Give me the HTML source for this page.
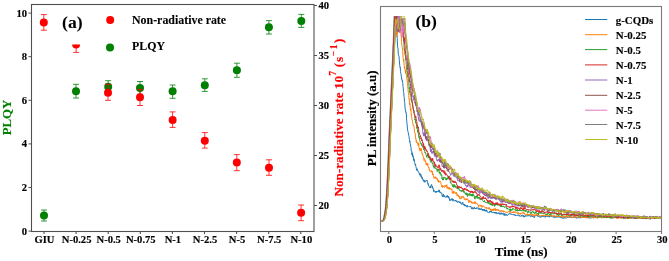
<!DOCTYPE html><html><head><meta charset="utf-8"><style>html,body{margin:0;padding:0;background:#fff;width:669px;height:261px;overflow:hidden}svg{display:block;will-change:transform;filter:blur(0.3px)}text{font-family:'Liberation Serif',serif;font-weight:bold;stroke:#000;stroke-width:0.15px}</style></head><body>
<svg width="669" height="261" viewBox="0 0 669 261">
<line x1="28.5" y1="231.1" x2="31.5" y2="231.1" stroke="#505050" stroke-width="1"/>
<text x="27" y="234.5" font-size="10.6" text-anchor="end">0</text>
<line x1="28.5" y1="187.5" x2="31.5" y2="187.5" stroke="#505050" stroke-width="1"/>
<text x="27" y="190.9" font-size="10.6" text-anchor="end">2</text>
<line x1="28.5" y1="143.89999999999998" x2="31.5" y2="143.89999999999998" stroke="#505050" stroke-width="1"/>
<text x="27" y="147.29999999999998" font-size="10.6" text-anchor="end">4</text>
<line x1="28.5" y1="100.29999999999998" x2="31.5" y2="100.29999999999998" stroke="#505050" stroke-width="1"/>
<text x="27" y="103.69999999999999" font-size="10.6" text-anchor="end">6</text>
<line x1="28.5" y1="56.69999999999999" x2="31.5" y2="56.69999999999999" stroke="#505050" stroke-width="1"/>
<text x="27" y="60.09999999999999" font-size="10.6" text-anchor="end">8</text>
<line x1="28.5" y1="13.099999999999994" x2="31.5" y2="13.099999999999994" stroke="#505050" stroke-width="1"/>
<text x="27" y="16.499999999999993" font-size="10.6" text-anchor="end">10</text>
<line x1="314" y1="205.5" x2="317" y2="205.5" stroke="#505050" stroke-width="1"/>
<text x="318.4" y="209.4" font-size="10.6">20</text>
<line x1="314" y1="155.5" x2="317" y2="155.5" stroke="#505050" stroke-width="1"/>
<text x="318.4" y="159.4" font-size="10.6">25</text>
<line x1="314" y1="105.5" x2="317" y2="105.5" stroke="#505050" stroke-width="1"/>
<text x="318.4" y="109.4" font-size="10.6">30</text>
<line x1="314" y1="55.5" x2="317" y2="55.5" stroke="#505050" stroke-width="1"/>
<text x="318.4" y="59.4" font-size="10.6">35</text>
<line x1="314" y1="5.5" x2="317" y2="5.5" stroke="#505050" stroke-width="1"/>
<text x="318.4" y="9.4" font-size="10.6">40</text>
<line x1="44.0" y1="231.5" x2="44.0" y2="234.1" stroke="#505050" stroke-width="1.1"/>
<text x="44.5" y="242.55" font-size="10.6" text-anchor="middle">GIU</text>
<line x1="76.1" y1="231.5" x2="76.1" y2="234.1" stroke="#505050" stroke-width="1.1"/>
<text x="76.6" y="242.55" font-size="10.6" text-anchor="middle">N-0.25</text>
<line x1="108.2" y1="231.5" x2="108.2" y2="234.1" stroke="#505050" stroke-width="1.1"/>
<text x="108.7" y="242.55" font-size="10.6" text-anchor="middle">N-0.5</text>
<line x1="140.3" y1="231.5" x2="140.3" y2="234.1" stroke="#505050" stroke-width="1.1"/>
<text x="140.8" y="242.55" font-size="10.6" text-anchor="middle">N-0.75</text>
<line x1="172.4" y1="231.5" x2="172.4" y2="234.1" stroke="#505050" stroke-width="1.1"/>
<text x="172.9" y="242.55" font-size="10.6" text-anchor="middle">N-1</text>
<line x1="204.5" y1="231.5" x2="204.5" y2="234.1" stroke="#505050" stroke-width="1.1"/>
<text x="205.0" y="242.55" font-size="10.6" text-anchor="middle">N-2.5</text>
<line x1="236.60000000000002" y1="231.5" x2="236.60000000000002" y2="234.1" stroke="#505050" stroke-width="1.1"/>
<text x="237.10000000000002" y="242.55" font-size="10.6" text-anchor="middle">N-5</text>
<line x1="268.70000000000005" y1="231.5" x2="268.70000000000005" y2="234.1" stroke="#505050" stroke-width="1.1"/>
<text x="269.20000000000005" y="242.55" font-size="10.6" text-anchor="middle">N-7.5</text>
<line x1="300.8" y1="231.5" x2="300.8" y2="234.1" stroke="#505050" stroke-width="1.1"/>
<text x="301.3" y="242.55" font-size="10.6" text-anchor="middle">N-10</text>
<line x1="44" y1="210" x2="44" y2="221" stroke="#008000" stroke-width="0.8"/>
<line x1="41" y1="210" x2="47" y2="210" stroke="#008000" stroke-width="0.8"/>
<line x1="41" y1="221" x2="47" y2="221" stroke="#008000" stroke-width="0.8"/>
<circle cx="44" cy="215.5" r="4" fill="#008000"/>
<line x1="76" y1="84.3" x2="76" y2="98" stroke="#008000" stroke-width="0.8"/>
<line x1="73" y1="84.3" x2="79" y2="84.3" stroke="#008000" stroke-width="0.8"/>
<line x1="73" y1="98" x2="79" y2="98" stroke="#008000" stroke-width="0.8"/>
<circle cx="76" cy="91.2" r="4" fill="#008000"/>
<line x1="108.2" y1="80.7" x2="108.2" y2="93" stroke="#008000" stroke-width="0.8"/>
<line x1="105.2" y1="80.7" x2="111.2" y2="80.7" stroke="#008000" stroke-width="0.8"/>
<line x1="105.2" y1="93" x2="111.2" y2="93" stroke="#008000" stroke-width="0.8"/>
<circle cx="108.2" cy="86.8" r="4" fill="#008000"/>
<line x1="140" y1="81.5" x2="140" y2="94.3" stroke="#008000" stroke-width="0.8"/>
<line x1="137" y1="81.5" x2="143" y2="81.5" stroke="#008000" stroke-width="0.8"/>
<line x1="137" y1="94.3" x2="143" y2="94.3" stroke="#008000" stroke-width="0.8"/>
<circle cx="140" cy="87.9" r="4" fill="#008000"/>
<line x1="172.6" y1="85" x2="172.6" y2="98.3" stroke="#008000" stroke-width="0.8"/>
<line x1="169.6" y1="85" x2="175.6" y2="85" stroke="#008000" stroke-width="0.8"/>
<line x1="169.6" y1="98.3" x2="175.6" y2="98.3" stroke="#008000" stroke-width="0.8"/>
<circle cx="172.6" cy="91.3" r="4" fill="#008000"/>
<line x1="204.8" y1="78.8" x2="204.8" y2="91.4" stroke="#008000" stroke-width="0.8"/>
<line x1="201.8" y1="78.8" x2="207.8" y2="78.8" stroke="#008000" stroke-width="0.8"/>
<line x1="201.8" y1="91.4" x2="207.8" y2="91.4" stroke="#008000" stroke-width="0.8"/>
<circle cx="204.8" cy="85.3" r="4" fill="#008000"/>
<line x1="236.9" y1="63.2" x2="236.9" y2="77.3" stroke="#008000" stroke-width="0.8"/>
<line x1="233.9" y1="63.2" x2="239.9" y2="63.2" stroke="#008000" stroke-width="0.8"/>
<line x1="233.9" y1="77.3" x2="239.9" y2="77.3" stroke="#008000" stroke-width="0.8"/>
<circle cx="236.9" cy="70.3" r="4" fill="#008000"/>
<line x1="268.9" y1="20.6" x2="268.9" y2="34" stroke="#008000" stroke-width="0.8"/>
<line x1="265.9" y1="20.6" x2="271.9" y2="20.6" stroke="#008000" stroke-width="0.8"/>
<line x1="265.9" y1="34" x2="271.9" y2="34" stroke="#008000" stroke-width="0.8"/>
<circle cx="268.9" cy="27.3" r="4" fill="#008000"/>
<line x1="301.3" y1="14.4" x2="301.3" y2="27.4" stroke="#008000" stroke-width="0.8"/>
<line x1="298.3" y1="14.4" x2="304.3" y2="14.4" stroke="#008000" stroke-width="0.8"/>
<line x1="298.3" y1="27.4" x2="304.3" y2="27.4" stroke="#008000" stroke-width="0.8"/>
<circle cx="301.3" cy="21.1" r="4" fill="#008000"/>
<line x1="43.8" y1="14.6" x2="43.8" y2="30.2" stroke="#ff0000" stroke-width="0.8"/>
<line x1="40.8" y1="14.6" x2="46.8" y2="14.6" stroke="#ff0000" stroke-width="0.8"/>
<line x1="40.8" y1="30.2" x2="46.8" y2="30.2" stroke="#ff0000" stroke-width="0.8"/>
<circle cx="43.8" cy="22.4" r="4" fill="#ff0000"/>
<line x1="76.1" y1="44.4" x2="76.1" y2="52.4" stroke="#ff0000" stroke-width="0.8"/>
<line x1="73.1" y1="52.4" x2="79.1" y2="52.4" stroke="#ff0000" stroke-width="0.8"/>
<path d="M72.1,44.4 A4,4 0 0 0 80.1,44.4 Z" fill="#ff0000"/>
<line x1="108" y1="84.2" x2="108" y2="100.3" stroke="#ff0000" stroke-width="0.8"/>
<line x1="105" y1="84.2" x2="111" y2="84.2" stroke="#ff0000" stroke-width="0.8"/>
<line x1="105" y1="100.3" x2="111" y2="100.3" stroke="#ff0000" stroke-width="0.8"/>
<circle cx="108" cy="92.7" r="4" fill="#ff0000"/>
<line x1="140" y1="89.4" x2="140" y2="105.5" stroke="#ff0000" stroke-width="0.8"/>
<line x1="137" y1="89.4" x2="143" y2="89.4" stroke="#ff0000" stroke-width="0.8"/>
<line x1="137" y1="105.5" x2="143" y2="105.5" stroke="#ff0000" stroke-width="0.8"/>
<circle cx="140" cy="97.3" r="4" fill="#ff0000"/>
<line x1="172.6" y1="111.9" x2="172.6" y2="127.4" stroke="#ff0000" stroke-width="0.8"/>
<line x1="169.6" y1="111.9" x2="175.6" y2="111.9" stroke="#ff0000" stroke-width="0.8"/>
<line x1="169.6" y1="127.4" x2="175.6" y2="127.4" stroke="#ff0000" stroke-width="0.8"/>
<circle cx="172.6" cy="120" r="4" fill="#ff0000"/>
<line x1="204.8" y1="132.6" x2="204.8" y2="148.1" stroke="#ff0000" stroke-width="0.8"/>
<line x1="201.8" y1="132.6" x2="207.8" y2="132.6" stroke="#ff0000" stroke-width="0.8"/>
<line x1="201.8" y1="148.1" x2="207.8" y2="148.1" stroke="#ff0000" stroke-width="0.8"/>
<circle cx="204.8" cy="140.7" r="4" fill="#ff0000"/>
<line x1="236.8" y1="154.6" x2="236.8" y2="170.7" stroke="#ff0000" stroke-width="0.8"/>
<line x1="233.8" y1="154.6" x2="239.8" y2="154.6" stroke="#ff0000" stroke-width="0.8"/>
<line x1="233.8" y1="170.7" x2="239.8" y2="170.7" stroke="#ff0000" stroke-width="0.8"/>
<circle cx="236.8" cy="162.6" r="4" fill="#ff0000"/>
<line x1="269" y1="159.8" x2="269" y2="175.3" stroke="#ff0000" stroke-width="0.8"/>
<line x1="266" y1="159.8" x2="272" y2="159.8" stroke="#ff0000" stroke-width="0.8"/>
<line x1="266" y1="175.3" x2="272" y2="175.3" stroke="#ff0000" stroke-width="0.8"/>
<circle cx="269" cy="167.8" r="4" fill="#ff0000"/>
<line x1="301.1" y1="205" x2="301.1" y2="220.7" stroke="#ff0000" stroke-width="0.8"/>
<line x1="298.1" y1="205" x2="304.1" y2="205" stroke="#ff0000" stroke-width="0.8"/>
<line x1="298.1" y1="220.7" x2="304.1" y2="220.7" stroke="#ff0000" stroke-width="0.8"/>
<circle cx="301.1" cy="212.8" r="4" fill="#ff0000"/>
<rect x="31.5" y="4.5" width="282.5" height="227.0" fill="none" stroke="#505050" stroke-width="1.1"/>
<circle cx="110.2" cy="20.1" r="4" fill="#ff0000"/>
<text x="132" y="23.7" font-size="11.9" style="stroke-width:0.1px">Non-radiative rate</text>
<circle cx="110" cy="47.5" r="4" fill="#008000"/>
<text x="132" y="49.8" font-size="11.9" style="stroke-width:0.1px">PLQY</text>
<text x="62.1" y="27.8" font-size="17.6" style="stroke-width:0.05px">(a)</text>
<text transform="translate(10.7,117.5) rotate(-90)" font-size="12.8" fill="#008000" style="stroke:#008000" text-anchor="middle">PLQY</text>
<text transform="rotate(-90)" x="-196.5" y="343.4" font-size="13.15" fill="#ff0000" style="stroke:#ff0000" text-anchor="start">Non-radiative rate</text>
<text transform="rotate(-90)" x="-82.55" y="343.4" font-size="13.2" fill="#ff0000" style="stroke:#ff0000" text-anchor="middle">10</text>
<text transform="rotate(-90)" x="-73.25" y="335.7" font-size="9.6" fill="#ff0000" style="stroke:#ff0000" text-anchor="middle">7</text>
<text transform="rotate(-90)" x="-64.95" y="343.4" font-size="13.2" fill="#ff0000" style="stroke:#ff0000" text-anchor="middle">(</text>
<text transform="rotate(-90)" x="-59.45" y="343.4" font-size="13.2" fill="#ff0000" style="stroke:#ff0000" text-anchor="middle">s</text>
<text transform="rotate(-90)" x="-53.5" y="337.3" font-size="9.6" fill="#ff0000" style="stroke:#ff0000" text-anchor="middle">−</text>
<text transform="rotate(-90)" x="-46.9" y="337.3" font-size="9.6" fill="#ff0000" style="stroke:#ff0000" text-anchor="middle">1</text>
<text transform="rotate(-90)" x="-40.9" y="343.4" font-size="13.2" fill="#ff0000" style="stroke:#ff0000" text-anchor="middle">)</text>
<line x1="388.8" y1="231.5" x2="388.8" y2="234.1" stroke="#7a7a7a" stroke-width="1.1"/>
<text x="389.40000000000003" y="242.55" font-size="10.6" text-anchor="middle">0</text>
<line x1="434.265" y1="231.5" x2="434.265" y2="234.1" stroke="#7a7a7a" stroke-width="1.1"/>
<text x="434.865" y="242.55" font-size="10.6" text-anchor="middle">5</text>
<line x1="479.73" y1="231.5" x2="479.73" y2="234.1" stroke="#7a7a7a" stroke-width="1.1"/>
<text x="480.33000000000004" y="242.55" font-size="10.6" text-anchor="middle">10</text>
<line x1="525.195" y1="231.5" x2="525.195" y2="234.1" stroke="#7a7a7a" stroke-width="1.1"/>
<text x="525.7950000000001" y="242.55" font-size="10.6" text-anchor="middle">15</text>
<line x1="570.6600000000001" y1="231.5" x2="570.6600000000001" y2="234.1" stroke="#7a7a7a" stroke-width="1.1"/>
<text x="571.2600000000001" y="242.55" font-size="10.6" text-anchor="middle">20</text>
<line x1="616.125" y1="231.5" x2="616.125" y2="234.1" stroke="#7a7a7a" stroke-width="1.1"/>
<text x="616.725" y="242.55" font-size="10.6" text-anchor="middle">25</text>
<line x1="661.59" y1="231.5" x2="661.59" y2="234.1" stroke="#7a7a7a" stroke-width="1.1"/>
<text x="662.19" y="242.55" font-size="10.6" text-anchor="middle">30</text>
<text x="521.3" y="255.7" font-size="13" text-anchor="middle">Time (ns)</text>
<text transform="translate(376.4,118.3) rotate(-90)" font-size="13" text-anchor="middle">PL intensity (a.u)</text>
<text x="415.4" y="27.4" font-size="17.6" style="stroke-width:0.05px">(b)</text>
<defs><clipPath id="cb"><rect x="381" y="16" width="280.5" height="215"/></clipPath></defs>
<g clip-path="url(#cb)">
<polyline points="380.50,221.2 380.75,221.1 381.00,221.1 381.25,221.1 381.50,221.0 381.75,221.0 382.00,220.9 382.25,220.6 382.50,220.4 382.75,220.1 383.00,219.5 383.25,219.0 383.50,218.4 383.75,217.5 384.00,216.3 384.25,214.9 384.50,213.7 384.75,212.2 385.00,210.6 385.25,208.7 385.50,206.5 385.75,203.5 386.00,200.3 386.25,196.5 386.50,192.6 386.75,188.3 387.00,183.8 387.25,178.4 387.50,173.1 387.75,167.3 388.00,161.4 388.25,154.9 388.50,148.6 388.75,142.3 389.00,136.0 389.25,130.6 389.50,125.0 389.75,119.4 390.00,114.2 390.25,108.6 390.50,103.1 390.75,97.6 391.00,92.4 391.25,86.7 391.50,81.0 391.75,76.1 392.00,70.0 392.25,64.5 392.50,58.8 392.75,52.3 393.00,45.5 393.25,43.1 393.50,35.0 393.75,27.7 394.00,23.5 394.25,16.0 394.50,16.0 394.75,16.0 395.00,19.7 395.25,19.5 395.50,20.6 395.75,20.8 396.00,21.9 396.25,29.1 396.50,30.7 396.75,33.5 397.00,35.1 397.25,38.4 397.50,45.9 397.75,47.8 398.00,48.0 398.25,54.2 398.50,54.2 398.75,55.9 399.00,56.2 399.25,59.3 399.50,63.0 399.75,65.3 400.00,67.3 400.25,67.0 400.50,71.6 400.75,73.2 401.00,73.8 401.25,75.8 401.50,77.1 401.75,79.5 402.00,79.3 402.25,81.2 402.50,80.8 402.75,83.3 403.00,86.4 403.25,88.0 403.50,91.9 403.75,92.6 404.00,96.3 404.25,97.7 404.50,102.2 404.75,102.4 405.00,107.2 405.25,109.9 405.50,109.8 405.75,112.4 406.00,113.0 406.25,112.7 406.50,118.8 406.75,121.4 407.00,123.5 407.25,126.1 407.50,129.3 407.75,131.1 408.00,131.3 408.25,132.4 408.50,135.0 408.75,135.1 409.00,136.3 409.25,139.1 409.50,139.3 409.75,142.1 410.00,141.6 410.25,143.7 410.50,145.0 410.75,146.9 411.00,147.7 411.25,151.0 411.50,151.4 411.75,151.2 412.00,154.8 412.25,152.8 412.50,156.3 412.75,154.7 413.00,157.2 413.25,156.6 413.50,158.1 413.75,160.6 414.00,158.8 414.25,159.5 414.50,161.8 414.75,162.9 415.00,163.6 415.25,165.2 415.50,164.0 415.75,166.3 416.00,166.7 416.25,168.3 416.50,168.9 416.75,170.3 417.00,168.6 417.25,170.3 417.50,169.6 417.75,170.6 418.00,171.5 418.25,171.5 418.50,172.1 418.75,172.1 419.00,172.9 419.25,173.4 419.50,174.9 419.75,174.9 420.00,173.3 420.25,175.7 420.50,176.3 420.75,175.4 421.00,174.6 421.25,177.1 421.50,176.3 421.75,177.0 422.00,178.6 422.25,177.2 422.50,178.5 422.75,179.1 423.00,180.3 423.25,179.6 423.50,180.7 423.75,180.6 424.00,181.8 424.25,182.2 424.50,180.4 424.75,182.1 425.00,181.5 425.25,181.7 425.50,181.7 425.75,181.5 426.00,180.3 426.25,180.8 426.50,180.7 426.75,180.7 427.00,180.0 427.25,180.9 427.50,181.7 427.75,183.1 428.00,184.6 428.25,183.6 428.50,184.4 428.75,186.1 429.00,186.4 429.25,186.8 429.50,187.1 429.75,187.2 430.00,188.1 430.25,186.3 430.50,188.0 430.75,185.9 431.00,185.8 431.25,185.2 431.50,184.4 431.75,184.8 432.00,187.1 432.25,187.9 432.50,186.5 432.75,188.4 433.00,188.3 433.25,188.3 433.50,190.8 433.75,191.7 434.00,190.3 434.25,190.7 434.50,191.1 434.75,190.9 435.00,191.7 435.25,192.3 435.50,191.4 435.75,192.2 436.00,192.8 436.25,191.2 436.50,191.5 436.75,191.0 437.00,191.9 437.25,191.6 437.50,191.8 437.75,191.7 438.00,190.9 438.25,191.7 438.50,190.9 438.75,191.0 439.00,189.8 439.25,192.3 439.50,190.7 439.75,191.5 440.00,191.6 440.25,192.9 440.50,192.5 440.75,192.0 441.00,193.1 441.25,193.4 441.50,194.1 441.75,193.4 442.00,194.5 442.25,196.2 442.50,195.2 442.75,196.1 443.00,197.1 443.25,195.2 443.50,194.1 443.75,195.3 444.00,196.5 444.25,196.7 444.50,195.7 444.75,196.7 445.00,197.1 445.25,197.3 445.50,197.2 445.75,196.6 446.00,196.6 446.25,196.6 446.50,197.2 446.75,196.0 447.00,196.6 447.25,195.4 447.50,197.1 447.75,196.5 448.00,196.7 448.25,197.9 448.50,196.2 448.75,196.8 449.00,198.4 449.25,197.8 449.50,198.4 449.75,200.7 450.00,199.1 450.25,199.6 450.50,199.7 450.75,200.6 451.00,200.1 451.25,199.9 451.50,198.8 451.75,199.3 452.00,199.5 452.25,198.5 452.50,200.0 452.75,200.1 453.00,201.2 453.25,199.1 453.50,199.7 453.75,199.9 454.00,200.2 454.25,200.8 454.50,200.8 454.75,201.2 455.00,201.2 455.25,201.0 455.50,200.0 455.75,200.7 456.00,201.1 456.25,201.6 456.50,201.8 456.75,200.6 457.00,201.5 457.25,201.9 457.50,202.2 457.75,202.6 458.00,201.8 458.25,201.0 458.50,201.7 458.75,201.6 459.00,201.6 459.25,201.5 459.50,202.7 459.75,202.0 460.00,202.6 460.25,201.8 460.50,203.2 460.75,202.8 461.00,202.6 461.25,204.1 461.50,204.4 461.75,203.9 462.00,203.9 462.25,204.3 462.50,203.2 462.75,202.1 463.00,203.6 463.25,203.8 463.50,204.6 463.75,204.1 464.00,205.4 464.25,205.6 464.50,204.4 464.75,205.9 465.00,205.0 465.25,204.9 465.50,205.9 465.75,205.9 466.00,205.2 466.25,206.5 466.50,206.8 466.75,207.2 467.00,206.3 467.25,205.4 467.50,205.8 467.75,207.0 468.00,207.0 468.25,206.9 468.50,206.5 468.75,206.8 469.00,206.5 469.25,206.5 469.50,206.8 469.75,206.6 470.00,206.6 470.25,206.8 470.50,206.7 470.75,206.0 471.00,207.0 471.25,207.5 471.50,208.7 471.75,207.7 472.00,209.1 472.25,208.9 472.50,207.6 472.75,207.7 473.00,208.3 473.25,209.2 473.50,208.4 473.75,208.6 474.00,207.9 474.25,207.0 474.50,208.2 474.75,208.7 475.00,208.9 475.25,208.2 475.50,208.2 475.75,208.8 476.00,208.2 476.25,209.0 476.50,207.8 476.75,207.7 477.00,207.6 477.25,208.4 477.50,207.8 477.75,208.1 478.00,208.4 478.25,208.6 478.50,209.3 478.75,209.5 479.00,208.4 479.25,209.0 479.50,208.8 479.75,208.4 480.00,209.9 480.25,209.4 480.50,208.9 480.75,208.8 481.00,209.3 481.25,208.5 481.50,209.0 481.75,209.9 482.00,209.9 482.25,209.0 482.50,209.3 482.75,210.7 483.00,209.0 483.25,209.5 483.50,209.2 483.75,210.3 484.00,210.4 484.25,211.1 484.50,209.3 484.75,211.0 485.00,210.0 485.25,211.1 485.50,210.5 485.75,211.3 486.00,210.4 486.25,209.7 486.50,211.1 486.75,210.2 487.00,211.0 487.25,212.1 487.50,212.2 487.75,212.4 488.00,212.4 488.25,212.7 488.50,212.9 488.75,212.6 489.00,212.9 489.25,212.8 489.50,211.9 489.75,211.2 490.00,212.3 490.25,211.4 490.50,211.7 490.75,211.9 491.00,211.0 491.25,211.8 491.50,210.9 491.75,212.4 492.00,212.0 492.25,212.5 492.50,212.9 492.75,212.2 493.00,212.6 493.25,212.2 493.50,212.5 493.75,213.1 494.00,212.6 494.25,212.6 494.50,212.1 494.75,213.1 495.00,212.5 495.25,213.3 495.50,212.1 495.75,213.0 496.00,213.4 496.25,212.7 496.50,212.3 496.75,213.8 497.00,213.7 497.25,213.5 497.50,213.7 497.75,212.9 498.00,213.4 498.25,213.4 498.50,212.7 498.75,213.4 499.00,212.8 499.25,213.6 499.50,213.9 499.75,214.4 500.00,212.7 500.25,214.0 500.50,213.9 500.75,214.1 501.00,213.9 501.25,213.9 501.50,212.8 501.75,214.2 502.00,214.3 502.25,214.0 502.50,214.1 502.75,213.2 503.00,213.3 503.25,214.4 503.50,214.8 503.75,214.4 504.00,213.6 504.25,215.6 504.50,213.9 504.75,214.6 505.00,213.6 505.25,214.8 505.50,214.6 505.75,215.4 506.00,215.3 506.25,214.3 506.50,214.6 506.75,215.2 507.00,215.4 507.25,215.8 507.50,215.0 507.75,214.8 508.00,214.7 508.25,214.6 508.50,215.0 508.75,214.4 509.00,214.2 509.25,213.4 509.50,213.0 509.75,213.8 510.00,214.0 510.25,213.7 510.50,213.9 510.75,214.1 511.00,213.9 511.25,214.5 511.50,213.9 511.75,214.3 512.00,214.3 512.25,214.5 512.50,214.9 512.75,215.0 513.00,214.7 513.25,214.8 513.50,214.4 513.75,214.5 514.00,215.1 514.25,214.4 514.50,215.1 514.75,214.8 515.00,214.8 515.25,215.9 515.50,215.0 515.75,215.1 516.00,215.3 516.25,215.5 516.50,215.4 516.75,215.5 517.00,215.1 517.25,215.2 517.50,214.8 517.75,215.4 518.00,214.8 518.25,214.9 518.50,215.2 518.75,215.4 519.00,215.1 519.25,216.3 519.50,215.5 519.75,215.8 520.00,215.9 520.25,215.9 520.50,216.4 520.75,216.1 521.00,215.6 521.25,215.6 521.50,215.6 521.75,216.3 522.00,215.3 522.25,214.9 522.50,214.9 522.75,215.3 523.00,216.3 523.25,215.3 523.50,216.0 523.75,217.2 524.00,216.0 524.25,216.9 524.50,216.8 524.75,216.5 525.00,215.6 525.25,216.4 525.50,216.1 525.75,215.3 526.00,215.3 526.25,215.9 526.50,215.9 526.75,216.3 527.00,216.1 527.25,215.6 527.50,215.7 527.75,215.9 528.00,215.4 528.25,216.2 528.50,215.8 528.75,215.4 529.00,215.4 529.25,215.2 529.50,215.6 529.75,215.9 530.00,215.7 530.25,216.3 530.50,216.6 530.75,215.5 531.00,215.8 531.25,215.5 531.50,216.4 531.75,215.7 532.00,215.8 532.25,215.9 532.50,216.6 532.75,215.9 533.00,215.5 533.25,215.9 533.50,216.6 533.75,216.5 534.00,216.3 534.25,217.9 534.50,216.7 534.75,216.3 535.00,216.2 535.25,215.6 535.50,215.7 535.75,215.9 536.00,215.7 536.25,215.4 536.50,216.0 536.75,215.8 537.00,215.5 537.25,215.1 537.50,216.2 537.75,216.2 538.00,216.2 538.25,215.7 538.50,216.4 538.75,215.8 539.00,216.9 539.25,216.7 539.50,216.8 539.75,216.4 540.00,216.3 540.25,217.5 540.50,217.2 540.75,216.6 541.00,216.9 541.25,217.2 541.50,215.9 541.75,216.0 542.00,215.9 542.25,216.3 542.50,215.6 542.75,216.3 543.00,215.8 543.25,216.8 543.50,216.9 543.75,216.5 544.00,217.0 544.25,216.4 544.50,216.6 544.75,217.2 545.00,216.7 545.25,216.9 545.50,216.4 545.75,217.1 546.00,217.1 546.25,216.4 546.50,215.9 546.75,216.0 547.00,216.8 547.25,216.6 547.50,216.0 547.75,216.7 548.00,217.0 548.25,216.5 548.50,216.4 548.75,217.0 549.00,217.3 549.25,217.1 549.50,216.0 549.75,216.5 550.00,216.2 550.25,216.0 550.50,215.9 550.75,216.3 551.00,216.0 551.25,216.7 551.50,216.6 551.75,216.9 552.00,216.0 552.25,216.5 552.50,216.9 552.75,216.8 553.00,216.8 553.25,216.5 553.50,217.6 553.75,217.5 554.00,217.4 554.25,216.2 554.50,216.9 554.75,217.4 555.00,217.0 555.25,216.4 555.50,217.4 555.75,217.4 556.00,216.7 556.25,217.1 556.50,216.9 556.75,217.4 557.00,216.1 557.25,216.1 557.50,216.4 557.75,216.3 558.00,217.4 558.25,216.2 558.50,216.6 558.75,216.4 559.00,216.3 559.25,216.8 559.50,217.4 559.75,216.6 560.00,217.1 560.25,217.0 560.50,217.2 560.75,217.2 561.00,218.1 561.25,216.7 561.50,217.2 561.75,217.0 562.00,216.8 562.25,217.8 562.50,218.6 562.75,218.3 563.00,218.4 563.25,218.0 563.50,217.6 563.75,218.4 564.00,217.4 564.25,218.2 564.50,217.5 564.75,217.7 565.00,217.9 565.25,217.8 565.50,218.0 565.75,217.9 566.00,218.3 566.25,217.6 566.50,216.7 566.75,216.6 567.00,216.8 567.25,217.1 567.50,217.6 567.75,216.7 568.00,217.4 568.25,217.4 568.50,217.5 568.75,217.4 569.00,217.6 569.25,217.4 569.50,217.7 569.75,217.3 570.00,216.1 570.25,217.1 570.50,217.2 570.75,217.0 571.00,217.0 571.25,217.9 571.50,217.7 571.75,217.2 572.00,217.5 572.25,217.6 572.50,216.9 572.75,217.8 573.00,217.4 573.25,217.5 573.50,216.5 573.75,217.9 574.00,217.2 574.25,217.1 574.50,216.6 574.75,216.7 575.00,216.4 575.25,217.7 575.50,216.8 575.75,217.3 576.00,217.5 576.25,217.0 576.50,217.7 576.75,218.3 577.00,217.6 577.25,218.2 577.50,217.8 577.75,217.4 578.00,217.4 578.25,216.8 578.50,217.5 578.75,218.1 579.00,217.7 579.25,217.8 579.50,217.9 579.75,217.1 580.00,217.6 580.25,218.2 580.50,217.0 580.75,217.4 581.00,217.2 581.25,217.4 581.50,217.2 581.75,217.5 582.00,216.9 582.25,217.2 582.50,217.1 582.75,217.0 583.00,217.6 583.25,217.0 583.50,217.0 583.75,216.8 584.00,217.4 584.25,216.2 584.50,216.9 584.75,217.4 585.00,217.7 585.25,217.2 585.50,217.2 585.75,217.6 586.00,217.4 586.25,217.8 586.50,217.4 586.75,217.9 587.00,217.6 587.25,217.1 587.50,216.3 587.75,217.6 588.00,217.2 588.25,217.2 588.50,216.4 588.75,217.2 589.00,217.0 589.25,217.0 589.50,217.6 589.75,217.8 590.00,217.7 590.25,218.4 590.50,218.1 590.75,217.6 591.00,217.3 591.25,217.5 591.50,218.2 591.75,217.7 592.00,217.3 592.25,217.4 592.50,217.6 592.75,217.9 593.00,217.2 593.25,217.6 593.50,217.8 593.75,217.5 594.00,216.6 594.25,217.1 594.50,216.8 594.75,217.6 595.00,217.1 595.25,217.7 595.50,217.6 595.75,216.4 596.00,217.2 596.25,217.7 596.50,217.5 596.75,217.4 597.00,217.0 597.25,217.7 597.50,218.2 597.75,217.7 598.00,217.6 598.25,217.6 598.50,217.1 598.75,217.5 599.00,217.2 599.25,218.0 599.50,217.1 599.75,216.6 600.00,217.0 600.25,217.2 600.50,217.2 600.75,216.5 601.00,217.7 601.25,217.5 601.50,217.4 601.75,217.3 602.00,217.9 602.25,217.6 602.50,217.8 602.75,217.5 603.00,217.5 603.25,217.8 603.50,217.3 603.75,216.9 604.00,217.7 604.25,217.4 604.50,217.1 604.75,217.9 605.00,217.4 605.25,218.0 605.50,217.2 605.75,216.7 606.00,216.7 606.25,217.6 606.50,217.0 606.75,217.2 607.00,217.1 607.25,216.5 607.50,217.7 607.75,216.8 608.00,217.4 608.25,216.9 608.50,217.4 608.75,217.8 609.00,217.4 609.25,217.1 609.50,217.4 609.75,217.2 610.00,217.7 610.25,218.4 610.50,217.1 610.75,217.2 611.00,217.4 611.25,217.4 611.50,217.0 611.75,217.6 612.00,217.8 612.25,217.7 612.50,217.2 612.75,218.2 613.00,217.1 613.25,217.7 613.50,217.8 613.75,216.7 614.00,217.2 614.25,217.7 614.50,217.3 614.75,216.8 615.00,216.7 615.25,217.4 615.50,217.1 615.75,217.0 616.00,217.6 616.25,217.3 616.50,217.5 616.75,217.8 617.00,217.7 617.25,217.4 617.50,217.3 617.75,217.4 618.00,217.3 618.25,216.6 618.50,216.9 618.75,216.7 619.00,216.6 619.25,216.9 619.50,216.2 619.75,217.5 620.00,216.8 620.25,217.2 620.50,216.3 620.75,216.3 621.00,217.9 621.25,217.5 621.50,216.9 621.75,217.0 622.00,217.2 622.25,217.7 622.50,217.6 622.75,217.6 623.00,218.0 623.25,217.6 623.50,219.0 623.75,217.7 624.00,218.4 624.25,217.5 624.50,218.0 624.75,218.3 625.00,217.8 625.25,218.3 625.50,218.3 625.75,218.5 626.00,217.8 626.25,217.6 626.50,217.4 626.75,217.9 627.00,217.5 627.25,218.1 627.50,218.2 627.75,217.9 628.00,217.7 628.25,218.2 628.50,218.1 628.75,218.0 629.00,217.9 629.25,218.3 629.50,217.5 629.75,218.0 630.00,217.5 630.25,217.9 630.50,217.3 630.75,217.3 631.00,217.6 631.25,216.6 631.50,217.4 631.75,217.0 632.00,217.4 632.25,218.2 632.50,218.2 632.75,217.9 633.00,218.0 633.25,217.9 633.50,218.0 633.75,218.5 634.00,217.8 634.25,218.6 634.50,217.4 634.75,217.9 635.00,217.9 635.25,217.8 635.50,217.6 635.75,218.4 636.00,218.5 636.25,218.2 636.50,218.6 636.75,218.1 637.00,217.0 637.25,218.1 637.50,217.5 637.75,218.4 638.00,217.8 638.25,218.1 638.50,218.1 638.75,217.9 639.00,217.3 639.25,217.9 639.50,217.8 639.75,218.2 640.00,217.5 640.25,217.9 640.50,217.4 640.75,217.8 641.00,217.1 641.25,218.7 641.50,218.1 641.75,217.7 642.00,218.3 642.25,218.6 642.50,218.3 642.75,218.8 643.00,218.1 643.25,217.1 643.50,217.6 643.75,218.5 644.00,218.4 644.25,218.2 644.50,217.6 644.75,218.4 645.00,218.3 645.25,217.6 645.50,217.5 645.75,218.1 646.00,218.4 646.25,218.6 646.50,218.2 646.75,218.8 647.00,217.6 647.25,218.1 647.50,217.6 647.75,217.0 648.00,217.3 648.25,218.3 648.50,217.4 648.75,217.3 649.00,218.2 649.25,218.4 649.50,218.1 649.75,218.8 650.00,217.6 650.25,219.3 650.50,218.7 650.75,218.3 651.00,218.3 651.25,218.0 651.50,217.9 651.75,218.0 652.00,217.3 652.25,218.6 652.50,217.7 652.75,217.9 653.00,217.6 653.25,217.6 653.50,218.1 653.75,218.0 654.00,217.4 654.25,217.6 654.50,218.0 654.75,216.9 655.00,216.7 655.25,218.3 655.50,217.6 655.75,216.7 656.00,217.4 656.25,217.7 656.50,217.9 656.75,218.0 657.00,217.8 657.25,217.8 657.50,217.3 657.75,217.8 658.00,217.8 658.25,218.2 658.50,217.8 658.75,218.2 659.00,218.0 659.25,217.4 659.50,217.6 659.75,217.4 660.00,217.4 660.25,217.5 660.50,217.5 660.75,217.6 661.00,217.2 661.25,218.0 661.50,217.1 661.75,217.7" fill="none" stroke="#1f77b4" stroke-width="1.0" stroke-linejoin="round"/>
<polyline points="380.50,221.2 380.75,221.2 381.00,221.2 381.25,221.1 381.50,221.2 381.75,221.1 382.00,220.9 382.25,220.8 382.50,220.8 382.75,220.5 383.00,220.3 383.25,219.9 383.50,219.5 383.75,218.8 384.00,218.1 384.25,216.9 384.50,215.8 384.75,214.4 385.00,213.2 385.25,211.4 385.50,209.7 385.75,207.7 386.00,205.4 386.25,202.1 386.50,198.6 386.75,195.1 387.00,191.0 387.25,186.4 387.50,181.5 387.75,176.4 388.00,170.8 388.25,165.2 388.50,159.1 388.75,152.7 389.00,146.6 389.25,140.1 389.50,133.8 389.75,128.2 390.00,122.7 390.25,116.9 390.50,111.9 390.75,106.1 391.00,100.5 391.25,95.1 391.50,90.0 391.75,84.3 392.00,78.7 392.25,73.7 392.50,67.9 392.75,62.6 393.00,58.9 393.25,49.2 393.50,43.9 393.75,37.5 394.00,33.0 394.25,26.4 394.50,16.6 394.75,16.0 395.00,16.0 395.25,19.6 395.50,16.0 395.75,16.0 396.00,16.0 396.25,36.8 396.50,36.4 396.75,35.8 397.00,35.2 397.25,20.0 397.50,33.6 397.75,32.6 398.00,31.5 398.25,30.3 398.50,29.3 398.75,28.3 399.00,27.5 399.25,27.0 399.50,26.8 399.75,23.9 400.00,21.9 400.25,25.4 400.50,31.0 400.75,29.0 401.00,35.5 401.25,37.4 401.50,41.7 401.75,45.0 402.00,45.5 402.25,47.4 402.50,50.0 402.75,50.6 403.00,57.5 403.25,58.0 403.50,61.3 403.75,59.2 404.00,64.0 404.25,65.9 404.50,68.3 404.75,67.0 405.00,69.9 405.25,69.9 405.50,73.8 405.75,70.3 406.00,72.4 406.25,73.4 406.50,74.1 406.75,77.9 407.00,80.0 407.25,81.0 407.50,83.7 407.75,86.8 408.00,88.8 408.25,92.1 408.50,93.2 408.75,95.6 409.00,99.1 409.25,98.8 409.50,104.7 409.75,104.5 410.00,103.5 410.25,107.4 410.50,110.3 410.75,108.3 411.00,111.0 411.25,114.8 411.50,114.2 411.75,117.9 412.00,119.8 412.25,119.9 412.50,121.6 412.75,123.6 413.00,123.9 413.25,125.6 413.50,125.2 413.75,126.2 414.00,126.3 414.25,128.9 414.50,131.3 414.75,133.0 415.00,133.6 415.25,133.5 415.50,136.0 415.75,139.1 416.00,138.8 416.25,142.1 416.50,140.6 416.75,142.7 417.00,141.9 417.25,142.5 417.50,143.9 417.75,143.8 418.00,145.8 418.25,145.4 418.50,145.0 418.75,142.8 419.00,147.1 419.25,148.4 419.50,150.0 419.75,148.2 420.00,151.2 420.25,150.4 420.50,149.3 420.75,150.9 421.00,148.2 421.25,148.9 421.50,150.9 421.75,151.5 422.00,153.1 422.25,154.3 422.50,153.6 422.75,154.6 423.00,155.9 423.25,156.9 423.50,158.4 423.75,158.2 424.00,160.5 424.25,159.6 424.50,158.6 424.75,159.2 425.00,161.3 425.25,161.7 425.50,160.7 425.75,160.9 426.00,164.6 426.25,164.0 426.50,163.7 426.75,163.0 427.00,165.2 427.25,164.1 427.50,165.4 427.75,163.4 428.00,165.8 428.25,166.9 428.50,167.7 428.75,167.0 429.00,167.8 429.25,169.8 429.50,169.0 429.75,170.9 430.00,170.7 430.25,171.6 430.50,171.9 430.75,171.6 431.00,172.0 431.25,170.7 431.50,170.5 431.75,171.4 432.00,172.3 432.25,171.0 432.50,174.2 432.75,175.1 433.00,173.8 433.25,174.9 433.50,175.4 433.75,177.0 434.00,178.3 434.25,177.8 434.50,176.9 434.75,178.0 435.00,177.8 435.25,178.4 435.50,178.2 435.75,176.7 436.00,177.3 436.25,178.9 436.50,179.1 436.75,179.0 437.00,178.2 437.25,179.8 437.50,179.3 437.75,181.3 438.00,181.0 438.25,180.2 438.50,180.3 438.75,182.3 439.00,182.2 439.25,181.0 439.50,182.0 439.75,182.1 440.00,181.4 440.25,182.0 440.50,181.6 440.75,182.5 441.00,184.2 441.25,184.6 441.50,185.2 441.75,186.8 442.00,186.8 442.25,185.4 442.50,187.5 442.75,185.5 443.00,186.1 443.25,186.7 443.50,186.4 443.75,186.6 444.00,186.2 444.25,187.5 444.50,187.2 444.75,187.0 445.00,185.0 445.25,185.4 445.50,186.6 445.75,186.0 446.00,186.2 446.25,185.7 446.50,185.8 446.75,184.6 447.00,188.3 447.25,186.5 447.50,187.3 447.75,188.4 448.00,188.0 448.25,188.2 448.50,187.7 448.75,187.1 449.00,189.3 449.25,187.5 449.50,189.2 449.75,188.1 450.00,189.1 450.25,188.5 450.50,189.0 450.75,188.4 451.00,189.1 451.25,189.8 451.50,188.9 451.75,189.4 452.00,189.1 452.25,192.9 452.50,192.2 452.75,191.8 453.00,193.7 453.25,193.1 453.50,191.3 453.75,191.7 454.00,193.3 454.25,191.4 454.50,191.5 454.75,191.8 455.00,192.1 455.25,192.4 455.50,193.5 455.75,193.4 456.00,192.8 456.25,193.4 456.50,192.3 456.75,194.0 457.00,195.7 457.25,194.5 457.50,194.4 457.75,194.6 458.00,195.3 458.25,196.3 458.50,194.9 458.75,196.7 459.00,196.0 459.25,196.9 459.50,197.8 459.75,196.2 460.00,199.2 460.25,198.4 460.50,197.9 460.75,198.7 461.00,198.0 461.25,198.5 461.50,198.5 461.75,196.3 462.00,197.5 462.25,197.0 462.50,197.3 462.75,196.9 463.00,196.0 463.25,196.3 463.50,197.0 463.75,197.9 464.00,197.4 464.25,199.4 464.50,198.9 464.75,199.2 465.00,199.9 465.25,199.4 465.50,200.1 465.75,200.2 466.00,198.5 466.25,199.2 466.50,198.9 466.75,199.8 467.00,199.3 467.25,199.6 467.50,199.4 467.75,198.7 468.00,200.5 468.25,200.2 468.50,200.5 468.75,202.8 469.00,201.5 469.25,200.7 469.50,200.5 469.75,201.6 470.00,200.7 470.25,200.9 470.50,202.1 470.75,201.0 471.00,201.0 471.25,202.0 471.50,203.1 471.75,201.8 472.00,203.1 472.25,203.3 472.50,203.0 472.75,203.4 473.00,202.3 473.25,202.4 473.50,202.1 473.75,202.6 474.00,203.5 474.25,203.2 474.50,202.6 474.75,203.5 475.00,201.5 475.25,203.5 475.50,203.7 475.75,202.6 476.00,202.9 476.25,203.3 476.50,203.5 476.75,203.2 477.00,203.2 477.25,203.6 477.50,204.6 477.75,204.5 478.00,204.6 478.25,204.9 478.50,207.5 478.75,206.2 479.00,206.1 479.25,205.7 479.50,205.3 479.75,204.8 480.00,205.0 480.25,205.6 480.50,205.7 480.75,204.9 481.00,206.6 481.25,206.2 481.50,205.5 481.75,206.1 482.00,207.4 482.25,205.9 482.50,206.2 482.75,206.1 483.00,205.6 483.25,206.2 483.50,206.9 483.75,206.5 484.00,206.9 484.25,207.3 484.50,207.2 484.75,207.3 485.00,207.7 485.25,207.8 485.50,207.6 485.75,208.2 486.00,208.5 486.25,207.1 486.50,208.2 486.75,208.1 487.00,208.2 487.25,208.1 487.50,208.1 487.75,208.2 488.00,208.7 488.25,207.8 488.50,208.7 488.75,207.7 489.00,209.3 489.25,208.8 489.50,207.7 489.75,208.6 490.00,209.1 490.25,208.8 490.50,209.9 490.75,209.5 491.00,210.9 491.25,210.1 491.50,210.3 491.75,209.6 492.00,209.5 492.25,210.4 492.50,209.0 492.75,210.1 493.00,210.9 493.25,211.0 493.50,208.8 493.75,209.7 494.00,210.0 494.25,210.0 494.50,210.2 494.75,208.7 495.00,209.5 495.25,208.4 495.50,209.6 495.75,210.9 496.00,209.2 496.25,210.0 496.50,210.1 496.75,209.2 497.00,210.2 497.25,209.4 497.50,210.0 497.75,210.4 498.00,209.7 498.25,210.5 498.50,209.7 498.75,210.0 499.00,210.8 499.25,210.6 499.50,210.8 499.75,211.3 500.00,210.6 500.25,211.2 500.50,210.7 500.75,211.5 501.00,210.8 501.25,210.6 501.50,211.3 501.75,211.1 502.00,211.2 502.25,210.6 502.50,211.4 502.75,210.9 503.00,210.5 503.25,211.2 503.50,212.4 503.75,211.6 504.00,211.2 504.25,211.9 504.50,211.2 504.75,211.5 505.00,211.7 505.25,212.1 505.50,212.2 505.75,212.2 506.00,212.1 506.25,212.0 506.50,212.1 506.75,212.5 507.00,212.2 507.25,211.9 507.50,212.8 507.75,212.2 508.00,212.0 508.25,211.6 508.50,211.5 508.75,211.5 509.00,211.8 509.25,211.1 509.50,211.3 509.75,212.4 510.00,211.6 510.25,212.3 510.50,210.9 510.75,212.3 511.00,212.5 511.25,212.6 511.50,212.9 511.75,213.0 512.00,212.2 512.25,212.9 512.50,212.4 512.75,212.1 513.00,213.1 513.25,211.5 513.50,212.0 513.75,211.8 514.00,212.7 514.25,211.9 514.50,212.2 514.75,212.7 515.00,211.4 515.25,212.3 515.50,212.8 515.75,212.6 516.00,212.3 516.25,212.3 516.50,212.7 516.75,212.5 517.00,212.4 517.25,213.8 517.50,213.3 517.75,213.5 518.00,212.9 518.25,212.3 518.50,212.8 518.75,213.8 519.00,213.7 519.25,213.2 519.50,214.1 519.75,213.9 520.00,213.6 520.25,214.5 520.50,213.0 520.75,213.1 521.00,212.9 521.25,213.7 521.50,213.6 521.75,213.5 522.00,213.1 522.25,213.2 522.50,213.1 522.75,212.2 523.00,212.4 523.25,213.4 523.50,213.4 523.75,212.4 524.00,213.6 524.25,213.0 524.50,213.1 524.75,214.4 525.00,214.5 525.25,214.4 525.50,215.0 525.75,215.1 526.00,214.8 526.25,214.2 526.50,214.8 526.75,214.6 527.00,214.7 527.25,215.0 527.50,213.6 527.75,215.4 528.00,214.6 528.25,214.1 528.50,215.1 528.75,214.2 529.00,214.0 529.25,215.0 529.50,214.5 529.75,215.1 530.00,214.3 530.25,214.5 530.50,214.5 530.75,213.9 531.00,214.4 531.25,214.0 531.50,214.4 531.75,215.4 532.00,214.8 532.25,214.7 532.50,215.7 532.75,214.4 533.00,215.0 533.25,214.9 533.50,215.5 533.75,215.1 534.00,215.0 534.25,215.3 534.50,215.2 534.75,216.2 535.00,214.5 535.25,215.6 535.50,216.0 535.75,215.3 536.00,215.2 536.25,214.5 536.50,215.2 536.75,214.6 537.00,215.2 537.25,213.6 537.50,214.4 537.75,213.7 538.00,215.2 538.25,214.4 538.50,215.3 538.75,214.7 539.00,214.8 539.25,216.0 539.50,215.9 539.75,216.1 540.00,216.4 540.25,216.1 540.50,216.2 540.75,216.4 541.00,215.5 541.25,215.2 541.50,216.0 541.75,215.7 542.00,215.5 542.25,215.6 542.50,215.9 542.75,215.2 543.00,215.2 543.25,215.3 543.50,215.8 543.75,214.8 544.00,215.0 544.25,215.9 544.50,215.7 544.75,214.9 545.00,215.6 545.25,214.8 545.50,214.8 545.75,215.1 546.00,214.9 546.25,215.6 546.50,215.3 546.75,216.2 547.00,214.4 547.25,214.9 547.50,215.2 547.75,215.7 548.00,215.3 548.25,215.2 548.50,215.2 548.75,215.2 549.00,215.9 549.25,215.3 549.50,215.7 549.75,216.0 550.00,216.0 550.25,215.4 550.50,215.1 550.75,216.3 551.00,214.9 551.25,215.1 551.50,216.1 551.75,216.2 552.00,216.1 552.25,215.6 552.50,216.3 552.75,216.6 553.00,215.9 553.25,216.9 553.50,215.8 553.75,215.3 554.00,215.6 554.25,215.4 554.50,215.6 554.75,215.5 555.00,215.9 555.25,216.4 555.50,216.2 555.75,216.2 556.00,215.7 556.25,215.6 556.50,216.2 556.75,216.8 557.00,216.9 557.25,216.7 557.50,216.1 557.75,216.6 558.00,216.8 558.25,217.2 558.50,216.4 558.75,216.6 559.00,216.7 559.25,216.6 559.50,215.9 559.75,216.6 560.00,215.8 560.25,215.9 560.50,216.5 560.75,216.2 561.00,216.7 561.25,217.0 561.50,216.8 561.75,217.0 562.00,216.3 562.25,216.5 562.50,216.2 562.75,216.1 563.00,217.9 563.25,216.4 563.50,217.4 563.75,216.5 564.00,216.9 564.25,216.4 564.50,215.8 564.75,217.0 565.00,216.1 565.25,216.3 565.50,217.2 565.75,216.1 566.00,216.5 566.25,216.8 566.50,216.9 566.75,215.2 567.00,216.7 567.25,217.3 567.50,216.9 567.75,216.6 568.00,216.7 568.25,216.6 568.50,217.1 568.75,216.5 569.00,217.0 569.25,217.4 569.50,217.3 569.75,217.2 570.00,216.7 570.25,217.0 570.50,217.4 570.75,217.2 571.00,217.1 571.25,216.3 571.50,217.4 571.75,216.9 572.00,216.7 572.25,217.5 572.50,217.0 572.75,217.1 573.00,217.4 573.25,217.0 573.50,216.8 573.75,216.7 574.00,217.2 574.25,216.9 574.50,215.9 574.75,217.4 575.00,216.8 575.25,216.5 575.50,216.8 575.75,216.6 576.00,216.9 576.25,216.7 576.50,216.5 576.75,217.3 577.00,217.1 577.25,217.2 577.50,217.4 577.75,217.2 578.00,217.6 578.25,216.7 578.50,216.3 578.75,216.2 579.00,216.3 579.25,217.3 579.50,216.2 579.75,217.2 580.00,217.0 580.25,216.2 580.50,217.5 580.75,216.7 581.00,216.9 581.25,217.1 581.50,217.4 581.75,216.9 582.00,217.2 582.25,216.6 582.50,216.5 582.75,217.6 583.00,217.3 583.25,217.2 583.50,217.6 583.75,217.6 584.00,217.1 584.25,217.3 584.50,218.0 584.75,217.5 585.00,217.1 585.25,217.9 585.50,217.8 585.75,216.8 586.00,216.9 586.25,218.2 586.50,218.0 586.75,217.3 587.00,217.9 587.25,217.5 587.50,217.6 587.75,217.2 588.00,218.5 588.25,218.3 588.50,217.7 588.75,216.7 589.00,217.1 589.25,217.6 589.50,216.7 589.75,216.6 590.00,217.0 590.25,217.1 590.50,216.8 590.75,216.5 591.00,217.0 591.25,216.9 591.50,217.3 591.75,217.6 592.00,217.9 592.25,217.5 592.50,217.8 592.75,217.8 593.00,217.3 593.25,217.5 593.50,217.3 593.75,218.3 594.00,217.3 594.25,217.7 594.50,217.8 594.75,217.8 595.00,216.9 595.25,217.1 595.50,217.7 595.75,217.9 596.00,217.5 596.25,217.7 596.50,216.8 596.75,218.1 597.00,218.2 597.25,217.5 597.50,217.3 597.75,217.2 598.00,216.9 598.25,216.3 598.50,217.3 598.75,217.4 599.00,217.9 599.25,217.1 599.50,216.9 599.75,217.3 600.00,216.7 600.25,217.3 600.50,216.7 600.75,217.2 601.00,217.9 601.25,217.8 601.50,218.2 601.75,218.3 602.00,217.4 602.25,217.1 602.50,216.6 602.75,217.4 603.00,217.4 603.25,217.7 603.50,216.8 603.75,217.0 604.00,217.5 604.25,217.0 604.50,217.1 604.75,218.1 605.00,217.1 605.25,217.3 605.50,217.5 605.75,217.5 606.00,216.5 606.25,216.5 606.50,216.2 606.75,217.4 607.00,217.1 607.25,216.4 607.50,217.3 607.75,217.2 608.00,217.7 608.25,216.3 608.50,216.8 608.75,217.2 609.00,217.4 609.25,217.8 609.50,217.7 609.75,217.3 610.00,217.8 610.25,216.9 610.50,217.6 610.75,217.8 611.00,216.9 611.25,217.5 611.50,217.2 611.75,217.6 612.00,218.4 612.25,217.2 612.50,218.0 612.75,217.1 613.00,218.2 613.25,218.3 613.50,217.4 613.75,217.2 614.00,217.2 614.25,217.6 614.50,216.7 614.75,217.7 615.00,217.3 615.25,217.6 615.50,217.6 615.75,217.3 616.00,218.1 616.25,217.6 616.50,217.6 616.75,218.6 617.00,218.4 617.25,218.0 617.50,218.1 617.75,217.7 618.00,218.6 618.25,217.4 618.50,217.4 618.75,217.8 619.00,218.4 619.25,217.8 619.50,218.1 619.75,217.6 620.00,217.9 620.25,217.5 620.50,217.9 620.75,217.1 621.00,218.7 621.25,218.2 621.50,217.6 621.75,218.4 622.00,217.4 622.25,218.1 622.50,217.5 622.75,217.9 623.00,217.7 623.25,217.5 623.50,217.7 623.75,217.8 624.00,216.8 624.25,217.7 624.50,218.0 624.75,217.2 625.00,217.1 625.25,216.9 625.50,216.6 625.75,217.7 626.00,216.9 626.25,217.0 626.50,217.6 626.75,217.7 627.00,219.1 627.25,218.2 627.50,217.4 627.75,218.9 628.00,218.5 628.25,218.1 628.50,218.0 628.75,217.5 629.00,218.8 629.25,218.0 629.50,217.5 629.75,218.4 630.00,217.8 630.25,217.0 630.50,217.2 630.75,217.5 631.00,218.8 631.25,217.7 631.50,217.5 631.75,217.7 632.00,217.6 632.25,216.3 632.50,217.6 632.75,218.0 633.00,217.5 633.25,217.7 633.50,217.7 633.75,217.7 634.00,217.4 634.25,217.6 634.50,218.2 634.75,217.7 635.00,217.3 635.25,217.6 635.50,216.8 635.75,216.9 636.00,217.6 636.25,217.1 636.50,216.6 636.75,217.0 637.00,217.8 637.25,217.6 637.50,218.4 637.75,218.8 638.00,218.0 638.25,218.2 638.50,218.1 638.75,218.3 639.00,218.1 639.25,218.4 639.50,217.9 639.75,217.6 640.00,217.9 640.25,217.5 640.50,218.5 640.75,218.0 641.00,217.0 641.25,216.8 641.50,217.5 641.75,217.7 642.00,218.3 642.25,217.7 642.50,217.7 642.75,218.7 643.00,218.0 643.25,218.0 643.50,218.0 643.75,218.5 644.00,217.7 644.25,218.4 644.50,217.1 644.75,217.6 645.00,218.2 645.25,217.2 645.50,217.4 645.75,218.1 646.00,216.9 646.25,218.1 646.50,217.5 646.75,217.0 647.00,218.5 647.25,217.2 647.50,217.7 647.75,217.8 648.00,218.2 648.25,217.6 648.50,218.1 648.75,217.9 649.00,217.6 649.25,217.9 649.50,216.7 649.75,217.9 650.00,217.7 650.25,217.5 650.50,217.5 650.75,217.3 651.00,217.3 651.25,217.8 651.50,217.9 651.75,217.7 652.00,217.4 652.25,217.4 652.50,218.0 652.75,218.7 653.00,217.0 653.25,217.5 653.50,217.9 653.75,217.9 654.00,218.2 654.25,218.4 654.50,218.1 654.75,218.0 655.00,218.2 655.25,218.5 655.50,218.0 655.75,217.6 656.00,218.1 656.25,217.9 656.50,218.8 656.75,218.0 657.00,217.9 657.25,218.3 657.50,218.5 657.75,217.5 658.00,218.0 658.25,217.4 658.50,217.8 658.75,217.4 659.00,217.8 659.25,218.3 659.50,217.7 659.75,217.9 660.00,217.5 660.25,218.1 660.50,218.1 660.75,217.6 661.00,217.5 661.25,217.7 661.50,217.5 661.75,217.7" fill="none" stroke="#ff7f0e" stroke-width="1.0" stroke-linejoin="round"/>
<polyline points="380.50,221.2 380.75,221.3 381.00,221.2 381.25,221.1 381.50,221.1 381.75,221.1 382.00,221.0 382.25,221.0 382.50,220.9 382.75,220.8 383.00,220.6 383.25,220.2 383.50,219.7 383.75,219.2 384.00,218.7 384.25,217.9 384.50,216.8 384.75,215.6 385.00,214.3 385.25,212.8 385.50,211.3 385.75,209.3 386.00,207.2 386.25,204.6 386.50,201.5 386.75,197.9 387.00,194.3 387.25,189.9 387.50,185.6 387.75,180.4 388.00,175.1 388.25,169.6 388.50,163.7 388.75,157.1 389.00,150.9 389.25,144.3 389.50,138.2 389.75,132.6 390.00,127.1 390.25,121.5 390.50,116.3 390.75,111.1 391.00,105.5 391.25,99.9 391.50,94.5 391.75,89.1 392.00,83.7 392.25,78.2 392.50,72.9 392.75,67.3 393.00,60.2 393.25,56.9 393.50,50.0 393.75,47.3 394.00,38.9 394.25,35.4 394.50,19.0 394.75,24.1 395.00,18.6 395.25,22.0 395.50,21.5 395.75,20.8 396.00,20.0 396.25,19.2 396.50,18.4 396.75,18.3 397.00,18.8 397.25,19.3 397.50,19.4 397.75,19.1 398.00,18.5 398.25,18.4 398.50,19.5 398.75,20.9 399.00,22.3 399.25,23.7 399.50,16.0 399.75,16.0 400.00,16.0 400.25,16.0 400.50,16.0 400.75,16.0 401.00,16.0 401.25,23.1 401.50,21.6 401.75,19.9 402.00,20.5 402.25,21.8 402.50,26.2 402.75,28.6 403.00,36.9 403.25,36.2 403.50,39.7 403.75,42.4 404.00,44.2 404.25,50.0 404.50,48.8 404.75,51.2 405.00,55.5 405.25,55.6 405.50,55.3 405.75,60.1 406.00,60.9 406.25,64.4 406.50,67.6 406.75,70.2 407.00,71.7 407.25,71.4 407.50,73.7 407.75,77.1 408.00,76.2 408.25,79.1 408.50,81.6 408.75,82.2 409.00,86.1 409.25,89.1 409.50,87.3 409.75,92.9 410.00,91.2 410.25,95.0 410.50,94.4 410.75,95.8 411.00,97.3 411.25,100.6 411.50,99.3 411.75,100.4 412.00,102.6 412.25,102.9 412.50,102.8 412.75,106.2 413.00,106.4 413.25,109.6 413.50,109.4 413.75,110.8 414.00,110.3 414.25,113.7 414.50,115.8 414.75,116.1 415.00,120.1 415.25,119.0 415.50,122.0 415.75,123.1 416.00,122.3 416.25,124.3 416.50,124.2 416.75,128.3 417.00,127.4 417.25,129.1 417.50,129.7 417.75,132.4 418.00,130.4 418.25,132.5 418.50,135.1 418.75,136.8 419.00,137.6 419.25,136.4 419.50,139.2 419.75,140.6 420.00,140.8 420.25,142.4 420.50,143.0 420.75,143.0 421.00,143.8 421.25,143.3 421.50,145.6 421.75,144.5 422.00,145.3 422.25,145.3 422.50,146.0 422.75,147.1 423.00,147.4 423.25,146.5 423.50,148.5 423.75,149.8 424.00,148.6 424.25,149.0 424.50,151.0 424.75,151.4 425.00,153.0 425.25,153.0 425.50,152.4 425.75,153.2 426.00,154.5 426.25,155.4 426.50,157.2 426.75,155.6 427.00,155.6 427.25,155.1 427.50,154.3 427.75,156.1 428.00,155.8 428.25,158.2 428.50,156.4 428.75,157.0 429.00,156.8 429.25,157.6 429.50,158.1 429.75,157.6 430.00,160.2 430.25,159.6 430.50,159.7 430.75,161.8 431.00,162.4 431.25,161.0 431.50,161.5 431.75,161.3 432.00,161.7 432.25,163.6 432.50,163.2 432.75,163.2 433.00,165.2 433.25,165.8 433.50,167.1 433.75,165.8 434.00,165.1 434.25,168.3 434.50,166.5 434.75,166.5 435.00,167.9 435.25,167.8 435.50,168.7 435.75,168.8 436.00,168.4 436.25,168.5 436.50,169.4 436.75,169.2 437.00,170.1 437.25,171.5 437.50,169.3 437.75,169.5 438.00,171.1 438.25,168.9 438.50,170.0 438.75,170.4 439.00,169.1 439.25,173.4 439.50,173.2 439.75,171.9 440.00,173.3 440.25,174.3 440.50,172.6 440.75,173.8 441.00,175.6 441.25,175.5 441.50,174.8 441.75,174.7 442.00,178.6 442.25,177.5 442.50,178.6 442.75,180.1 443.00,178.9 443.25,180.1 443.50,179.0 443.75,177.0 444.00,177.6 444.25,177.1 444.50,177.2 444.75,177.4 445.00,177.1 445.25,179.2 445.50,179.0 445.75,178.5 446.00,180.2 446.25,180.1 446.50,178.8 446.75,178.2 447.00,179.6 447.25,179.2 447.50,177.7 447.75,177.6 448.00,178.1 448.25,176.9 448.50,177.0 448.75,177.6 449.00,175.8 449.25,177.7 449.50,178.9 449.75,179.5 450.00,178.7 450.25,180.8 450.50,182.8 450.75,182.4 451.00,183.0 451.25,183.9 451.50,183.7 451.75,184.1 452.00,184.7 452.25,185.4 452.50,184.7 452.75,186.9 453.00,185.1 453.25,185.8 453.50,185.5 453.75,187.5 454.00,184.3 454.25,186.9 454.50,186.1 454.75,184.9 455.00,185.9 455.25,185.9 455.50,187.6 455.75,186.6 456.00,186.6 456.25,186.7 456.50,187.9 456.75,187.9 457.00,188.1 457.25,189.0 457.50,189.0 457.75,186.9 458.00,188.9 458.25,187.3 458.50,188.4 458.75,187.8 459.00,189.9 459.25,189.5 459.50,190.0 459.75,190.7 460.00,190.4 460.25,191.2 460.50,190.7 460.75,190.9 461.00,190.0 461.25,190.6 461.50,191.5 461.75,190.7 462.00,190.6 462.25,191.3 462.50,189.8 462.75,190.7 463.00,190.6 463.25,191.8 463.50,191.7 463.75,190.7 464.00,192.7 464.25,191.6 464.50,192.1 464.75,192.8 465.00,192.8 465.25,193.9 465.50,193.3 465.75,194.5 466.00,194.7 466.25,192.7 466.50,194.2 466.75,195.2 467.00,193.1 467.25,194.5 467.50,196.6 467.75,194.4 468.00,194.0 468.25,194.6 468.50,193.8 468.75,195.2 469.00,194.6 469.25,195.6 469.50,194.5 469.75,193.3 470.00,193.9 470.25,194.1 470.50,195.7 470.75,194.7 471.00,195.6 471.25,194.4 471.50,195.7 471.75,195.1 472.00,196.1 472.25,194.1 472.50,196.2 472.75,195.2 473.00,193.5 473.25,195.2 473.50,196.0 473.75,195.2 474.00,195.4 474.25,196.0 474.50,198.4 474.75,197.3 475.00,199.1 475.25,196.2 475.50,197.2 475.75,197.2 476.00,196.1 476.25,196.1 476.50,197.3 476.75,195.6 477.00,197.1 477.25,198.5 477.50,196.6 477.75,196.6 478.00,196.9 478.25,197.4 478.50,198.5 478.75,197.4 479.00,196.9 479.25,197.7 479.50,197.4 479.75,199.3 480.00,198.3 480.25,198.4 480.50,200.0 480.75,199.9 481.00,199.0 481.25,198.2 481.50,197.9 481.75,198.5 482.00,198.8 482.25,199.5 482.50,200.2 482.75,200.5 483.00,201.1 483.25,201.7 483.50,201.6 483.75,202.0 484.00,201.1 484.25,201.9 484.50,200.5 484.75,201.7 485.00,201.7 485.25,202.5 485.50,202.4 485.75,202.1 486.00,202.3 486.25,202.7 486.50,203.1 486.75,202.4 487.00,202.3 487.25,202.1 487.50,201.6 487.75,202.5 488.00,203.5 488.25,202.3 488.50,203.4 488.75,203.2 489.00,201.9 489.25,202.5 489.50,203.6 489.75,203.9 490.00,203.7 490.25,204.9 490.50,203.5 490.75,204.1 491.00,202.9 491.25,204.9 491.50,203.9 491.75,205.2 492.00,204.3 492.25,205.6 492.50,204.6 492.75,205.3 493.00,205.5 493.25,205.1 493.50,204.8 493.75,204.8 494.00,204.0 494.25,204.4 494.50,206.3 494.75,204.7 495.00,205.5 495.25,204.4 495.50,203.8 495.75,205.1 496.00,205.2 496.25,204.5 496.50,204.9 496.75,203.9 497.00,204.7 497.25,204.6 497.50,203.9 497.75,205.2 498.00,204.9 498.25,205.4 498.50,204.6 498.75,204.1 499.00,204.0 499.25,204.9 499.50,205.5 499.75,205.7 500.00,206.1 500.25,205.3 500.50,204.6 500.75,206.9 501.00,206.9 501.25,204.9 501.50,206.9 501.75,206.0 502.00,207.1 502.25,206.0 502.50,206.2 502.75,206.6 503.00,206.2 503.25,206.7 503.50,206.5 503.75,205.9 504.00,206.4 504.25,207.5 504.50,207.6 504.75,207.2 505.00,207.1 505.25,206.8 505.50,207.2 505.75,206.5 506.00,207.1 506.25,207.1 506.50,207.7 506.75,207.8 507.00,209.2 507.25,207.9 507.50,208.9 507.75,209.0 508.00,208.9 508.25,208.7 508.50,208.8 508.75,209.1 509.00,209.4 509.25,210.4 509.50,209.5 509.75,209.9 510.00,210.1 510.25,208.6 510.50,211.2 510.75,210.3 511.00,209.7 511.25,209.8 511.50,209.5 511.75,210.7 512.00,210.3 512.25,209.1 512.50,209.4 512.75,208.2 513.00,209.0 513.25,209.0 513.50,208.8 513.75,209.2 514.00,209.0 514.25,209.4 514.50,209.1 514.75,209.4 515.00,209.2 515.25,210.3 515.50,210.6 515.75,209.8 516.00,210.1 516.25,210.9 516.50,210.5 516.75,211.0 517.00,209.3 517.25,211.3 517.50,209.5 517.75,211.0 518.00,210.3 518.25,210.7 518.50,210.8 518.75,210.0 519.00,210.1 519.25,210.7 519.50,211.0 519.75,209.4 520.00,209.8 520.25,210.5 520.50,210.8 520.75,210.6 521.00,210.8 521.25,210.1 521.50,211.2 521.75,210.5 522.00,210.8 522.25,209.6 522.50,209.3 522.75,210.3 523.00,210.1 523.25,209.7 523.50,210.8 523.75,211.2 524.00,210.3 524.25,210.5 524.50,210.9 524.75,210.0 525.00,210.6 525.25,211.7 525.50,210.7 525.75,211.0 526.00,210.0 526.25,211.1 526.50,211.3 526.75,211.2 527.00,211.5 527.25,212.6 527.50,211.9 527.75,212.3 528.00,211.4 528.25,210.8 528.50,212.5 528.75,212.3 529.00,212.1 529.25,212.0 529.50,212.0 529.75,211.8 530.00,211.5 530.25,213.0 530.50,213.4 530.75,213.7 531.00,212.2 531.25,212.1 531.50,213.4 531.75,213.3 532.00,212.1 532.25,211.4 532.50,211.4 532.75,211.8 533.00,211.6 533.25,212.0 533.50,212.7 533.75,211.7 534.00,212.9 534.25,213.6 534.50,213.3 534.75,213.8 535.00,212.8 535.25,212.1 535.50,213.2 535.75,211.9 536.00,211.3 536.25,212.2 536.50,213.1 536.75,213.1 537.00,213.0 537.25,213.7 537.50,213.9 537.75,213.6 538.00,213.8 538.25,213.5 538.50,214.5 538.75,212.9 539.00,213.1 539.25,212.8 539.50,213.3 539.75,211.9 540.00,212.9 540.25,211.8 540.50,212.4 540.75,213.5 541.00,213.4 541.25,212.3 541.50,212.8 541.75,213.4 542.00,213.1 542.25,213.1 542.50,213.6 542.75,213.3 543.00,213.5 543.25,213.4 543.50,212.9 543.75,213.7 544.00,212.9 544.25,213.4 544.50,213.3 544.75,213.4 545.00,213.5 545.25,213.9 545.50,214.0 545.75,214.5 546.00,214.2 546.25,214.9 546.50,214.5 546.75,213.9 547.00,214.3 547.25,213.9 547.50,214.5 547.75,213.2 548.00,214.1 548.25,213.5 548.50,213.6 548.75,213.1 549.00,213.8 549.25,214.2 549.50,214.7 549.75,214.0 550.00,214.6 550.25,213.8 550.50,213.5 550.75,215.3 551.00,214.8 551.25,214.0 551.50,213.4 551.75,213.7 552.00,213.6 552.25,213.5 552.50,213.4 552.75,212.9 553.00,213.4 553.25,214.3 553.50,213.9 553.75,213.5 554.00,213.9 554.25,213.6 554.50,213.6 554.75,213.6 555.00,212.9 555.25,213.5 555.50,214.0 555.75,213.9 556.00,213.6 556.25,212.6 556.50,213.6 556.75,213.0 557.00,213.6 557.25,215.1 557.50,214.0 557.75,214.9 558.00,215.4 558.25,215.4 558.50,214.1 558.75,215.7 559.00,215.0 559.25,213.9 559.50,213.8 559.75,214.8 560.00,213.9 560.25,214.1 560.50,214.1 560.75,213.8 561.00,214.8 561.25,214.9 561.50,214.3 561.75,216.0 562.00,215.3 562.25,214.9 562.50,215.6 562.75,215.2 563.00,215.4 563.25,214.5 563.50,214.7 563.75,213.9 564.00,213.7 564.25,214.2 564.50,214.4 564.75,214.2 565.00,214.5 565.25,215.2 565.50,214.1 565.75,214.4 566.00,214.0 566.25,215.0 566.50,213.8 566.75,213.3 567.00,214.1 567.25,215.3 567.50,214.9 567.75,215.1 568.00,215.2 568.25,215.6 568.50,215.4 568.75,215.9 569.00,215.6 569.25,216.0 569.50,215.6 569.75,215.1 570.00,215.8 570.25,215.1 570.50,215.7 570.75,215.3 571.00,215.0 571.25,214.2 571.50,215.0 571.75,214.0 572.00,215.3 572.25,214.7 572.50,214.2 572.75,214.4 573.00,215.2 573.25,215.4 573.50,214.4 573.75,215.4 574.00,214.5 574.25,215.0 574.50,214.8 574.75,213.8 575.00,214.3 575.25,214.8 575.50,215.9 575.75,215.2 576.00,215.3 576.25,215.4 576.50,214.7 576.75,216.1 577.00,215.2 577.25,215.3 577.50,215.7 577.75,214.6 578.00,216.1 578.25,215.6 578.50,215.6 578.75,216.7 579.00,216.3 579.25,216.1 579.50,215.2 579.75,215.0 580.00,215.1 580.25,215.2 580.50,216.3 580.75,215.1 581.00,215.5 581.25,214.7 581.50,214.6 581.75,214.3 582.00,215.0 582.25,215.1 582.50,216.1 582.75,215.7 583.00,216.5 583.25,215.6 583.50,216.6 583.75,216.1 584.00,216.4 584.25,216.2 584.50,215.8 584.75,216.3 585.00,216.0 585.25,216.5 585.50,215.4 585.75,216.2 586.00,215.4 586.25,214.8 586.50,216.8 586.75,216.1 587.00,215.7 587.25,215.0 587.50,215.8 587.75,215.4 588.00,216.0 588.25,215.6 588.50,216.5 588.75,215.8 589.00,217.7 589.25,217.3 589.50,215.6 589.75,216.4 590.00,216.8 590.25,215.3 590.50,215.8 590.75,215.7 591.00,216.3 591.25,215.8 591.50,215.7 591.75,216.7 592.00,215.6 592.25,216.0 592.50,215.4 592.75,215.5 593.00,216.5 593.25,216.6 593.50,216.3 593.75,216.1 594.00,216.6 594.25,216.4 594.50,216.1 594.75,216.2 595.00,215.9 595.25,216.3 595.50,216.8 595.75,217.2 596.00,215.9 596.25,216.4 596.50,216.3 596.75,216.2 597.00,216.8 597.25,216.3 597.50,217.4 597.75,216.5 598.00,216.8 598.25,215.6 598.50,216.3 598.75,216.7 599.00,216.7 599.25,216.5 599.50,217.3 599.75,217.0 600.00,216.9 600.25,215.5 600.50,216.3 600.75,217.1 601.00,215.7 601.25,214.9 601.50,216.5 601.75,214.5 602.00,216.2 602.25,215.8 602.50,216.6 602.75,216.6 603.00,217.2 603.25,217.2 603.50,217.8 603.75,216.3 604.00,217.4 604.25,216.7 604.50,216.8 604.75,217.3 605.00,217.1 605.25,217.3 605.50,217.5 605.75,217.2 606.00,217.1 606.25,217.6 606.50,217.7 606.75,217.6 607.00,217.3 607.25,216.9 607.50,217.0 607.75,217.7 608.00,217.6 608.25,218.0 608.50,217.5 608.75,217.8 609.00,217.5 609.25,217.6 609.50,217.3 609.75,216.2 610.00,217.4 610.25,216.8 610.50,217.0 610.75,216.4 611.00,216.1 611.25,217.1 611.50,218.3 611.75,216.8 612.00,216.8 612.25,217.7 612.50,216.9 612.75,216.7 613.00,217.7 613.25,216.3 613.50,216.5 613.75,216.7 614.00,217.3 614.25,217.3 614.50,217.2 614.75,216.7 615.00,217.3 615.25,216.2 615.50,216.7 615.75,217.8 616.00,216.1 616.25,216.9 616.50,217.2 616.75,217.0 617.00,217.9 617.25,216.9 617.50,218.1 617.75,217.4 618.00,216.2 618.25,216.2 618.50,216.8 618.75,217.0 619.00,216.1 619.25,216.6 619.50,216.5 619.75,216.4 620.00,217.3 620.25,216.6 620.50,218.0 620.75,216.5 621.00,217.9 621.25,217.5 621.50,217.5 621.75,216.8 622.00,216.7 622.25,216.8 622.50,216.7 622.75,216.8 623.00,217.0 623.25,217.9 623.50,218.2 623.75,218.2 624.00,217.3 624.25,217.5 624.50,217.5 624.75,217.4 625.00,217.5 625.25,217.8 625.50,218.0 625.75,218.1 626.00,216.7 626.25,216.9 626.50,218.0 626.75,217.7 627.00,217.5 627.25,217.2 627.50,218.3 627.75,217.9 628.00,217.5 628.25,218.7 628.50,218.2 628.75,217.8 629.00,218.0 629.25,216.6 629.50,217.1 629.75,217.4 630.00,217.9 630.25,217.2 630.50,217.4 630.75,217.9 631.00,217.9 631.25,218.4 631.50,217.7 631.75,217.2 632.00,217.0 632.25,217.1 632.50,216.9 632.75,217.4 633.00,217.3 633.25,216.5 633.50,216.8 633.75,217.4 634.00,216.9 634.25,216.8 634.50,216.9 634.75,217.3 635.00,217.6 635.25,217.2 635.50,216.7 635.75,217.4 636.00,217.8 636.25,217.5 636.50,218.3 636.75,217.7 637.00,218.0 637.25,217.4 637.50,217.8 637.75,217.3 638.00,216.7 638.25,217.8 638.50,218.0 638.75,217.4 639.00,217.7 639.25,217.5 639.50,217.7 639.75,217.1 640.00,217.3 640.25,218.3 640.50,217.4 640.75,217.2 641.00,216.9 641.25,217.7 641.50,217.8 641.75,217.0 642.00,217.9 642.25,217.6 642.50,217.4 642.75,217.3 643.00,217.5 643.25,217.9 643.50,216.9 643.75,217.6 644.00,217.6 644.25,216.7 644.50,217.3 644.75,218.3 645.00,218.2 645.25,218.2 645.50,218.5 645.75,219.1 646.00,217.9 646.25,217.9 646.50,218.0 646.75,218.1 647.00,217.7 647.25,217.4 647.50,218.1 647.75,217.8 648.00,218.0 648.25,217.5 648.50,217.8 648.75,218.6 649.00,218.2 649.25,217.1 649.50,218.2 649.75,217.7 650.00,218.0 650.25,217.2 650.50,217.9 650.75,218.1 651.00,218.5 651.25,218.1 651.50,217.6 651.75,217.5 652.00,218.3 652.25,217.0 652.50,217.7 652.75,218.1 653.00,217.6 653.25,218.1 653.50,218.2 653.75,218.3 654.00,218.2 654.25,218.4 654.50,219.0 654.75,218.0 655.00,218.3 655.25,217.4 655.50,217.5 655.75,217.3 656.00,217.3 656.25,216.8 656.50,217.6 656.75,218.0 657.00,217.5 657.25,219.0 657.50,218.0 657.75,217.8 658.00,218.0 658.25,217.3 658.50,217.5 658.75,217.8 659.00,218.0 659.25,217.4 659.50,218.2 659.75,218.1 660.00,217.7 660.25,217.8 660.50,217.2 660.75,218.2 661.00,218.8 661.25,217.7 661.50,217.4 661.75,217.9" fill="none" stroke="#2ca02c" stroke-width="1.0" stroke-linejoin="round"/>
<polyline points="380.50,221.2 380.75,221.2 381.00,221.2 381.25,221.2 381.50,221.1 381.75,221.1 382.00,221.0 382.25,220.9 382.50,220.9 382.75,220.7 383.00,220.4 383.25,220.0 383.50,219.6 383.75,219.1 384.00,218.5 384.25,217.5 384.50,216.4 384.75,215.1 385.00,213.7 385.25,212.2 385.50,210.5 385.75,208.7 386.00,206.3 386.25,203.3 386.50,200.2 386.75,196.6 387.00,192.5 387.25,188.2 387.50,183.4 387.75,178.3 388.00,172.9 388.25,167.2 388.50,161.2 388.75,154.6 389.00,148.5 389.25,142.4 389.50,136.3 389.75,130.4 390.00,125.2 390.25,119.2 390.50,114.0 390.75,108.2 391.00,102.9 391.25,97.6 391.50,92.0 391.75,86.6 392.00,81.6 392.25,76.0 392.50,70.6 392.75,64.6 393.00,61.1 393.25,52.7 393.50,48.6 393.75,37.2 394.00,35.4 394.25,26.5 394.50,16.4 394.75,16.0 395.00,16.0 395.25,16.0 395.50,16.0 395.75,16.0 396.00,16.0 396.25,16.0 396.50,16.0 396.75,28.1 397.00,29.3 397.25,30.3 397.50,31.0 397.75,31.5 398.00,31.7 398.25,31.7 398.50,19.2 398.75,31.2 399.00,30.6 399.25,29.9 399.50,18.6 399.75,28.0 400.00,26.6 400.25,25.1 400.50,23.5 400.75,21.8 401.00,20.2 401.25,18.8 401.50,18.4 401.75,19.2 402.00,19.6 402.25,19.8 402.50,19.7 402.75,19.4 403.00,21.2 403.25,23.2 403.50,28.6 403.75,33.0 404.00,41.2 404.25,37.6 404.50,44.2 404.75,44.1 405.00,45.3 405.25,52.4 405.50,51.4 405.75,54.5 406.00,55.3 406.25,59.0 406.50,58.8 406.75,60.3 407.00,60.5 407.25,61.7 407.50,66.3 407.75,69.4 408.00,68.0 408.25,72.8 408.50,74.4 408.75,75.7 409.00,76.8 409.25,78.0 409.50,81.1 409.75,82.0 410.00,81.0 410.25,83.1 410.50,86.4 410.75,88.7 411.00,91.5 411.25,92.2 411.50,96.3 411.75,97.7 412.00,100.6 412.25,103.0 412.50,104.2 412.75,106.0 413.00,108.2 413.25,108.9 413.50,109.9 413.75,111.7 414.00,113.0 414.25,113.6 414.50,113.7 414.75,114.3 415.00,116.2 415.25,117.4 415.50,117.8 415.75,116.1 416.00,117.8 416.25,120.4 416.50,120.2 416.75,121.7 417.00,122.8 417.25,125.6 417.50,125.1 417.75,127.9 418.00,128.2 418.25,126.9 418.50,128.3 418.75,131.1 419.00,132.0 419.25,132.6 419.50,134.5 419.75,134.5 420.00,134.8 420.25,136.6 420.50,135.8 420.75,137.7 421.00,139.2 421.25,137.8 421.50,139.6 421.75,140.8 422.00,139.5 422.25,140.4 422.50,142.9 422.75,142.4 423.00,143.9 423.25,145.8 423.50,143.5 423.75,144.8 424.00,148.1 424.25,146.6 424.50,148.8 424.75,146.3 425.00,147.7 425.25,148.5 425.50,147.7 425.75,149.6 426.00,150.4 426.25,149.7 426.50,151.2 426.75,150.4 427.00,151.5 427.25,151.2 427.50,152.1 427.75,152.7 428.00,155.3 428.25,153.4 428.50,156.0 428.75,154.7 429.00,157.2 429.25,157.1 429.50,157.4 429.75,156.3 430.00,158.1 430.25,157.6 430.50,159.6 430.75,158.8 431.00,158.4 431.25,159.0 431.50,160.9 431.75,159.0 432.00,160.7 432.25,158.3 432.50,160.5 432.75,158.6 433.00,160.4 433.25,160.9 433.50,162.1 433.75,162.1 434.00,161.8 434.25,164.3 434.50,162.0 434.75,164.3 435.00,164.0 435.25,166.7 435.50,164.3 435.75,164.5 436.00,165.3 436.25,165.6 436.50,166.5 436.75,166.4 437.00,165.9 437.25,167.8 437.50,167.4 437.75,167.5 438.00,168.3 438.25,167.7 438.50,167.3 438.75,167.5 439.00,164.7 439.25,167.2 439.50,165.6 439.75,166.6 440.00,169.8 440.25,168.3 440.50,168.0 440.75,168.5 441.00,170.4 441.25,169.8 441.50,171.5 441.75,171.7 442.00,171.3 442.25,171.2 442.50,170.1 442.75,171.2 443.00,170.6 443.25,172.6 443.50,172.7 443.75,172.2 444.00,170.5 444.25,173.2 444.50,173.6 444.75,172.5 445.00,171.7 445.25,174.5 445.50,173.9 445.75,175.3 446.00,173.4 446.25,174.3 446.50,174.8 446.75,175.1 447.00,175.3 447.25,175.1 447.50,175.9 447.75,176.3 448.00,176.8 448.25,176.3 448.50,177.4 448.75,176.5 449.00,179.4 449.25,177.5 449.50,177.8 449.75,177.4 450.00,178.7 450.25,179.7 450.50,179.3 450.75,177.7 451.00,179.2 451.25,179.7 451.50,180.3 451.75,180.3 452.00,180.8 452.25,182.2 452.50,181.8 452.75,180.8 453.00,180.7 453.25,182.1 453.50,182.5 453.75,180.9 454.00,182.1 454.25,182.8 454.50,182.0 454.75,181.4 455.00,180.9 455.25,182.7 455.50,182.1 455.75,183.0 456.00,182.1 456.25,183.1 456.50,183.5 456.75,185.0 457.00,185.0 457.25,185.5 457.50,188.6 457.75,185.6 458.00,186.6 458.25,186.9 458.50,187.0 458.75,186.6 459.00,186.4 459.25,187.7 459.50,186.6 459.75,186.7 460.00,186.7 460.25,187.9 460.50,187.0 460.75,188.1 461.00,187.1 461.25,186.8 461.50,187.4 461.75,188.5 462.00,188.7 462.25,188.7 462.50,188.0 462.75,188.8 463.00,188.8 463.25,190.5 463.50,189.5 463.75,189.6 464.00,189.5 464.25,188.2 464.50,189.9 464.75,189.7 465.00,188.2 465.25,189.4 465.50,188.9 465.75,188.9 466.00,189.3 466.25,190.1 466.50,189.1 466.75,188.9 467.00,190.9 467.25,190.4 467.50,189.6 467.75,190.5 468.00,191.1 468.25,190.8 468.50,190.0 468.75,191.6 469.00,190.9 469.25,191.1 469.50,192.2 469.75,191.6 470.00,191.7 470.25,191.4 470.50,191.4 470.75,192.9 471.00,191.0 471.25,191.2 471.50,190.9 471.75,192.3 472.00,191.1 472.25,191.6 472.50,192.7 472.75,191.1 473.00,192.6 473.25,192.9 473.50,192.1 473.75,192.9 474.00,192.1 474.25,192.4 474.50,191.8 474.75,191.2 475.00,191.7 475.25,191.2 475.50,191.5 475.75,193.0 476.00,192.3 476.25,193.0 476.50,193.8 476.75,193.5 477.00,193.5 477.25,194.3 477.50,196.0 477.75,194.6 478.00,194.9 478.25,194.9 478.50,194.5 478.75,195.2 479.00,194.1 479.25,195.5 479.50,196.0 479.75,195.8 480.00,195.9 480.25,195.8 480.50,196.4 480.75,197.1 481.00,197.4 481.25,199.4 481.50,199.4 481.75,198.0 482.00,199.0 482.25,197.5 482.50,197.4 482.75,199.2 483.00,198.1 483.25,196.3 483.50,198.8 483.75,198.2 484.00,198.6 484.25,198.6 484.50,198.5 484.75,198.2 485.00,197.6 485.25,198.6 485.50,197.8 485.75,198.8 486.00,198.4 486.25,198.9 486.50,200.0 486.75,199.7 487.00,200.7 487.25,201.1 487.50,200.1 487.75,202.3 488.00,201.0 488.25,201.0 488.50,201.8 488.75,200.7 489.00,200.6 489.25,201.9 489.50,200.6 489.75,200.5 490.00,201.2 490.25,200.4 490.50,200.4 490.75,201.5 491.00,202.5 491.25,201.0 491.50,201.8 491.75,202.5 492.00,201.9 492.25,203.4 492.50,202.4 492.75,201.6 493.00,204.7 493.25,202.9 493.50,203.9 493.75,203.7 494.00,204.1 494.25,203.2 494.50,203.6 494.75,204.1 495.00,204.4 495.25,203.8 495.50,202.8 495.75,204.2 496.00,203.1 496.25,203.1 496.50,204.6 496.75,202.8 497.00,203.6 497.25,202.4 497.50,202.9 497.75,204.2 498.00,204.2 498.25,204.7 498.50,204.9 498.75,203.6 499.00,204.3 499.25,204.5 499.50,204.5 499.75,204.0 500.00,204.0 500.25,204.6 500.50,204.7 500.75,204.6 501.00,203.5 501.25,206.0 501.50,205.5 501.75,204.6 502.00,204.8 502.25,204.1 502.50,203.9 502.75,203.5 503.00,205.1 503.25,204.3 503.50,204.8 503.75,204.0 504.00,204.4 504.25,203.9 504.50,204.7 504.75,204.2 505.00,204.6 505.25,204.6 505.50,204.9 505.75,205.4 506.00,204.2 506.25,204.8 506.50,204.5 506.75,206.0 507.00,206.9 507.25,206.5 507.50,206.7 507.75,206.4 508.00,206.5 508.25,206.6 508.50,206.4 508.75,206.8 509.00,207.1 509.25,207.6 509.50,206.7 509.75,207.4 510.00,207.6 510.25,206.9 510.50,207.2 510.75,206.7 511.00,207.5 511.25,206.2 511.50,206.4 511.75,206.5 512.00,206.7 512.25,206.8 512.50,207.0 512.75,205.5 513.00,207.1 513.25,206.0 513.50,206.5 513.75,206.7 514.00,206.7 514.25,206.6 514.50,206.3 514.75,206.7 515.00,207.3 515.25,208.3 515.50,208.6 515.75,206.6 516.00,208.2 516.25,208.5 516.50,207.1 516.75,208.6 517.00,207.5 517.25,207.5 517.50,208.0 517.75,207.6 518.00,209.0 518.25,208.9 518.50,208.3 518.75,208.3 519.00,208.5 519.25,208.3 519.50,209.2 519.75,210.1 520.00,208.7 520.25,209.0 520.50,208.2 520.75,207.2 521.00,208.2 521.25,208.0 521.50,208.9 521.75,208.2 522.00,208.8 522.25,209.0 522.50,208.8 522.75,210.0 523.00,209.0 523.25,208.9 523.50,208.1 523.75,209.8 524.00,208.7 524.25,207.4 524.50,208.8 524.75,208.9 525.00,207.7 525.25,207.3 525.50,208.7 525.75,209.3 526.00,209.4 526.25,209.4 526.50,209.9 526.75,210.0 527.00,209.5 527.25,209.5 527.50,209.2 527.75,209.5 528.00,210.2 528.25,209.3 528.50,209.7 528.75,210.2 529.00,210.1 529.25,209.9 529.50,210.0 529.75,210.2 530.00,209.8 530.25,209.7 530.50,210.4 530.75,210.2 531.00,210.7 531.25,210.1 531.50,209.7 531.75,209.4 532.00,209.8 532.25,209.9 532.50,210.2 532.75,209.7 533.00,210.3 533.25,209.5 533.50,209.5 533.75,209.9 534.00,209.3 534.25,209.6 534.50,209.3 534.75,210.1 535.00,209.8 535.25,209.5 535.50,210.4 535.75,210.2 536.00,211.0 536.25,210.8 536.50,211.5 536.75,210.5 537.00,211.0 537.25,210.3 537.50,211.6 537.75,211.2 538.00,211.0 538.25,211.0 538.50,212.3 538.75,211.7 539.00,210.1 539.25,211.0 539.50,211.3 539.75,212.8 540.00,211.9 540.25,211.3 540.50,211.5 540.75,211.4 541.00,211.1 541.25,211.6 541.50,211.1 541.75,212.4 542.00,210.2 542.25,211.5 542.50,211.7 542.75,210.6 543.00,211.1 543.25,211.1 543.50,212.1 543.75,211.8 544.00,211.7 544.25,212.8 544.50,212.4 544.75,212.5 545.00,212.6 545.25,212.8 545.50,213.1 545.75,212.2 546.00,212.2 546.25,211.6 546.50,212.2 546.75,212.4 547.00,212.8 547.25,212.0 547.50,212.2 547.75,211.0 548.00,210.9 548.25,211.3 548.50,212.6 548.75,213.0 549.00,212.5 549.25,213.0 549.50,212.0 549.75,212.9 550.00,213.2 550.25,213.0 550.50,212.3 550.75,213.2 551.00,212.4 551.25,213.1 551.50,212.5 551.75,212.7 552.00,212.2 552.25,212.3 552.50,211.8 552.75,212.0 553.00,212.7 553.25,213.1 553.50,213.0 553.75,212.9 554.00,213.0 554.25,213.3 554.50,212.4 554.75,212.5 555.00,213.0 555.25,213.2 555.50,213.0 555.75,213.0 556.00,213.1 556.25,214.0 556.50,213.5 556.75,214.4 557.00,213.6 557.25,213.4 557.50,214.3 557.75,213.7 558.00,214.0 558.25,214.0 558.50,212.5 558.75,212.9 559.00,213.0 559.25,213.3 559.50,212.9 559.75,213.2 560.00,212.9 560.25,213.6 560.50,213.3 560.75,213.6 561.00,214.3 561.25,212.9 561.50,213.6 561.75,214.5 562.00,214.9 562.25,214.6 562.50,214.8 562.75,214.7 563.00,215.1 563.25,214.7 563.50,214.2 563.75,214.0 564.00,215.1 564.25,214.2 564.50,214.7 564.75,214.8 565.00,214.5 565.25,214.6 565.50,214.0 565.75,214.0 566.00,214.5 566.25,214.7 566.50,213.7 566.75,213.8 567.00,214.6 567.25,215.0 567.50,214.4 567.75,214.1 568.00,215.0 568.25,213.7 568.50,214.5 568.75,213.7 569.00,214.4 569.25,214.0 569.50,214.3 569.75,214.2 570.00,213.8 570.25,214.9 570.50,214.8 570.75,214.6 571.00,215.2 571.25,214.1 571.50,215.8 571.75,213.9 572.00,215.3 572.25,214.5 572.50,214.0 572.75,214.5 573.00,215.3 573.25,214.8 573.50,214.7 573.75,214.5 574.00,214.4 574.25,214.4 574.50,214.3 574.75,215.5 575.00,214.6 575.25,215.9 575.50,215.0 575.75,215.6 576.00,216.0 576.25,214.7 576.50,215.2 576.75,214.7 577.00,215.9 577.25,215.8 577.50,215.3 577.75,215.5 578.00,215.1 578.25,215.3 578.50,215.0 578.75,215.2 579.00,214.0 579.25,214.7 579.50,215.0 579.75,214.2 580.00,214.3 580.25,214.5 580.50,214.7 580.75,215.1 581.00,215.1 581.25,216.2 581.50,216.0 581.75,215.9 582.00,215.2 582.25,214.7 582.50,215.3 582.75,215.3 583.00,214.5 583.25,215.1 583.50,214.6 583.75,214.6 584.00,215.5 584.25,214.9 584.50,215.1 584.75,215.9 585.00,216.0 585.25,216.2 585.50,215.1 585.75,214.7 586.00,215.3 586.25,214.9 586.50,216.3 586.75,215.1 587.00,214.9 587.25,215.2 587.50,216.4 587.75,215.6 588.00,216.2 588.25,215.6 588.50,216.3 588.75,215.9 589.00,216.1 589.25,215.5 589.50,215.6 589.75,215.0 590.00,215.1 590.25,215.3 590.50,215.6 590.75,215.8 591.00,215.7 591.25,215.5 591.50,215.8 591.75,215.8 592.00,215.9 592.25,215.8 592.50,216.1 592.75,216.5 593.00,215.3 593.25,215.3 593.50,215.9 593.75,214.6 594.00,216.0 594.25,215.1 594.50,215.6 594.75,215.7 595.00,215.4 595.25,215.5 595.50,215.9 595.75,216.4 596.00,216.4 596.25,215.6 596.50,215.0 596.75,215.3 597.00,215.7 597.25,215.6 597.50,215.5 597.75,215.0 598.00,216.2 598.25,215.6 598.50,215.8 598.75,216.4 599.00,216.5 599.25,215.5 599.50,215.9 599.75,216.1 600.00,215.9 600.25,215.5 600.50,215.9 600.75,215.1 601.00,215.9 601.25,216.2 601.50,215.9 601.75,216.3 602.00,216.0 602.25,215.3 602.50,215.1 602.75,215.5 603.00,215.6 603.25,216.1 603.50,216.2 603.75,215.7 604.00,216.0 604.25,216.6 604.50,216.7 604.75,215.8 605.00,216.1 605.25,216.5 605.50,216.3 605.75,215.8 606.00,216.2 606.25,216.3 606.50,217.1 606.75,217.2 607.00,217.2 607.25,217.3 607.50,216.2 607.75,215.9 608.00,216.4 608.25,215.9 608.50,216.0 608.75,216.4 609.00,217.1 609.25,216.0 609.50,216.1 609.75,217.0 610.00,215.8 610.25,216.6 610.50,216.8 610.75,216.5 611.00,217.0 611.25,216.3 611.50,216.8 611.75,215.6 612.00,216.1 612.25,216.9 612.50,216.1 612.75,217.2 613.00,216.4 613.25,216.3 613.50,216.5 613.75,217.1 614.00,216.7 614.25,216.7 614.50,216.6 614.75,216.0 615.00,215.9 615.25,216.0 615.50,217.0 615.75,217.1 616.00,216.8 616.25,216.6 616.50,217.8 616.75,217.2 617.00,216.1 617.25,217.5 617.50,217.3 617.75,217.4 618.00,216.9 618.25,217.1 618.50,217.2 618.75,217.7 619.00,216.6 619.25,216.8 619.50,217.0 619.75,216.6 620.00,216.2 620.25,217.2 620.50,217.2 620.75,217.0 621.00,217.0 621.25,217.9 621.50,216.8 621.75,215.9 622.00,216.5 622.25,215.8 622.50,217.6 622.75,216.4 623.00,215.9 623.25,216.0 623.50,217.1 623.75,217.4 624.00,217.1 624.25,217.9 624.50,217.6 624.75,218.3 625.00,217.5 625.25,217.6 625.50,216.9 625.75,217.4 626.00,217.7 626.25,217.4 626.50,217.8 626.75,217.2 627.00,217.3 627.25,217.0 627.50,216.7 627.75,218.0 628.00,216.9 628.25,216.7 628.50,217.5 628.75,216.1 629.00,217.1 629.25,215.7 629.50,216.4 629.75,216.3 630.00,216.5 630.25,216.2 630.50,217.1 630.75,217.1 631.00,217.7 631.25,216.8 631.50,217.4 631.75,216.9 632.00,217.0 632.25,217.9 632.50,217.1 632.75,217.3 633.00,217.3 633.25,217.2 633.50,217.4 633.75,217.4 634.00,216.9 634.25,217.8 634.50,218.0 634.75,217.8 635.00,217.1 635.25,217.6 635.50,216.6 635.75,218.6 636.00,217.5 636.25,217.2 636.50,216.8 636.75,216.3 637.00,217.0 637.25,217.4 637.50,216.6 637.75,216.3 638.00,218.1 638.25,216.8 638.50,216.9 638.75,217.4 639.00,217.3 639.25,217.1 639.50,217.2 639.75,217.4 640.00,217.8 640.25,217.3 640.50,217.7 640.75,217.4 641.00,217.7 641.25,217.4 641.50,217.2 641.75,217.5 642.00,217.3 642.25,218.2 642.50,217.4 642.75,217.4 643.00,217.8 643.25,217.6 643.50,218.7 643.75,217.5 644.00,217.8 644.25,218.6 644.50,217.4 644.75,217.9 645.00,217.4 645.25,217.6 645.50,217.2 645.75,217.4 646.00,217.6 646.25,217.4 646.50,217.3 646.75,218.7 647.00,217.7 647.25,218.0 647.50,218.1 647.75,217.1 648.00,217.2 648.25,218.1 648.50,218.1 648.75,217.3 649.00,217.9 649.25,217.7 649.50,218.4 649.75,217.6 650.00,217.0 650.25,217.7 650.50,217.5 650.75,216.8 651.00,217.3 651.25,217.1 651.50,217.5 651.75,217.2 652.00,218.4 652.25,217.9 652.50,218.1 652.75,216.4 653.00,217.2 653.25,217.4 653.50,217.7 653.75,217.9 654.00,218.8 654.25,216.8 654.50,217.9 654.75,217.9 655.00,218.5 655.25,217.9 655.50,217.6 655.75,217.7 656.00,217.3 656.25,217.8 656.50,217.3 656.75,217.1 657.00,217.2 657.25,217.4 657.50,217.6 657.75,217.9 658.00,217.2 658.25,217.5 658.50,217.6 658.75,216.8 659.00,217.8 659.25,217.3 659.50,216.8 659.75,216.8 660.00,217.5 660.25,217.4 660.50,217.3 660.75,217.7 661.00,218.1 661.25,217.6 661.50,217.8 661.75,217.8" fill="none" stroke="#d62728" stroke-width="1.0" stroke-linejoin="round"/>
<polyline points="380.50,221.2 380.75,221.2 381.00,221.2 381.25,221.2 381.50,221.2 381.75,221.2 382.00,221.1 382.25,221.1 382.50,221.0 382.75,221.0 383.00,221.0 383.25,220.9 383.50,220.8 383.75,220.6 384.00,220.2 384.25,219.8 384.50,219.3 384.75,218.6 385.00,218.0 385.25,216.9 385.50,215.8 385.75,214.4 386.00,213.1 386.25,211.5 386.50,209.6 386.75,207.7 387.00,205.2 387.25,202.3 387.50,198.6 387.75,195.1 388.00,191.1 388.25,186.4 388.50,181.3 388.75,176.1 389.00,170.5 389.25,164.9 389.50,158.6 389.75,152.0 390.00,145.6 390.25,139.9 390.50,134.0 390.75,128.6 391.00,122.9 391.25,117.4 391.50,111.8 391.75,106.5 392.00,100.7 392.25,95.4 392.50,90.0 392.75,84.4 393.00,79.0 393.25,74.7 393.50,67.5 393.75,59.1 394.00,56.5 394.25,50.5 394.50,46.0 394.75,40.3 395.00,32.4 395.25,34.1 395.50,23.9 395.75,16.0 396.00,16.0 396.25,16.0 396.50,16.0 396.75,16.0 397.00,16.0 397.25,16.0 397.50,16.0 397.75,16.2 398.00,16.0 398.25,16.0 398.50,16.0 398.75,18.4 399.00,16.0 399.25,16.3 399.50,16.0 399.75,32.7 400.00,20.2 400.25,30.3 400.50,29.0 400.75,27.6 401.00,26.2 401.25,24.9 401.50,23.7 401.75,22.7 402.00,18.8 402.25,21.4 402.50,21.0 402.75,20.7 403.00,20.5 403.25,20.2 403.50,19.8 403.75,20.8 404.00,22.9 404.25,27.4 404.50,28.6 404.75,28.9 405.00,33.7 405.25,29.9 405.50,35.5 405.75,39.1 406.00,38.9 406.25,44.8 406.50,44.0 406.75,48.2 407.00,48.4 407.25,54.8 407.50,57.4 407.75,60.6 408.00,63.6 408.25,63.8 408.50,67.5 408.75,67.1 409.00,69.6 409.25,68.2 409.50,74.0 409.75,71.1 410.00,73.0 410.25,74.9 410.50,77.9 410.75,77.1 411.00,82.4 411.25,83.8 411.50,86.9 411.75,89.0 412.00,90.2 412.25,90.9 412.50,94.4 412.75,94.6 413.00,96.9 413.25,95.8 413.50,98.7 413.75,100.0 414.00,99.6 414.25,101.5 414.50,101.8 414.75,103.0 415.00,102.8 415.25,103.6 415.50,105.5 415.75,104.5 416.00,105.9 416.25,106.8 416.50,107.3 416.75,109.7 417.00,111.8 417.25,110.5 417.50,111.0 417.75,114.9 418.00,114.4 418.25,116.7 418.50,119.1 418.75,120.4 419.00,120.4 419.25,120.9 419.50,120.9 419.75,120.6 420.00,121.7 420.25,119.4 420.50,121.8 420.75,122.1 421.00,120.4 421.25,121.3 421.50,121.6 421.75,124.5 422.00,127.0 422.25,126.9 422.50,130.1 422.75,131.7 423.00,133.6 423.25,132.9 423.50,136.1 423.75,132.9 424.00,135.8 424.25,132.9 424.50,136.1 424.75,134.4 425.00,133.3 425.25,137.1 425.50,138.7 425.75,135.9 426.00,138.7 426.25,139.4 426.50,136.7 426.75,140.9 427.00,139.3 427.25,139.2 427.50,138.9 427.75,141.1 428.00,139.2 428.25,140.1 428.50,142.3 428.75,143.6 429.00,145.6 429.25,144.3 429.50,146.5 429.75,146.2 430.00,146.9 430.25,148.8 430.50,151.7 430.75,151.0 431.00,149.0 431.25,150.3 431.50,149.4 431.75,153.4 432.00,151.5 432.25,151.8 432.50,153.4 432.75,152.5 433.00,151.0 433.25,151.6 433.50,153.0 433.75,152.6 434.00,152.4 434.25,155.4 434.50,154.7 434.75,154.6 435.00,156.7 435.25,155.0 435.50,156.6 435.75,155.8 436.00,156.5 436.25,157.9 436.50,159.3 436.75,160.5 437.00,160.4 437.25,160.8 437.50,159.9 437.75,161.3 438.00,160.7 438.25,159.2 438.50,160.3 438.75,160.0 439.00,158.9 439.25,160.5 439.50,160.4 439.75,160.2 440.00,161.2 440.25,162.2 440.50,162.7 440.75,161.7 441.00,160.9 441.25,161.7 441.50,161.8 441.75,163.2 442.00,165.3 442.25,166.6 442.50,166.2 442.75,166.2 443.00,166.9 443.25,165.5 443.50,167.3 443.75,166.1 444.00,166.0 444.25,168.4 444.50,167.3 444.75,165.8 445.00,166.2 445.25,166.9 445.50,168.1 445.75,167.8 446.00,167.1 446.25,166.1 446.50,166.8 446.75,167.4 447.00,167.3 447.25,167.0 447.50,169.7 447.75,169.6 448.00,169.2 448.25,168.8 448.50,169.5 448.75,171.6 449.00,171.3 449.25,172.3 449.50,172.3 449.75,172.2 450.00,173.1 450.25,173.8 450.50,174.7 450.75,175.4 451.00,174.4 451.25,174.0 451.50,173.4 451.75,174.3 452.00,173.9 452.25,171.8 452.50,172.3 452.75,171.9 453.00,173.4 453.25,173.8 453.50,174.6 453.75,173.2 454.00,175.5 454.25,176.6 454.50,176.4 454.75,175.2 455.00,176.7 455.25,176.7 455.50,176.8 455.75,176.7 456.00,176.6 456.25,177.5 456.50,175.0 456.75,176.8 457.00,176.2 457.25,179.2 457.50,178.1 457.75,180.2 458.00,181.0 458.25,180.2 458.50,180.1 458.75,180.1 459.00,180.3 459.25,181.7 459.50,180.8 459.75,181.8 460.00,181.6 460.25,180.7 460.50,180.9 460.75,180.1 461.00,182.3 461.25,180.0 461.50,181.4 461.75,179.7 462.00,180.0 462.25,181.9 462.50,181.2 462.75,180.8 463.00,182.4 463.25,182.7 463.50,182.7 463.75,182.2 464.00,182.4 464.25,183.7 464.50,183.0 464.75,182.7 465.00,183.5 465.25,185.2 465.50,185.7 465.75,185.2 466.00,185.2 466.25,185.8 466.50,186.8 466.75,187.4 467.00,185.7 467.25,186.8 467.50,184.9 467.75,186.8 468.00,185.6 468.25,185.3 468.50,182.9 468.75,183.1 469.00,184.5 469.25,185.9 469.50,183.9 469.75,185.3 470.00,186.8 470.25,187.5 470.50,186.4 470.75,187.2 471.00,187.1 471.25,187.0 471.50,187.5 471.75,187.2 472.00,186.2 472.25,186.4 472.50,186.3 472.75,185.5 473.00,187.6 473.25,185.3 473.50,186.2 473.75,187.4 474.00,187.2 474.25,186.5 474.50,187.3 474.75,189.6 475.00,189.5 475.25,189.1 475.50,188.3 475.75,189.2 476.00,189.9 476.25,189.3 476.50,189.6 476.75,189.9 477.00,189.5 477.25,191.5 477.50,189.4 477.75,190.1 478.00,191.1 478.25,191.8 478.50,192.5 478.75,191.8 479.00,192.1 479.25,192.1 479.50,191.0 479.75,193.7 480.00,192.5 480.25,192.5 480.50,191.2 480.75,192.1 481.00,192.7 481.25,191.9 481.50,191.9 481.75,191.1 482.00,192.2 482.25,192.9 482.50,193.2 482.75,193.8 483.00,193.2 483.25,193.4 483.50,194.5 483.75,194.6 484.00,193.7 484.25,194.6 484.50,194.4 484.75,195.4 485.00,195.0 485.25,195.9 485.50,195.3 485.75,194.0 486.00,193.5 486.25,194.8 486.50,195.9 486.75,195.5 487.00,195.4 487.25,196.9 487.50,196.7 487.75,197.7 488.00,198.8 488.25,198.7 488.50,198.3 488.75,196.4 489.00,197.4 489.25,197.8 489.50,197.4 489.75,197.5 490.00,198.2 490.25,198.3 490.50,198.7 490.75,198.2 491.00,197.7 491.25,197.8 491.50,198.7 491.75,197.8 492.00,198.4 492.25,198.5 492.50,197.7 492.75,197.5 493.00,198.1 493.25,197.6 493.50,197.5 493.75,197.5 494.00,197.9 494.25,198.7 494.50,196.6 494.75,198.4 495.00,198.0 495.25,198.6 495.50,199.5 495.75,198.3 496.00,199.1 496.25,199.4 496.50,199.5 496.75,199.6 497.00,199.5 497.25,198.1 497.50,198.8 497.75,198.9 498.00,198.4 498.25,199.2 498.50,198.7 498.75,199.8 499.00,199.9 499.25,199.2 499.50,200.5 499.75,199.9 500.00,200.3 500.25,200.9 500.50,202.2 500.75,202.1 501.00,202.1 501.25,202.3 501.50,200.9 501.75,202.0 502.00,202.2 502.25,201.7 502.50,201.5 502.75,202.5 503.00,200.9 503.25,200.8 503.50,201.5 503.75,200.6 504.00,202.1 504.25,201.6 504.50,201.5 504.75,201.6 505.00,201.2 505.25,202.5 505.50,203.1 505.75,202.3 506.00,202.3 506.25,202.0 506.50,202.3 506.75,201.9 507.00,202.4 507.25,201.9 507.50,202.8 507.75,203.0 508.00,202.1 508.25,203.5 508.50,203.2 508.75,203.0 509.00,203.7 509.25,202.9 509.50,203.8 509.75,202.7 510.00,204.0 510.25,203.7 510.50,202.6 510.75,201.8 511.00,201.8 511.25,203.6 511.50,203.4 511.75,203.9 512.00,205.2 512.25,203.5 512.50,204.1 512.75,203.0 513.00,203.7 513.25,204.2 513.50,204.5 513.75,204.4 514.00,204.2 514.25,205.0 514.50,203.2 514.75,204.9 515.00,205.8 515.25,205.1 515.50,204.4 515.75,204.8 516.00,205.3 516.25,205.5 516.50,205.6 516.75,205.9 517.00,205.7 517.25,205.4 517.50,206.1 517.75,204.9 518.00,205.7 518.25,206.2 518.50,205.8 518.75,204.7 519.00,206.3 519.25,205.0 519.50,203.4 519.75,204.5 520.00,205.7 520.25,205.2 520.50,205.6 520.75,203.9 521.00,205.9 521.25,205.6 521.50,205.6 521.75,206.1 522.00,207.1 522.25,205.2 522.50,204.7 522.75,205.3 523.00,204.8 523.25,204.7 523.50,204.9 523.75,206.4 524.00,204.7 524.25,205.2 524.50,205.4 524.75,206.0 525.00,206.1 525.25,206.6 525.50,206.1 525.75,205.9 526.00,206.8 526.25,206.1 526.50,206.9 526.75,206.4 527.00,206.9 527.25,206.4 527.50,205.8 527.75,206.9 528.00,207.3 528.25,207.2 528.50,206.5 528.75,207.0 529.00,206.1 529.25,206.5 529.50,206.3 529.75,207.3 530.00,207.7 530.25,207.8 530.50,207.3 530.75,208.1 531.00,207.2 531.25,208.6 531.50,207.7 531.75,207.2 532.00,208.1 532.25,207.3 532.50,207.8 532.75,207.0 533.00,207.2 533.25,206.7 533.50,207.7 533.75,208.2 534.00,207.7 534.25,207.5 534.50,207.6 534.75,207.7 535.00,207.2 535.25,208.2 535.50,208.2 535.75,208.7 536.00,208.6 536.25,207.7 536.50,208.1 536.75,209.7 537.00,207.5 537.25,209.3 537.50,208.4 537.75,207.6 538.00,208.1 538.25,207.8 538.50,207.6 538.75,207.9 539.00,208.7 539.25,207.8 539.50,208.4 539.75,209.4 540.00,208.3 540.25,208.0 540.50,208.3 540.75,208.4 541.00,207.4 541.25,208.3 541.50,207.9 541.75,208.2 542.00,207.4 542.25,208.5 542.50,207.6 542.75,207.3 543.00,208.6 543.25,208.0 543.50,209.6 543.75,208.9 544.00,209.0 544.25,210.1 544.50,210.9 544.75,210.0 545.00,210.1 545.25,209.7 545.50,209.4 545.75,209.0 546.00,208.5 546.25,209.1 546.50,210.2 546.75,209.1 547.00,209.4 547.25,209.7 547.50,209.1 547.75,210.0 548.00,210.5 548.25,210.0 548.50,211.0 548.75,209.4 549.00,209.7 549.25,208.6 549.50,209.0 549.75,209.2 550.00,209.3 550.25,210.1 550.50,209.6 550.75,209.6 551.00,209.5 551.25,210.1 551.50,210.2 551.75,210.4 552.00,211.2 552.25,210.8 552.50,211.1 552.75,211.7 553.00,211.8 553.25,210.5 553.50,210.0 553.75,209.9 554.00,210.9 554.25,209.5 554.50,209.5 554.75,210.8 555.00,210.2 555.25,209.6 555.50,210.6 555.75,210.1 556.00,211.0 556.25,210.9 556.50,210.3 556.75,210.9 557.00,210.7 557.25,210.7 557.50,211.2 557.75,209.8 558.00,210.6 558.25,210.7 558.50,210.8 558.75,210.7 559.00,211.5 559.25,210.8 559.50,211.8 559.75,211.4 560.00,212.5 560.25,212.6 560.50,212.6 560.75,211.9 561.00,212.7 561.25,211.4 561.50,211.9 561.75,211.1 562.00,211.7 562.25,211.0 562.50,211.8 562.75,211.8 563.00,210.9 563.25,211.6 563.50,210.9 563.75,211.9 564.00,211.4 564.25,212.1 564.50,212.6 564.75,210.8 565.00,211.5 565.25,210.8 565.50,211.1 565.75,212.1 566.00,211.1 566.25,210.9 566.50,211.1 566.75,211.3 567.00,212.2 567.25,212.8 567.50,212.9 567.75,213.7 568.00,212.8 568.25,212.8 568.50,212.8 568.75,213.2 569.00,212.1 569.25,212.4 569.50,211.2 569.75,211.9 570.00,211.7 570.25,211.5 570.50,211.8 570.75,211.7 571.00,211.5 571.25,212.8 571.50,210.7 571.75,211.9 572.00,212.2 572.25,213.1 572.50,212.7 572.75,212.9 573.00,212.8 573.25,213.5 573.50,212.7 573.75,213.5 574.00,212.6 574.25,212.9 574.50,212.8 574.75,212.7 575.00,212.2 575.25,212.1 575.50,212.8 575.75,213.4 576.00,212.2 576.25,213.6 576.50,213.2 576.75,213.0 577.00,213.1 577.25,211.9 577.50,212.2 577.75,211.7 578.00,212.2 578.25,211.5 578.50,212.1 578.75,212.1 579.00,212.0 579.25,212.1 579.50,212.2 579.75,212.7 580.00,213.5 580.25,213.0 580.50,214.3 580.75,213.2 581.00,213.5 581.25,212.7 581.50,214.4 581.75,212.1 582.00,213.2 582.25,213.8 582.50,212.7 582.75,212.6 583.00,212.5 583.25,211.7 583.50,213.2 583.75,212.7 584.00,212.9 584.25,213.3 584.50,212.8 584.75,212.3 585.00,213.4 585.25,212.9 585.50,212.8 585.75,213.2 586.00,214.4 586.25,213.6 586.50,214.0 586.75,213.2 587.00,213.8 587.25,212.6 587.50,214.0 587.75,213.0 588.00,213.5 588.25,212.1 588.50,212.1 588.75,213.3 589.00,212.6 589.25,213.0 589.50,213.9 589.75,213.7 590.00,213.2 590.25,213.2 590.50,213.8 590.75,213.7 591.00,214.0 591.25,214.2 591.50,215.0 591.75,214.5 592.00,214.2 592.25,215.1 592.50,213.6 592.75,213.5 593.00,214.1 593.25,213.2 593.50,214.6 593.75,214.7 594.00,214.5 594.25,214.6 594.50,213.4 594.75,214.3 595.00,214.4 595.25,214.2 595.50,213.5 595.75,214.1 596.00,214.3 596.25,214.0 596.50,213.6 596.75,214.6 597.00,214.1 597.25,214.9 597.50,215.3 597.75,215.1 598.00,214.4 598.25,215.5 598.50,214.7 598.75,215.1 599.00,215.3 599.25,215.3 599.50,214.8 599.75,214.8 600.00,214.8 600.25,214.6 600.50,215.3 600.75,215.1 601.00,215.2 601.25,214.8 601.50,214.7 601.75,214.6 602.00,214.1 602.25,214.8 602.50,214.5 602.75,213.9 603.00,213.6 603.25,214.4 603.50,214.0 603.75,214.0 604.00,215.3 604.25,214.8 604.50,215.4 604.75,215.1 605.00,214.7 605.25,215.4 605.50,214.6 605.75,215.0 606.00,215.1 606.25,214.9 606.50,215.6 606.75,216.1 607.00,215.3 607.25,215.6 607.50,215.2 607.75,215.6 608.00,215.5 608.25,215.5 608.50,215.6 608.75,215.5 609.00,215.5 609.25,215.2 609.50,213.8 609.75,215.5 610.00,215.9 610.25,214.9 610.50,215.6 610.75,215.4 611.00,215.1 611.25,214.9 611.50,214.9 611.75,215.0 612.00,215.3 612.25,214.9 612.50,215.2 612.75,215.9 613.00,215.8 613.25,216.4 613.50,215.4 613.75,215.7 614.00,214.6 614.25,215.7 614.50,214.6 614.75,215.7 615.00,216.1 615.25,215.7 615.50,215.2 615.75,215.0 616.00,215.9 616.25,215.1 616.50,215.8 616.75,215.8 617.00,215.7 617.25,214.9 617.50,215.6 617.75,215.6 618.00,216.6 618.25,216.0 618.50,216.1 618.75,215.5 619.00,216.5 619.25,216.3 619.50,216.3 619.75,216.0 620.00,215.3 620.25,215.9 620.50,215.0 620.75,215.5 621.00,215.9 621.25,215.9 621.50,216.3 621.75,216.3 622.00,215.2 622.25,215.3 622.50,216.2 622.75,216.0 623.00,215.2 623.25,216.3 623.50,215.9 623.75,215.9 624.00,216.3 624.25,216.5 624.50,216.7 624.75,216.6 625.00,217.4 625.25,216.7 625.50,216.6 625.75,217.2 626.00,216.3 626.25,216.9 626.50,217.6 626.75,217.3 627.00,216.4 627.25,216.1 627.50,216.5 627.75,216.9 628.00,216.3 628.25,215.8 628.50,216.2 628.75,216.9 629.00,216.0 629.25,216.3 629.50,216.3 629.75,216.3 630.00,216.2 630.25,216.5 630.50,217.0 630.75,216.8 631.00,216.8 631.25,216.4 631.50,217.5 631.75,217.0 632.00,217.3 632.25,216.8 632.50,217.1 632.75,218.2 633.00,216.5 633.25,217.2 633.50,217.4 633.75,217.6 634.00,217.4 634.25,217.4 634.50,216.9 634.75,216.7 635.00,216.7 635.25,216.5 635.50,216.9 635.75,216.3 636.00,216.6 636.25,216.5 636.50,216.5 636.75,217.1 637.00,216.5 637.25,216.8 637.50,217.4 637.75,216.5 638.00,216.5 638.25,217.8 638.50,218.0 638.75,217.2 639.00,216.6 639.25,216.3 639.50,216.4 639.75,216.7 640.00,216.3 640.25,216.5 640.50,217.1 640.75,216.9 641.00,216.6 641.25,217.5 641.50,217.5 641.75,217.7 642.00,216.7 642.25,217.1 642.50,217.0 642.75,217.4 643.00,217.2 643.25,216.6 643.50,217.2 643.75,216.6 644.00,217.1 644.25,217.1 644.50,216.9 644.75,216.8 645.00,216.5 645.25,217.3 645.50,216.5 645.75,217.5 646.00,217.5 646.25,218.1 646.50,216.8 646.75,216.7 647.00,217.9 647.25,217.6 647.50,217.6 647.75,218.2 648.00,217.4 648.25,217.3 648.50,217.5 648.75,217.7 649.00,217.3 649.25,217.2 649.50,218.2 649.75,217.8 650.00,217.7 650.25,219.2 650.50,217.9 650.75,217.3 651.00,218.4 651.25,217.1 651.50,217.6 651.75,217.1 652.00,217.4 652.25,217.8 652.50,218.1 652.75,216.6 653.00,218.2 653.25,217.7 653.50,217.0 653.75,217.3 654.00,217.2 654.25,218.0 654.50,217.4 654.75,217.8 655.00,218.0 655.25,217.2 655.50,217.1 655.75,217.9 656.00,217.9 656.25,217.6 656.50,217.5 656.75,218.3 657.00,217.5 657.25,217.6 657.50,217.9 657.75,218.3 658.00,217.6 658.25,217.5 658.50,217.1 658.75,218.2 659.00,217.3 659.25,218.2 659.50,217.9 659.75,218.2 660.00,218.2 660.25,217.6 660.50,218.4 660.75,217.8 661.00,218.2 661.25,218.2 661.50,218.5 661.75,218.1" fill="none" stroke="#9467bd" stroke-width="1.0" stroke-linejoin="round"/>
<polyline points="380.50,221.2 380.75,221.2 381.00,221.2 381.25,221.2 381.50,221.1 381.75,221.2 382.00,221.1 382.25,221.2 382.50,221.1 382.75,221.0 383.00,221.0 383.25,220.9 383.50,220.9 383.75,220.6 384.00,220.4 384.25,219.8 384.50,219.4 384.75,218.8 385.00,218.0 385.25,217.1 385.50,215.8 385.75,214.5 386.00,213.1 386.25,211.4 386.50,209.6 386.75,207.5 387.00,205.1 387.25,202.0 387.50,198.8 387.75,195.0 388.00,191.1 388.25,186.5 388.50,181.9 388.75,176.4 389.00,171.0 389.25,165.1 389.50,158.9 389.75,152.7 390.00,146.1 390.25,139.8 390.50,133.8 390.75,128.0 391.00,122.6 391.25,117.1 391.50,111.6 391.75,106.4 392.00,100.6 392.25,95.0 392.50,89.9 392.75,84.7 393.00,78.6 393.25,71.8 393.50,66.1 393.75,64.1 394.00,56.0 394.25,51.8 394.50,45.6 394.75,38.2 395.00,31.1 395.25,26.2 395.50,21.2 395.75,20.3 396.00,16.0 396.25,16.0 396.50,18.9 396.75,16.0 397.00,16.0 397.25,16.0 397.50,18.8 397.75,21.7 398.00,22.5 398.25,23.5 398.50,24.6 398.75,25.6 399.00,26.7 399.25,27.6 399.50,28.1 399.75,28.3 400.00,27.9 400.25,26.9 400.50,25.3 400.75,23.3 401.00,21.0 401.25,18.5 401.50,21.6 401.75,21.8 402.00,23.3 402.25,18.6 402.50,24.4 402.75,24.0 403.00,23.0 403.25,21.6 403.50,19.9 403.75,18.0 404.00,19.8 404.25,24.3 404.50,20.0 404.75,18.2 405.00,31.8 405.25,29.1 405.50,29.1 405.75,34.8 406.00,39.7 406.25,38.7 406.50,41.8 406.75,45.8 407.00,46.8 407.25,48.3 407.50,50.7 407.75,54.1 408.00,58.9 408.25,60.1 408.50,65.2 408.75,65.7 409.00,66.0 409.25,67.4 409.50,70.0 409.75,71.6 410.00,75.6 410.25,75.9 410.50,76.8 410.75,77.0 411.00,78.1 411.25,75.5 411.50,78.3 411.75,82.3 412.00,83.3 412.25,84.7 412.50,86.4 412.75,87.9 413.00,91.2 413.25,88.2 413.50,89.8 413.75,90.9 414.00,92.7 414.25,93.6 414.50,96.2 414.75,99.8 415.00,98.7 415.25,100.0 415.50,102.7 415.75,104.6 416.00,101.0 416.25,104.3 416.50,104.1 416.75,105.7 417.00,103.9 417.25,108.8 417.50,106.8 417.75,111.9 418.00,108.4 418.25,110.8 418.50,113.6 418.75,111.7 419.00,112.9 419.25,115.9 419.50,114.8 419.75,116.5 420.00,117.0 420.25,120.3 420.50,120.5 420.75,121.7 421.00,121.4 421.25,123.0 421.50,124.4 421.75,122.4 422.00,125.3 422.25,124.1 422.50,124.8 422.75,126.9 423.00,128.4 423.25,126.3 423.50,126.2 423.75,126.4 424.00,128.2 424.25,129.2 424.50,131.4 424.75,132.6 425.00,129.3 425.25,132.8 425.50,136.6 425.75,135.9 426.00,136.7 426.25,139.8 426.50,138.5 426.75,137.7 427.00,136.4 427.25,136.4 427.50,138.5 427.75,138.7 428.00,139.3 428.25,139.3 428.50,139.7 428.75,142.8 429.00,143.0 429.25,144.4 429.50,145.3 429.75,145.6 430.00,143.6 430.25,144.1 430.50,144.7 430.75,148.3 431.00,146.4 431.25,144.4 431.50,146.6 431.75,147.9 432.00,146.8 432.25,148.0 432.50,148.7 432.75,148.6 433.00,148.9 433.25,150.1 433.50,150.5 433.75,152.0 434.00,151.5 434.25,151.3 434.50,152.5 434.75,153.3 435.00,155.0 435.25,152.7 435.50,155.2 435.75,153.5 436.00,154.6 436.25,153.6 436.50,153.4 436.75,154.8 437.00,157.3 437.25,156.0 437.50,154.6 437.75,154.4 438.00,153.3 438.25,152.1 438.50,154.2 438.75,156.0 439.00,155.7 439.25,158.2 439.50,158.1 439.75,159.3 440.00,162.2 440.25,159.9 440.50,159.4 440.75,161.5 441.00,160.5 441.25,160.7 441.50,161.5 441.75,161.9 442.00,160.9 442.25,163.0 442.50,163.5 442.75,162.9 443.00,163.6 443.25,163.7 443.50,166.4 443.75,167.6 444.00,165.6 444.25,168.0 444.50,166.5 444.75,165.8 445.00,163.5 445.25,164.8 445.50,165.9 445.75,165.1 446.00,164.4 446.25,168.1 446.50,168.6 446.75,167.3 447.00,168.8 447.25,170.4 447.50,170.0 447.75,170.1 448.00,171.4 448.25,171.0 448.50,169.2 448.75,170.0 449.00,168.9 449.25,169.4 449.50,169.2 449.75,167.9 450.00,168.6 450.25,167.3 450.50,167.9 450.75,168.0 451.00,168.2 451.25,169.1 451.50,167.3 451.75,170.4 452.00,169.3 452.25,171.3 452.50,170.0 452.75,171.6 453.00,171.7 453.25,171.8 453.50,172.0 453.75,172.2 454.00,172.0 454.25,172.0 454.50,172.8 454.75,172.8 455.00,173.0 455.25,173.8 455.50,174.2 455.75,173.1 456.00,176.0 456.25,173.7 456.50,176.0 456.75,175.4 457.00,176.2 457.25,176.7 457.50,176.3 457.75,175.6 458.00,177.5 458.25,177.8 458.50,178.6 458.75,176.8 459.00,177.9 459.25,178.2 459.50,179.2 459.75,180.9 460.00,178.9 460.25,181.0 460.50,180.3 460.75,179.4 461.00,181.1 461.25,181.6 461.50,183.0 461.75,180.7 462.00,180.9 462.25,181.5 462.50,180.6 462.75,182.0 463.00,181.3 463.25,180.3 463.50,179.7 463.75,180.4 464.00,181.4 464.25,180.7 464.50,179.4 464.75,180.8 465.00,180.2 465.25,180.2 465.50,181.4 465.75,181.2 466.00,183.0 466.25,182.3 466.50,182.0 466.75,181.7 467.00,181.3 467.25,182.9 467.50,182.3 467.75,183.0 468.00,183.7 468.25,183.9 468.50,183.6 468.75,183.8 469.00,184.9 469.25,182.5 469.50,185.0 469.75,184.7 470.00,185.5 470.25,183.0 470.50,187.0 470.75,185.5 471.00,185.2 471.25,184.6 471.50,185.9 471.75,187.0 472.00,185.4 472.25,186.4 472.50,187.3 472.75,187.4 473.00,187.4 473.25,187.2 473.50,188.9 473.75,187.8 474.00,188.8 474.25,188.4 474.50,188.9 474.75,190.2 475.00,188.5 475.25,189.0 475.50,190.3 475.75,190.5 476.00,190.4 476.25,189.7 476.50,189.0 476.75,190.5 477.00,190.2 477.25,188.9 477.50,189.1 477.75,188.8 478.00,188.7 478.25,188.9 478.50,187.6 478.75,188.5 479.00,189.9 479.25,189.2 479.50,189.1 479.75,190.5 480.00,190.8 480.25,191.5 480.50,191.0 480.75,191.0 481.00,190.4 481.25,192.2 481.50,192.8 481.75,192.1 482.00,191.4 482.25,193.1 482.50,191.8 482.75,192.3 483.00,192.7 483.25,191.9 483.50,191.2 483.75,193.2 484.00,192.2 484.25,192.8 484.50,192.7 484.75,193.8 485.00,194.8 485.25,194.1 485.50,194.6 485.75,195.6 486.00,196.2 486.25,195.1 486.50,194.3 486.75,193.7 487.00,194.6 487.25,194.3 487.50,195.2 487.75,194.2 488.00,193.9 488.25,194.6 488.50,194.6 488.75,195.6 489.00,196.0 489.25,195.6 489.50,197.2 489.75,196.4 490.00,195.8 490.25,197.2 490.50,197.3 490.75,197.5 491.00,197.8 491.25,197.3 491.50,197.8 491.75,197.0 492.00,197.3 492.25,197.7 492.50,197.0 492.75,196.4 493.00,196.6 493.25,197.5 493.50,197.4 493.75,198.1 494.00,197.5 494.25,196.8 494.50,196.6 494.75,196.1 495.00,198.0 495.25,195.8 495.50,196.6 495.75,195.9 496.00,197.2 496.25,196.7 496.50,197.9 496.75,198.9 497.00,198.2 497.25,198.9 497.50,198.5 497.75,198.0 498.00,197.6 498.25,197.6 498.50,197.3 498.75,199.0 499.00,197.3 499.25,198.7 499.50,198.1 499.75,198.5 500.00,199.0 500.25,197.8 500.50,199.2 500.75,199.1 501.00,198.1 501.25,200.9 501.50,200.9 501.75,199.6 502.00,200.9 502.25,200.4 502.50,201.1 502.75,201.4 503.00,200.5 503.25,201.2 503.50,200.9 503.75,200.1 504.00,200.8 504.25,200.9 504.50,201.0 504.75,199.3 505.00,198.7 505.25,199.2 505.50,200.4 505.75,200.3 506.00,200.5 506.25,199.8 506.50,199.1 506.75,199.9 507.00,200.0 507.25,202.3 507.50,200.3 507.75,201.6 508.00,201.4 508.25,201.4 508.50,201.8 508.75,201.7 509.00,201.3 509.25,203.8 509.50,203.3 509.75,201.2 510.00,201.9 510.25,202.6 510.50,202.3 510.75,202.0 511.00,201.3 511.25,202.1 511.50,201.8 511.75,202.5 512.00,200.7 512.25,201.2 512.50,201.8 512.75,202.3 513.00,201.4 513.25,200.7 513.50,199.9 513.75,200.2 514.00,201.9 514.25,202.3 514.50,203.0 514.75,202.6 515.00,203.9 515.25,203.6 515.50,204.0 515.75,204.1 516.00,205.0 516.25,203.5 516.50,204.2 516.75,204.8 517.00,204.0 517.25,203.9 517.50,204.0 517.75,203.6 518.00,203.5 518.25,202.9 518.50,204.4 518.75,203.6 519.00,205.9 519.25,203.1 519.50,204.3 519.75,203.4 520.00,204.3 520.25,203.8 520.50,203.7 520.75,204.6 521.00,204.7 521.25,206.4 521.50,204.6 521.75,205.3 522.00,205.6 522.25,205.0 522.50,205.8 522.75,206.0 523.00,207.5 523.25,206.3 523.50,206.6 523.75,205.7 524.00,206.5 524.25,206.8 524.50,205.9 524.75,204.4 525.00,205.9 525.25,204.5 525.50,205.5 525.75,206.7 526.00,205.3 526.25,204.3 526.50,205.5 526.75,206.5 527.00,206.0 527.25,206.4 527.50,204.2 527.75,205.7 528.00,207.6 528.25,205.8 528.50,206.1 528.75,207.0 529.00,206.8 529.25,206.6 529.50,205.6 529.75,207.0 530.00,207.2 530.25,206.2 530.50,207.1 530.75,207.3 531.00,206.8 531.25,206.2 531.50,206.7 531.75,207.0 532.00,206.0 532.25,206.1 532.50,208.0 532.75,207.8 533.00,207.7 533.25,207.4 533.50,207.2 533.75,207.3 534.00,207.2 534.25,206.9 534.50,207.9 534.75,208.4 535.00,207.1 535.25,206.6 535.50,207.4 535.75,207.8 536.00,207.3 536.25,207.7 536.50,208.2 536.75,207.5 537.00,206.7 537.25,206.8 537.50,206.6 537.75,207.2 538.00,206.7 538.25,206.2 538.50,207.4 538.75,207.8 539.00,207.1 539.25,208.1 539.50,209.0 539.75,208.7 540.00,207.7 540.25,208.2 540.50,207.2 540.75,207.9 541.00,208.2 541.25,207.8 541.50,208.8 541.75,207.8 542.00,208.4 542.25,208.5 542.50,208.1 542.75,208.7 543.00,209.2 543.25,209.3 543.50,208.7 543.75,209.0 544.00,209.1 544.25,208.7 544.50,209.4 544.75,208.8 545.00,207.4 545.25,208.7 545.50,207.4 545.75,208.4 546.00,208.2 546.25,208.6 546.50,209.2 546.75,209.3 547.00,209.0 547.25,210.1 547.50,210.4 547.75,209.3 548.00,210.0 548.25,209.7 548.50,209.6 548.75,209.7 549.00,210.5 549.25,209.6 549.50,209.9 549.75,210.4 550.00,209.9 550.25,209.4 550.50,208.5 550.75,209.7 551.00,208.7 551.25,209.7 551.50,209.3 551.75,209.9 552.00,209.4 552.25,209.9 552.50,210.2 552.75,210.9 553.00,209.5 553.25,210.9 553.50,210.4 553.75,209.2 554.00,210.0 554.25,210.2 554.50,210.3 554.75,210.3 555.00,210.7 555.25,210.3 555.50,210.6 555.75,210.7 556.00,210.3 556.25,210.3 556.50,210.4 556.75,210.0 557.00,209.4 557.25,209.3 557.50,210.0 557.75,210.5 558.00,209.2 558.25,209.9 558.50,209.6 558.75,210.4 559.00,210.0 559.25,211.3 559.50,210.8 559.75,211.7 560.00,210.0 560.25,211.2 560.50,212.2 560.75,210.3 561.00,210.4 561.25,210.1 561.50,211.5 561.75,210.6 562.00,210.1 562.25,210.8 562.50,210.4 562.75,210.6 563.00,210.6 563.25,209.9 563.50,211.2 563.75,211.1 564.00,211.2 564.25,211.8 564.50,211.5 564.75,213.2 565.00,211.6 565.25,212.9 565.50,212.5 565.75,212.6 566.00,212.2 566.25,212.6 566.50,212.8 566.75,212.2 567.00,211.5 567.25,212.8 567.50,212.8 567.75,212.6 568.00,212.8 568.25,212.6 568.50,212.1 568.75,211.3 569.00,211.9 569.25,212.1 569.50,211.8 569.75,212.2 570.00,210.4 570.25,211.1 570.50,211.9 570.75,212.9 571.00,212.3 571.25,212.5 571.50,212.4 571.75,213.1 572.00,212.3 572.25,212.4 572.50,212.6 572.75,212.9 573.00,212.1 573.25,212.7 573.50,213.3 573.75,212.6 574.00,211.5 574.25,211.2 574.50,212.4 574.75,211.9 575.00,211.6 575.25,211.5 575.50,212.3 575.75,212.0 576.00,212.5 576.25,213.3 576.50,212.0 576.75,212.6 577.00,212.5 577.25,213.0 577.50,213.4 577.75,213.2 578.00,212.8 578.25,213.5 578.50,211.9 578.75,211.5 579.00,213.7 579.25,212.2 579.50,212.9 579.75,212.4 580.00,212.7 580.25,212.9 580.50,212.5 580.75,213.0 581.00,212.4 581.25,213.1 581.50,214.0 581.75,213.3 582.00,213.1 582.25,213.2 582.50,213.4 582.75,211.6 583.00,212.6 583.25,212.6 583.50,213.4 583.75,212.5 584.00,212.9 584.25,212.4 584.50,212.1 584.75,213.3 585.00,213.3 585.25,212.4 585.50,212.6 585.75,213.0 586.00,212.9 586.25,213.5 586.50,213.5 586.75,213.5 587.00,214.5 587.25,213.1 587.50,213.0 587.75,213.8 588.00,213.6 588.25,213.2 588.50,213.0 588.75,213.4 589.00,213.6 589.25,213.2 589.50,213.3 589.75,213.8 590.00,213.5 590.25,213.5 590.50,213.0 590.75,214.0 591.00,213.8 591.25,213.6 591.50,213.5 591.75,212.4 592.00,213.7 592.25,213.2 592.50,213.4 592.75,213.1 593.00,213.0 593.25,213.5 593.50,214.3 593.75,214.1 594.00,213.3 594.25,213.1 594.50,213.6 594.75,213.2 595.00,214.2 595.25,215.0 595.50,214.7 595.75,214.7 596.00,214.5 596.25,214.5 596.50,215.2 596.75,214.0 597.00,214.6 597.25,213.9 597.50,213.5 597.75,213.4 598.00,213.4 598.25,214.0 598.50,214.0 598.75,213.7 599.00,214.6 599.25,215.1 599.50,215.8 599.75,214.7 600.00,215.2 600.25,214.7 600.50,215.2 600.75,214.8 601.00,214.7 601.25,214.0 601.50,214.9 601.75,215.0 602.00,214.3 602.25,213.9 602.50,214.7 602.75,214.0 603.00,214.2 603.25,214.0 603.50,215.2 603.75,214.3 604.00,214.5 604.25,214.3 604.50,214.7 604.75,214.5 605.00,215.5 605.25,214.5 605.50,213.9 605.75,214.5 606.00,214.7 606.25,214.7 606.50,214.2 606.75,215.2 607.00,215.6 607.25,215.4 607.50,215.0 607.75,214.5 608.00,214.0 608.25,214.6 608.50,214.6 608.75,213.7 609.00,213.6 609.25,214.5 609.50,213.9 609.75,214.4 610.00,214.7 610.25,214.7 610.50,215.2 610.75,215.7 611.00,215.6 611.25,215.3 611.50,214.8 611.75,214.8 612.00,214.6 612.25,215.5 612.50,215.4 612.75,216.3 613.00,216.3 613.25,215.6 613.50,216.2 613.75,215.3 614.00,215.8 614.25,216.2 614.50,216.2 614.75,216.7 615.00,215.0 615.25,215.1 615.50,213.7 615.75,214.3 616.00,215.0 616.25,215.6 616.50,215.9 616.75,215.3 617.00,215.2 617.25,216.0 617.50,215.2 617.75,215.3 618.00,216.4 618.25,216.2 618.50,216.7 618.75,215.5 619.00,216.2 619.25,216.1 619.50,216.3 619.75,215.7 620.00,216.0 620.25,214.8 620.50,215.1 620.75,216.1 621.00,216.0 621.25,215.8 621.50,215.8 621.75,216.5 622.00,215.4 622.25,215.8 622.50,215.1 622.75,217.2 623.00,216.5 623.25,215.3 623.50,215.4 623.75,215.5 624.00,216.0 624.25,215.4 624.50,216.2 624.75,215.6 625.00,216.0 625.25,216.3 625.50,217.6 625.75,216.6 626.00,215.8 626.25,215.7 626.50,215.8 626.75,215.8 627.00,216.6 627.25,215.5 627.50,215.3 627.75,216.0 628.00,216.0 628.25,216.4 628.50,216.2 628.75,216.5 629.00,216.1 629.25,216.4 629.50,217.0 629.75,216.7 630.00,216.3 630.25,216.5 630.50,216.0 630.75,216.3 631.00,216.1 631.25,216.6 631.50,216.0 631.75,216.8 632.00,216.8 632.25,216.0 632.50,216.3 632.75,216.7 633.00,215.9 633.25,215.7 633.50,216.0 633.75,215.8 634.00,216.1 634.25,216.2 634.50,217.1 634.75,217.7 635.00,217.2 635.25,218.5 635.50,217.4 635.75,217.7 636.00,217.1 636.25,217.4 636.50,217.1 636.75,217.4 637.00,217.0 637.25,216.2 637.50,217.2 637.75,217.5 638.00,216.1 638.25,216.4 638.50,216.7 638.75,216.9 639.00,216.6 639.25,216.9 639.50,216.3 639.75,216.9 640.00,217.1 640.25,216.6 640.50,217.2 640.75,216.5 641.00,217.3 641.25,217.0 641.50,216.8 641.75,217.3 642.00,216.7 642.25,217.3 642.50,217.2 642.75,218.1 643.00,216.9 643.25,217.0 643.50,217.8 643.75,216.8 644.00,216.8 644.25,217.3 644.50,217.6 644.75,217.9 645.00,217.3 645.25,217.4 645.50,217.6 645.75,216.7 646.00,217.5 646.25,217.5 646.50,218.2 646.75,217.3 647.00,217.0 647.25,217.8 647.50,216.5 647.75,217.7 648.00,217.5 648.25,217.8 648.50,218.0 648.75,219.1 649.00,217.6 649.25,219.0 649.50,217.4 649.75,218.4 650.00,218.0 650.25,216.6 650.50,218.0 650.75,217.7 651.00,218.1 651.25,217.6 651.50,217.4 651.75,216.9 652.00,218.7 652.25,217.7 652.50,217.4 652.75,217.3 653.00,217.9 653.25,217.4 653.50,216.5 653.75,216.9 654.00,216.0 654.25,217.4 654.50,217.2 654.75,216.9 655.00,217.5 655.25,216.9 655.50,217.8 655.75,217.3 656.00,218.2 656.25,218.0 656.50,217.6 656.75,217.6 657.00,218.3 657.25,218.6 657.50,217.8 657.75,218.4 658.00,217.7 658.25,217.2 658.50,217.4 658.75,218.2 659.00,217.0 659.25,216.9 659.50,217.6 659.75,217.5 660.00,216.7 660.25,217.2 660.50,217.3 660.75,217.1 661.00,217.3 661.25,216.5 661.50,217.1 661.75,217.6" fill="none" stroke="#8c564b" stroke-width="1.0" stroke-linejoin="round"/>
<polyline points="380.50,221.2 380.75,221.2 381.00,221.2 381.25,221.2 381.50,221.2 381.75,221.2 382.00,221.2 382.25,221.1 382.50,221.1 382.75,221.1 383.00,221.0 383.25,220.9 383.50,220.8 383.75,220.5 384.00,220.2 384.25,219.9 384.50,219.4 384.75,218.8 385.00,218.1 385.25,217.1 385.50,215.8 385.75,214.4 386.00,213.0 386.25,211.5 386.50,209.8 386.75,207.6 387.00,205.1 387.25,202.1 387.50,198.7 387.75,195.0 388.00,191.0 388.25,186.4 388.50,181.3 388.75,176.1 389.00,170.6 389.25,164.4 389.50,158.3 389.75,151.9 390.00,145.2 390.25,139.1 390.50,133.7 390.75,127.8 391.00,122.5 391.25,117.1 391.50,111.6 391.75,106.5 392.00,100.8 392.25,94.9 392.50,89.8 392.75,84.4 393.00,75.4 393.25,72.8 393.50,65.7 393.75,58.0 394.00,53.9 394.25,47.5 394.50,42.2 394.75,34.9 395.00,27.6 395.25,23.1 395.50,18.9 395.75,19.4 396.00,21.5 396.25,23.5 396.50,25.2 396.75,26.7 397.00,27.7 397.25,28.4 397.50,28.6 397.75,28.3 398.00,27.6 398.25,26.4 398.50,24.9 398.75,23.3 399.00,16.0 399.25,16.0 399.50,16.0 399.75,16.0 400.00,16.0 400.25,16.0 400.50,16.0 400.75,16.4 401.00,16.0 401.25,16.0 401.50,16.0 401.75,21.4 402.00,37.6 402.25,22.9 402.50,36.4 402.75,19.5 403.00,32.3 403.25,29.6 403.50,26.8 403.75,18.2 404.00,21.4 404.25,19.0 404.50,26.4 404.75,26.0 405.00,31.9 405.25,31.2 405.50,37.7 405.75,36.6 406.00,42.8 406.25,41.2 406.50,39.0 406.75,47.3 407.00,48.6 407.25,48.7 407.50,54.0 407.75,57.9 408.00,58.9 408.25,58.1 408.50,58.4 408.75,61.2 409.00,62.3 409.25,62.0 409.50,64.4 409.75,63.4 410.00,64.0 410.25,67.3 410.50,66.1 410.75,68.0 411.00,70.5 411.25,72.2 411.50,72.9 411.75,78.4 412.00,81.3 412.25,80.0 412.50,80.9 412.75,84.6 413.00,84.7 413.25,88.8 413.50,88.7 413.75,88.0 414.00,88.1 414.25,88.1 414.50,90.1 414.75,91.2 415.00,93.3 415.25,94.3 415.50,95.6 415.75,97.3 416.00,97.9 416.25,100.8 416.50,102.0 416.75,104.8 417.00,105.7 417.25,103.9 417.50,105.4 417.75,106.9 418.00,108.1 418.25,109.6 418.50,111.1 418.75,109.3 419.00,108.9 419.25,111.7 419.50,107.2 419.75,109.9 420.00,109.2 420.25,109.1 420.50,109.9 420.75,113.3 421.00,113.2 421.25,114.8 421.50,117.4 421.75,118.7 422.00,121.7 422.25,121.6 422.50,123.6 422.75,123.7 423.00,123.6 423.25,122.8 423.50,124.5 423.75,125.2 424.00,126.4 424.25,124.1 424.50,129.0 424.75,129.2 425.00,132.2 425.25,131.0 425.50,132.6 425.75,131.9 426.00,130.4 426.25,129.4 426.50,131.4 426.75,131.5 427.00,132.8 427.25,134.4 427.50,134.9 427.75,134.9 428.00,136.6 428.25,137.9 428.50,138.3 428.75,137.4 429.00,138.1 429.25,136.5 429.50,138.7 429.75,136.3 430.00,138.3 430.25,138.1 430.50,136.6 430.75,138.8 431.00,141.4 431.25,142.2 431.50,141.6 431.75,142.2 432.00,143.9 432.25,143.8 432.50,145.6 432.75,148.6 433.00,145.0 433.25,146.8 433.50,145.8 433.75,146.7 434.00,147.1 434.25,148.3 434.50,147.3 434.75,148.1 435.00,148.5 435.25,149.8 435.50,150.7 435.75,152.0 436.00,151.5 436.25,151.1 436.50,153.9 436.75,152.5 437.00,151.5 437.25,150.6 437.50,150.3 437.75,150.4 438.00,153.3 438.25,153.0 438.50,154.1 438.75,154.9 439.00,154.9 439.25,155.1 439.50,155.1 439.75,158.2 440.00,157.6 440.25,159.1 440.50,157.2 440.75,157.2 441.00,159.6 441.25,160.0 441.50,158.9 441.75,159.0 442.00,161.3 442.25,161.3 442.50,161.2 442.75,162.9 443.00,160.8 443.25,162.3 443.50,162.1 443.75,162.9 444.00,160.2 444.25,162.2 444.50,161.4 444.75,161.3 445.00,161.2 445.25,162.8 445.50,162.7 445.75,161.9 446.00,163.0 446.25,163.5 446.50,163.4 446.75,164.8 447.00,165.1 447.25,166.6 447.50,167.8 447.75,165.6 448.00,168.7 448.25,168.3 448.50,168.1 448.75,164.9 449.00,167.2 449.25,166.6 449.50,169.3 449.75,169.1 450.00,168.1 450.25,168.9 450.50,168.3 450.75,167.6 451.00,167.8 451.25,167.6 451.50,167.4 451.75,168.2 452.00,168.4 452.25,168.9 452.50,172.0 452.75,172.2 453.00,172.7 453.25,174.5 453.50,174.7 453.75,173.0 454.00,173.5 454.25,172.1 454.50,172.1 454.75,173.7 455.00,173.9 455.25,173.5 455.50,172.5 455.75,176.4 456.00,173.4 456.25,172.4 456.50,173.5 456.75,173.4 457.00,174.1 457.25,175.7 457.50,173.8 457.75,175.3 458.00,175.1 458.25,175.8 458.50,174.6 458.75,176.3 459.00,176.8 459.25,177.8 459.50,178.9 459.75,178.3 460.00,178.0 460.25,179.1 460.50,180.8 460.75,179.6 461.00,177.1 461.25,179.1 461.50,178.4 461.75,180.0 462.00,178.7 462.25,178.7 462.50,177.2 462.75,177.3 463.00,177.4 463.25,177.1 463.50,178.5 463.75,176.8 464.00,178.4 464.25,177.4 464.50,176.4 464.75,178.5 465.00,177.9 465.25,178.5 465.50,178.6 465.75,178.9 466.00,179.7 466.25,180.1 466.50,180.0 466.75,182.0 467.00,181.7 467.25,181.6 467.50,182.3 467.75,181.0 468.00,181.7 468.25,182.3 468.50,183.0 468.75,183.2 469.00,182.7 469.25,184.7 469.50,183.5 469.75,184.3 470.00,184.9 470.25,186.8 470.50,186.2 470.75,184.9 471.00,186.1 471.25,186.4 471.50,186.2 471.75,185.2 472.00,186.7 472.25,184.2 472.50,184.6 472.75,185.4 473.00,184.2 473.25,187.0 473.50,186.2 473.75,185.4 474.00,184.8 474.25,187.3 474.50,187.6 474.75,186.7 475.00,186.6 475.25,187.2 475.50,187.2 475.75,185.3 476.00,187.2 476.25,187.7 476.50,186.7 476.75,185.5 477.00,186.3 477.25,187.1 477.50,188.3 477.75,187.5 478.00,185.2 478.25,186.9 478.50,186.6 478.75,188.9 479.00,188.4 479.25,189.0 479.50,187.7 479.75,189.6 480.00,189.7 480.25,190.3 480.50,192.4 480.75,189.7 481.00,192.3 481.25,191.5 481.50,192.4 481.75,191.7 482.00,191.4 482.25,191.3 482.50,189.5 482.75,191.3 483.00,190.6 483.25,190.0 483.50,190.8 483.75,191.2 484.00,189.8 484.25,191.2 484.50,192.9 484.75,192.6 485.00,193.9 485.25,193.2 485.50,194.7 485.75,192.9 486.00,192.9 486.25,192.6 486.50,192.6 486.75,192.3 487.00,193.2 487.25,192.8 487.50,192.7 487.75,193.2 488.00,194.4 488.25,193.5 488.50,194.8 488.75,194.5 489.00,194.6 489.25,194.4 489.50,194.1 489.75,193.6 490.00,193.4 490.25,194.0 490.50,195.0 490.75,194.2 491.00,194.3 491.25,195.8 491.50,196.4 491.75,195.8 492.00,194.4 492.25,196.1 492.50,196.1 492.75,195.5 493.00,196.9 493.25,196.9 493.50,196.2 493.75,195.4 494.00,196.0 494.25,196.0 494.50,196.6 494.75,194.3 495.00,196.4 495.25,194.7 495.50,196.4 495.75,195.4 496.00,195.3 496.25,197.5 496.50,196.8 496.75,197.1 497.00,197.1 497.25,198.5 497.50,197.5 497.75,198.3 498.00,199.0 498.25,197.6 498.50,197.3 498.75,198.1 499.00,198.1 499.25,197.5 499.50,196.9 499.75,199.1 500.00,197.8 500.25,197.5 500.50,199.8 500.75,199.0 501.00,199.5 501.25,199.4 501.50,198.7 501.75,200.6 502.00,199.8 502.25,200.3 502.50,199.7 502.75,198.3 503.00,200.4 503.25,200.1 503.50,200.1 503.75,199.4 504.00,199.8 504.25,200.2 504.50,200.3 504.75,200.1 505.00,201.1 505.25,202.0 505.50,199.7 505.75,200.5 506.00,200.9 506.25,200.5 506.50,199.7 506.75,200.6 507.00,199.8 507.25,200.0 507.50,198.8 507.75,201.4 508.00,201.1 508.25,199.6 508.50,201.7 508.75,201.7 509.00,202.1 509.25,202.8 509.50,201.3 509.75,200.7 510.00,201.0 510.25,202.1 510.50,201.8 510.75,200.6 511.00,202.2 511.25,203.0 511.50,202.0 511.75,202.8 512.00,203.6 512.25,202.5 512.50,200.9 512.75,201.2 513.00,201.0 513.25,200.7 513.50,201.8 513.75,202.6 514.00,202.0 514.25,202.6 514.50,202.4 514.75,203.0 515.00,203.1 515.25,203.6 515.50,202.6 515.75,201.6 516.00,203.7 516.25,202.3 516.50,202.8 516.75,203.8 517.00,204.2 517.25,203.2 517.50,203.8 517.75,203.7 518.00,203.6 518.25,201.9 518.50,203.9 518.75,202.4 519.00,201.5 519.25,202.6 519.50,201.6 519.75,203.1 520.00,203.3 520.25,203.1 520.50,204.1 520.75,203.6 521.00,203.3 521.25,204.0 521.50,203.2 521.75,202.7 522.00,204.0 522.25,203.3 522.50,203.0 522.75,203.7 523.00,202.7 523.25,202.7 523.50,203.8 523.75,203.3 524.00,203.9 524.25,203.6 524.50,203.4 524.75,204.2 525.00,204.4 525.25,205.3 525.50,204.8 525.75,205.3 526.00,206.4 526.25,205.8 526.50,204.5 526.75,206.4 527.00,205.1 527.25,204.2 527.50,205.8 527.75,205.3 528.00,207.2 528.25,205.3 528.50,206.1 528.75,206.3 529.00,206.9 529.25,206.5 529.50,206.3 529.75,206.4 530.00,206.8 530.25,206.4 530.50,206.0 530.75,205.8 531.00,206.0 531.25,206.2 531.50,205.5 531.75,206.1 532.00,205.9 532.25,206.6 532.50,206.9 532.75,206.5 533.00,206.5 533.25,205.2 533.50,206.7 533.75,206.1 534.00,206.4 534.25,206.5 534.50,206.9 534.75,206.5 535.00,206.6 535.25,207.7 535.50,206.4 535.75,206.8 536.00,207.5 536.25,206.9 536.50,206.1 536.75,206.1 537.00,206.8 537.25,206.2 537.50,206.5 537.75,207.9 538.00,207.6 538.25,206.7 538.50,207.3 538.75,207.2 539.00,206.7 539.25,207.3 539.50,207.8 539.75,208.4 540.00,206.6 540.25,208.7 540.50,208.2 540.75,207.3 541.00,207.9 541.25,208.4 541.50,208.5 541.75,207.2 542.00,207.4 542.25,209.1 542.50,208.8 542.75,207.8 543.00,207.2 543.25,208.4 543.50,207.5 543.75,208.7 544.00,208.6 544.25,208.2 544.50,207.2 544.75,207.5 545.00,207.3 545.25,209.0 545.50,207.2 545.75,208.6 546.00,207.0 546.25,208.6 546.50,210.0 546.75,209.2 547.00,209.9 547.25,208.7 547.50,209.5 547.75,208.9 548.00,210.0 548.25,209.8 548.50,209.1 548.75,209.0 549.00,209.5 549.25,208.6 549.50,208.3 549.75,209.3 550.00,209.4 550.25,209.5 550.50,208.9 550.75,209.2 551.00,208.9 551.25,208.6 551.50,209.5 551.75,209.7 552.00,209.8 552.25,209.0 552.50,209.9 552.75,209.9 553.00,210.0 553.25,209.3 553.50,209.6 553.75,210.4 554.00,209.3 554.25,209.7 554.50,209.3 554.75,209.8 555.00,210.1 555.25,210.6 555.50,209.4 555.75,209.1 556.00,210.2 556.25,209.6 556.50,209.2 556.75,209.4 557.00,209.1 557.25,209.6 557.50,209.9 557.75,209.0 558.00,211.0 558.25,210.0 558.50,211.0 558.75,210.6 559.00,211.0 559.25,210.4 559.50,210.6 559.75,209.8 560.00,210.6 560.25,210.3 560.50,209.8 560.75,209.4 561.00,210.2 561.25,208.7 561.50,210.0 561.75,209.4 562.00,211.0 562.25,210.7 562.50,210.9 562.75,211.1 563.00,211.4 563.25,210.8 563.50,211.1 563.75,209.8 564.00,210.8 564.25,210.7 564.50,212.1 564.75,210.2 565.00,210.3 565.25,211.9 565.50,212.0 565.75,211.9 566.00,210.8 566.25,212.2 566.50,211.9 566.75,212.0 567.00,210.9 567.25,210.4 567.50,211.2 567.75,210.0 568.00,210.5 568.25,211.1 568.50,210.4 568.75,210.2 569.00,210.3 569.25,210.8 569.50,210.5 569.75,211.2 570.00,210.9 570.25,210.1 570.50,211.0 570.75,211.3 571.00,211.5 571.25,211.2 571.50,212.1 571.75,211.8 572.00,212.2 572.25,211.9 572.50,212.8 572.75,212.3 573.00,212.5 573.25,212.3 573.50,212.3 573.75,212.1 574.00,213.0 574.25,213.5 574.50,212.1 574.75,212.0 575.00,212.3 575.25,211.5 575.50,210.9 575.75,211.7 576.00,212.2 576.25,211.8 576.50,212.4 576.75,210.9 577.00,212.6 577.25,212.6 577.50,211.6 577.75,212.4 578.00,213.0 578.25,211.9 578.50,211.8 578.75,213.2 579.00,211.9 579.25,211.8 579.50,211.4 579.75,212.2 580.00,212.3 580.25,212.8 580.50,212.7 580.75,212.3 581.00,213.0 581.25,213.8 581.50,213.6 581.75,212.6 582.00,214.4 582.25,214.1 582.50,214.1 582.75,213.0 583.00,214.0 583.25,213.6 583.50,213.3 583.75,212.8 584.00,212.7 584.25,213.4 584.50,213.3 584.75,213.4 585.00,212.1 585.25,212.9 585.50,212.8 585.75,213.2 586.00,214.2 586.25,214.6 586.50,214.5 586.75,212.9 587.00,214.1 587.25,213.6 587.50,214.3 587.75,212.5 588.00,213.8 588.25,214.7 588.50,214.3 588.75,213.9 589.00,213.6 589.25,214.3 589.50,213.7 589.75,213.9 590.00,213.9 590.25,214.1 590.50,213.6 590.75,213.2 591.00,213.7 591.25,213.9 591.50,212.4 591.75,213.4 592.00,213.4 592.25,214.4 592.50,213.1 592.75,214.4 593.00,213.0 593.25,213.4 593.50,213.9 593.75,214.1 594.00,213.8 594.25,214.1 594.50,214.9 594.75,213.5 595.00,214.9 595.25,214.4 595.50,214.8 595.75,214.0 596.00,215.7 596.25,214.6 596.50,214.9 596.75,216.6 597.00,215.8 597.25,215.4 597.50,215.5 597.75,214.8 598.00,214.6 598.25,214.2 598.50,214.9 598.75,214.0 599.00,214.2 599.25,213.8 599.50,214.0 599.75,214.0 600.00,214.2 600.25,213.9 600.50,214.1 600.75,214.7 601.00,215.3 601.25,213.9 601.50,214.0 601.75,214.5 602.00,214.0 602.25,214.7 602.50,214.7 602.75,214.9 603.00,214.1 603.25,213.8 603.50,214.9 603.75,215.2 604.00,214.5 604.25,214.6 604.50,214.7 604.75,215.8 605.00,214.9 605.25,215.0 605.50,215.3 605.75,214.9 606.00,215.2 606.25,214.9 606.50,215.1 606.75,215.2 607.00,214.3 607.25,215.1 607.50,214.8 607.75,214.6 608.00,215.5 608.25,215.1 608.50,215.3 608.75,215.0 609.00,215.6 609.25,214.7 609.50,215.2 609.75,215.9 610.00,215.1 610.25,215.8 610.50,216.0 610.75,215.1 611.00,215.3 611.25,215.7 611.50,215.1 611.75,215.3 612.00,215.5 612.25,215.2 612.50,215.6 612.75,215.2 613.00,215.7 613.25,215.7 613.50,217.3 613.75,216.2 614.00,215.2 614.25,216.3 614.50,216.1 614.75,216.2 615.00,216.7 615.25,215.4 615.50,214.7 615.75,214.7 616.00,215.5 616.25,215.8 616.50,215.7 616.75,215.2 617.00,215.6 617.25,215.0 617.50,215.2 617.75,215.9 618.00,215.9 618.25,215.1 618.50,215.1 618.75,215.6 619.00,215.0 619.25,215.8 619.50,216.0 619.75,216.0 620.00,215.8 620.25,217.2 620.50,216.1 620.75,216.1 621.00,216.6 621.25,216.7 621.50,215.8 621.75,216.7 622.00,216.6 622.25,216.0 622.50,217.0 622.75,215.2 623.00,216.6 623.25,216.4 623.50,216.7 623.75,216.2 624.00,216.3 624.25,216.1 624.50,216.4 624.75,217.0 625.00,215.5 625.25,215.7 625.50,215.7 625.75,215.7 626.00,215.6 626.25,216.2 626.50,214.6 626.75,216.2 627.00,216.6 627.25,215.1 627.50,216.3 627.75,216.1 628.00,216.5 628.25,216.2 628.50,215.9 628.75,216.0 629.00,216.7 629.25,215.7 629.50,216.4 629.75,216.7 630.00,215.6 630.25,215.9 630.50,216.3 630.75,216.6 631.00,216.1 631.25,216.6 631.50,216.9 631.75,216.3 632.00,216.5 632.25,217.1 632.50,215.9 632.75,217.2 633.00,216.7 633.25,216.1 633.50,216.3 633.75,215.8 634.00,216.0 634.25,217.3 634.50,215.7 634.75,216.5 635.00,216.2 635.25,216.6 635.50,216.7 635.75,216.0 636.00,216.0 636.25,216.1 636.50,216.5 636.75,215.4 637.00,215.9 637.25,215.7 637.50,215.9 637.75,215.8 638.00,215.4 638.25,215.4 638.50,215.4 638.75,215.9 639.00,216.0 639.25,216.8 639.50,216.6 639.75,217.0 640.00,217.3 640.25,217.1 640.50,217.2 640.75,217.6 641.00,218.1 641.25,217.4 641.50,217.3 641.75,217.1 642.00,217.5 642.25,217.5 642.50,217.6 642.75,216.6 643.00,216.7 643.25,216.0 643.50,216.8 643.75,215.7 644.00,216.4 644.25,216.6 644.50,216.7 644.75,216.7 645.00,216.8 645.25,218.0 645.50,217.4 645.75,216.9 646.00,216.7 646.25,216.8 646.50,217.3 646.75,216.8 647.00,217.1 647.25,217.1 647.50,216.7 647.75,217.4 648.00,217.2 648.25,216.8 648.50,217.1 648.75,218.1 649.00,218.0 649.25,218.4 649.50,217.1 649.75,217.6 650.00,217.7 650.25,217.5 650.50,218.0 650.75,217.2 651.00,217.9 651.25,217.2 651.50,217.5 651.75,217.6 652.00,217.4 652.25,217.7 652.50,217.5 652.75,217.0 653.00,216.8 653.25,217.2 653.50,216.9 653.75,218.1 654.00,217.3 654.25,217.3 654.50,217.4 654.75,217.0 655.00,216.4 655.25,217.1 655.50,216.9 655.75,216.9 656.00,217.0 656.25,217.6 656.50,218.0 656.75,217.4 657.00,217.6 657.25,218.3 657.50,217.6 657.75,218.7 658.00,218.9 658.25,218.3 658.50,218.7 658.75,218.1 659.00,218.0 659.25,218.1 659.50,217.8 659.75,218.4 660.00,218.8 660.25,217.5 660.50,217.5 660.75,217.6 661.00,218.1 661.25,217.7 661.50,218.1 661.75,217.4" fill="none" stroke="#e377c2" stroke-width="1.0" stroke-linejoin="round"/>
<polyline points="380.50,221.2 380.75,221.1 381.00,221.1 381.25,221.2 381.50,221.2 381.75,221.3 382.00,221.2 382.25,221.1 382.50,221.1 382.75,221.0 383.00,220.9 383.25,220.8 383.50,220.8 383.75,220.6 384.00,220.2 384.25,219.8 384.50,219.4 384.75,218.8 385.00,218.0 385.25,217.0 385.50,215.9 385.75,214.4 386.00,213.1 386.25,211.3 386.50,209.6 386.75,207.6 387.00,205.1 387.25,201.9 387.50,198.3 387.75,194.8 388.00,190.9 388.25,186.0 388.50,181.5 388.75,175.9 389.00,170.8 389.25,164.8 389.50,158.5 389.75,151.9 390.00,145.7 390.25,139.6 390.50,133.6 390.75,128.1 391.00,122.1 391.25,116.9 391.50,111.3 391.75,106.2 392.00,100.5 392.25,95.4 392.50,89.7 392.75,84.8 393.00,77.3 393.25,71.3 393.50,66.3 393.75,59.4 394.00,53.1 394.25,49.7 394.50,44.1 394.75,38.3 395.00,31.5 395.25,26.1 395.50,20.1 395.75,21.7 396.00,24.2 396.25,26.6 396.50,28.6 396.75,30.2 397.00,31.3 397.25,31.7 397.50,31.6 397.75,31.1 398.00,30.2 398.25,29.0 398.50,27.9 398.75,26.9 399.00,26.1 399.25,25.4 399.50,24.9 399.75,24.5 400.00,24.0 400.25,23.4 400.50,22.6 400.75,21.6 401.00,20.3 401.25,18.8 401.50,18.7 401.75,20.3 402.00,21.8 402.25,19.3 402.50,24.1 402.75,22.6 403.00,22.8 403.25,25.4 403.50,25.4 403.75,25.1 404.00,24.0 404.25,24.0 404.50,23.2 404.75,25.2 405.00,22.4 405.25,30.8 405.50,32.7 405.75,37.8 406.00,41.2 406.25,44.8 406.50,44.9 406.75,45.6 407.00,49.3 407.25,49.6 407.50,51.0 407.75,51.6 408.00,53.9 408.25,56.9 408.50,58.2 408.75,60.4 409.00,63.1 409.25,65.2 409.50,63.0 409.75,68.3 410.00,68.1 410.25,68.5 410.50,71.9 410.75,74.6 411.00,74.9 411.25,75.0 411.50,80.0 411.75,81.5 412.00,82.4 412.25,82.0 412.50,83.0 412.75,85.7 413.00,85.8 413.25,85.8 413.50,89.8 413.75,89.9 414.00,90.9 414.25,92.2 414.50,93.6 414.75,97.4 415.00,96.6 415.25,98.0 415.50,97.8 415.75,98.6 416.00,100.4 416.25,101.3 416.50,100.2 416.75,101.8 417.00,104.0 417.25,106.1 417.50,104.6 417.75,108.8 418.00,111.1 418.25,110.1 418.50,112.0 418.75,114.8 419.00,114.5 419.25,115.0 419.50,116.4 419.75,116.7 420.00,117.6 420.25,118.7 420.50,121.6 420.75,120.1 421.00,119.6 421.25,122.1 421.50,122.4 421.75,121.8 422.00,121.8 422.25,122.7 422.50,122.5 422.75,124.4 423.00,125.9 423.25,125.2 423.50,125.9 423.75,126.6 424.00,128.1 424.25,129.5 424.50,128.9 424.75,129.2 425.00,130.4 425.25,130.8 425.50,130.5 425.75,131.3 426.00,130.4 426.25,131.8 426.50,133.7 426.75,130.0 427.00,132.1 427.25,132.1 427.50,133.7 427.75,134.2 428.00,134.4 428.25,134.9 428.50,135.8 428.75,137.3 429.00,136.6 429.25,138.0 429.50,136.9 429.75,140.7 430.00,141.1 430.25,141.6 430.50,144.2 430.75,143.6 431.00,145.1 431.25,143.9 431.50,143.3 431.75,143.8 432.00,143.5 432.25,145.2 432.50,145.2 432.75,146.5 433.00,150.0 433.25,148.1 433.50,150.3 433.75,148.5 434.00,148.2 434.25,148.6 434.50,150.0 434.75,150.8 435.00,152.6 435.25,150.7 435.50,151.5 435.75,152.2 436.00,153.5 436.25,153.8 436.50,153.3 436.75,152.4 437.00,153.6 437.25,154.9 437.50,153.7 437.75,153.7 438.00,154.8 438.25,155.3 438.50,154.8 438.75,155.1 439.00,154.3 439.25,155.9 439.50,153.6 439.75,154.9 440.00,153.0 440.25,157.7 440.50,157.0 440.75,158.2 441.00,157.4 441.25,157.8 441.50,159.5 441.75,159.5 442.00,160.3 442.25,162.0 442.50,161.9 442.75,163.5 443.00,163.2 443.25,163.5 443.50,163.7 443.75,164.1 444.00,162.8 444.25,163.3 444.50,161.8 444.75,165.7 445.00,164.0 445.25,164.0 445.50,163.8 445.75,164.3 446.00,162.7 446.25,165.8 446.50,166.7 446.75,164.7 447.00,165.9 447.25,164.9 447.50,165.3 447.75,163.2 448.00,166.2 448.25,164.0 448.50,165.3 448.75,165.7 449.00,166.1 449.25,167.4 449.50,166.7 449.75,166.9 450.00,167.6 450.25,168.6 450.50,168.1 450.75,168.0 451.00,168.2 451.25,169.6 451.50,168.6 451.75,168.2 452.00,169.9 452.25,169.2 452.50,171.2 452.75,172.9 453.00,174.6 453.25,175.7 453.50,175.9 453.75,175.6 454.00,176.3 454.25,175.2 454.50,173.0 454.75,175.9 455.00,173.9 455.25,174.2 455.50,174.4 455.75,175.0 456.00,175.9 456.25,176.6 456.50,176.8 456.75,177.5 457.00,177.3 457.25,176.5 457.50,176.3 457.75,176.1 458.00,177.0 458.25,177.7 458.50,175.4 458.75,177.2 459.00,177.3 459.25,178.1 459.50,177.7 459.75,177.5 460.00,177.1 460.25,178.3 460.50,177.9 460.75,177.7 461.00,179.9 461.25,178.8 461.50,178.8 461.75,180.2 462.00,180.4 462.25,179.4 462.50,180.5 462.75,181.4 463.00,182.2 463.25,182.0 463.50,179.6 463.75,182.3 464.00,183.2 464.25,183.5 464.50,181.0 464.75,181.3 465.00,182.4 465.25,180.6 465.50,181.0 465.75,183.1 466.00,183.4 466.25,182.7 466.50,183.3 466.75,182.8 467.00,182.2 467.25,183.3 467.50,182.3 467.75,183.3 468.00,181.6 468.25,181.1 468.50,184.1 468.75,182.7 469.00,181.3 469.25,182.7 469.50,181.3 469.75,180.9 470.00,181.4 470.25,181.3 470.50,182.3 470.75,181.7 471.00,183.1 471.25,183.5 471.50,184.2 471.75,185.3 472.00,184.5 472.25,184.9 472.50,185.6 472.75,186.6 473.00,186.5 473.25,185.7 473.50,186.5 473.75,185.8 474.00,186.6 474.25,187.4 474.50,185.6 474.75,188.3 475.00,189.1 475.25,188.5 475.50,187.8 475.75,187.3 476.00,187.6 476.25,188.1 476.50,186.5 476.75,187.3 477.00,187.5 477.25,188.2 477.50,186.8 477.75,187.5 478.00,189.6 478.25,188.4 478.50,189.5 478.75,190.2 479.00,189.3 479.25,190.6 479.50,189.8 479.75,188.6 480.00,189.2 480.25,190.4 480.50,190.1 480.75,189.8 481.00,191.0 481.25,190.9 481.50,190.7 481.75,191.9 482.00,192.5 482.25,191.6 482.50,190.8 482.75,192.4 483.00,192.2 483.25,192.2 483.50,192.3 483.75,193.3 484.00,191.9 484.25,191.7 484.50,192.7 484.75,191.9 485.00,193.0 485.25,193.4 485.50,193.4 485.75,192.1 486.00,192.4 486.25,193.2 486.50,192.4 486.75,194.5 487.00,193.6 487.25,194.9 487.50,196.3 487.75,194.4 488.00,194.9 488.25,196.1 488.50,195.4 488.75,194.6 489.00,195.1 489.25,194.0 489.50,195.5 489.75,192.6 490.00,194.2 490.25,194.6 490.50,194.5 490.75,194.7 491.00,195.6 491.25,195.4 491.50,194.7 491.75,194.4 492.00,196.0 492.25,195.0 492.50,195.7 492.75,193.9 493.00,195.0 493.25,194.9 493.50,195.3 493.75,195.3 494.00,195.9 494.25,196.4 494.50,194.9 494.75,195.3 495.00,195.7 495.25,197.5 495.50,197.0 495.75,196.7 496.00,197.3 496.25,198.7 496.50,197.4 496.75,198.1 497.00,197.7 497.25,196.3 497.50,198.7 497.75,195.8 498.00,197.5 498.25,197.6 498.50,197.8 498.75,198.4 499.00,198.6 499.25,199.2 499.50,198.7 499.75,199.6 500.00,199.0 500.25,199.0 500.50,199.3 500.75,198.5 501.00,199.7 501.25,200.2 501.50,198.6 501.75,199.2 502.00,199.9 502.25,200.5 502.50,199.3 502.75,200.2 503.00,200.5 503.25,200.4 503.50,199.6 503.75,200.0 504.00,200.6 504.25,201.7 504.50,199.9 504.75,200.3 505.00,199.8 505.25,200.0 505.50,199.2 505.75,199.3 506.00,199.5 506.25,199.6 506.50,201.0 506.75,201.2 507.00,199.3 507.25,201.8 507.50,202.0 507.75,200.4 508.00,201.6 508.25,202.9 508.50,203.0 508.75,202.3 509.00,201.4 509.25,200.6 509.50,201.1 509.75,202.0 510.00,201.4 510.25,203.1 510.50,202.6 510.75,201.7 511.00,200.5 511.25,202.7 511.50,202.8 511.75,201.9 512.00,201.9 512.25,201.6 512.50,201.8 512.75,201.2 513.00,201.0 513.25,201.8 513.50,202.8 513.75,202.2 514.00,201.9 514.25,202.2 514.50,201.4 514.75,202.0 515.00,202.4 515.25,202.8 515.50,202.4 515.75,203.7 516.00,204.1 516.25,203.7 516.50,204.2 516.75,203.9 517.00,205.2 517.25,203.8 517.50,204.2 517.75,203.4 518.00,203.3 518.25,203.6 518.50,204.9 518.75,203.7 519.00,203.7 519.25,204.8 519.50,204.1 519.75,205.3 520.00,206.1 520.25,205.2 520.50,205.9 520.75,204.3 521.00,205.3 521.25,205.4 521.50,204.5 521.75,204.1 522.00,203.9 522.25,204.2 522.50,204.2 522.75,202.9 523.00,204.7 523.25,203.5 523.50,205.3 523.75,204.5 524.00,205.1 524.25,204.2 524.50,205.0 524.75,204.9 525.00,205.2 525.25,204.6 525.50,204.3 525.75,203.9 526.00,204.4 526.25,204.2 526.50,204.2 526.75,205.5 527.00,204.4 527.25,205.6 527.50,205.3 527.75,206.1 528.00,206.4 528.25,206.3 528.50,207.1 528.75,206.3 529.00,205.2 529.25,205.1 529.50,204.9 529.75,205.3 530.00,205.8 530.25,205.0 530.50,206.2 530.75,205.7 531.00,206.0 531.25,206.4 531.50,207.2 531.75,206.6 532.00,205.8 532.25,206.7 532.50,207.1 532.75,206.8 533.00,207.1 533.25,206.9 533.50,207.4 533.75,206.6 534.00,207.3 534.25,207.2 534.50,207.2 534.75,208.2 535.00,206.4 535.25,206.4 535.50,207.8 535.75,206.0 536.00,207.4 536.25,207.8 536.50,207.4 536.75,207.4 537.00,208.2 537.25,207.8 537.50,209.0 537.75,207.9 538.00,208.8 538.25,209.3 538.50,208.5 538.75,209.2 539.00,207.8 539.25,207.4 539.50,208.9 539.75,208.5 540.00,208.8 540.25,208.8 540.50,208.6 540.75,208.2 541.00,209.1 541.25,207.9 541.50,207.2 541.75,209.3 542.00,208.8 542.25,209.3 542.50,210.5 542.75,210.1 543.00,207.8 543.25,208.6 543.50,207.2 543.75,207.7 544.00,206.8 544.25,206.4 544.50,207.1 544.75,205.9 545.00,206.0 545.25,207.0 545.50,207.0 545.75,207.9 546.00,206.6 546.25,208.3 546.50,208.0 546.75,208.7 547.00,208.9 547.25,208.4 547.50,209.0 547.75,208.6 548.00,209.3 548.25,208.8 548.50,210.1 548.75,210.1 549.00,211.8 549.25,209.4 549.50,209.6 549.75,211.0 550.00,210.7 550.25,210.1 550.50,210.6 550.75,209.3 551.00,209.1 551.25,210.0 551.50,210.0 551.75,210.3 552.00,210.9 552.25,211.1 552.50,210.8 552.75,210.6 553.00,210.1 553.25,211.3 553.50,210.8 553.75,209.9 554.00,209.9 554.25,210.3 554.50,210.2 554.75,211.8 555.00,210.6 555.25,210.0 555.50,210.1 555.75,209.6 556.00,209.5 556.25,209.9 556.50,210.9 556.75,210.7 557.00,211.1 557.25,210.0 557.50,210.4 557.75,209.9 558.00,210.4 558.25,211.1 558.50,210.5 558.75,211.0 559.00,211.3 559.25,211.4 559.50,210.0 559.75,210.7 560.00,211.1 560.25,210.8 560.50,210.5 560.75,210.6 561.00,210.6 561.25,210.7 561.50,210.0 561.75,210.6 562.00,209.4 562.25,210.8 562.50,211.8 562.75,210.7 563.00,209.9 563.25,210.1 563.50,209.9 563.75,210.0 564.00,209.5 564.25,210.8 564.50,209.9 564.75,210.4 565.00,210.7 565.25,209.7 565.50,209.9 565.75,211.7 566.00,210.5 566.25,210.7 566.50,211.9 566.75,211.8 567.00,211.6 567.25,211.6 567.50,211.0 567.75,210.9 568.00,212.3 568.25,213.2 568.50,212.4 568.75,211.9 569.00,212.0 569.25,211.4 569.50,211.4 569.75,211.3 570.00,212.5 570.25,211.1 570.50,212.3 570.75,211.0 571.00,211.6 571.25,212.0 571.50,212.1 571.75,212.3 572.00,212.8 572.25,213.5 572.50,212.3 572.75,212.4 573.00,212.3 573.25,212.8 573.50,212.1 573.75,212.9 574.00,213.3 574.25,211.9 574.50,212.5 574.75,212.6 575.00,212.4 575.25,211.4 575.50,212.0 575.75,212.4 576.00,212.6 576.25,212.5 576.50,212.1 576.75,212.8 577.00,212.3 577.25,212.3 577.50,212.8 577.75,212.4 578.00,212.7 578.25,212.3 578.50,211.7 578.75,211.8 579.00,213.5 579.25,213.3 579.50,213.1 579.75,213.8 580.00,214.5 580.25,214.1 580.50,214.2 580.75,214.2 581.00,213.5 581.25,213.7 581.50,214.1 581.75,212.9 582.00,213.8 582.25,212.7 582.50,213.7 582.75,213.4 583.00,213.7 583.25,213.7 583.50,214.1 583.75,214.3 584.00,214.0 584.25,213.1 584.50,212.9 584.75,212.7 585.00,213.8 585.25,212.4 585.50,212.9 585.75,213.7 586.00,213.3 586.25,213.3 586.50,213.1 586.75,214.3 587.00,214.1 587.25,213.1 587.50,213.3 587.75,214.2 588.00,213.8 588.25,213.5 588.50,214.0 588.75,214.2 589.00,214.8 589.25,214.5 589.50,213.6 589.75,213.8 590.00,213.6 590.25,214.3 590.50,214.9 590.75,214.0 591.00,213.8 591.25,213.7 591.50,212.9 591.75,212.9 592.00,213.4 592.25,213.5 592.50,213.3 592.75,213.4 593.00,212.6 593.25,213.9 593.50,212.6 593.75,212.8 594.00,213.2 594.25,213.9 594.50,213.1 594.75,214.0 595.00,214.1 595.25,213.7 595.50,213.8 595.75,213.8 596.00,214.3 596.25,214.1 596.50,213.5 596.75,214.5 597.00,215.2 597.25,215.2 597.50,215.1 597.75,214.0 598.00,214.4 598.25,213.9 598.50,214.4 598.75,213.7 599.00,215.4 599.25,215.4 599.50,214.6 599.75,214.5 600.00,215.4 600.25,215.1 600.50,215.2 600.75,214.7 601.00,215.3 601.25,215.4 601.50,215.0 601.75,215.1 602.00,214.5 602.25,214.5 602.50,214.0 602.75,214.6 603.00,214.5 603.25,214.7 603.50,213.3 603.75,214.8 604.00,214.1 604.25,214.2 604.50,215.0 604.75,214.2 605.00,214.5 605.25,215.3 605.50,215.9 605.75,215.5 606.00,215.7 606.25,216.0 606.50,215.9 606.75,215.1 607.00,215.6 607.25,215.6 607.50,214.9 607.75,214.3 608.00,215.5 608.25,215.5 608.50,214.3 608.75,216.0 609.00,215.2 609.25,214.5 609.50,215.2 609.75,215.6 610.00,215.4 610.25,215.1 610.50,215.8 610.75,215.4 611.00,215.6 611.25,215.1 611.50,215.0 611.75,215.4 612.00,215.1 612.25,214.9 612.50,214.4 612.75,215.0 613.00,215.4 613.25,215.1 613.50,214.3 613.75,214.8 614.00,215.0 614.25,216.5 614.50,215.1 614.75,215.9 615.00,216.0 615.25,216.1 615.50,215.9 615.75,217.0 616.00,215.5 616.25,216.5 616.50,215.0 616.75,215.5 617.00,215.9 617.25,216.0 617.50,215.7 617.75,214.8 618.00,215.5 618.25,215.4 618.50,215.8 618.75,214.7 619.00,215.6 619.25,215.8 619.50,215.4 619.75,215.9 620.00,215.8 620.25,216.4 620.50,216.3 620.75,215.3 621.00,215.9 621.25,215.3 621.50,215.4 621.75,215.3 622.00,215.4 622.25,215.3 622.50,215.9 622.75,216.0 623.00,215.4 623.25,216.4 623.50,216.3 623.75,216.4 624.00,216.1 624.25,215.1 624.50,215.0 624.75,215.8 625.00,216.3 625.25,216.0 625.50,215.7 625.75,215.1 626.00,216.0 626.25,215.5 626.50,215.6 626.75,216.6 627.00,215.4 627.25,215.3 627.50,215.7 627.75,216.0 628.00,215.5 628.25,215.9 628.50,216.2 628.75,216.1 629.00,215.7 629.25,216.8 629.50,216.5 629.75,216.7 630.00,216.5 630.25,216.6 630.50,216.9 630.75,216.6 631.00,216.7 631.25,216.0 631.50,216.1 631.75,216.7 632.00,216.8 632.25,217.2 632.50,217.6 632.75,217.1 633.00,216.8 633.25,218.0 633.50,217.5 633.75,216.4 634.00,216.1 634.25,217.0 634.50,217.0 634.75,217.1 635.00,215.9 635.25,216.2 635.50,216.2 635.75,216.5 636.00,215.9 636.25,216.5 636.50,215.9 636.75,216.8 637.00,216.6 637.25,216.9 637.50,217.2 637.75,217.4 638.00,216.5 638.25,216.6 638.50,217.4 638.75,216.1 639.00,217.3 639.25,216.4 639.50,216.4 639.75,216.7 640.00,217.2 640.25,217.2 640.50,216.5 640.75,217.3 641.00,217.1 641.25,217.2 641.50,217.6 641.75,217.9 642.00,217.9 642.25,217.4 642.50,216.6 642.75,216.9 643.00,216.9 643.25,215.9 643.50,216.0 643.75,216.2 644.00,216.3 644.25,216.1 644.50,215.9 644.75,216.2 645.00,216.0 645.25,216.4 645.50,216.2 645.75,217.4 646.00,217.4 646.25,216.4 646.50,216.5 646.75,217.5 647.00,217.7 647.25,216.9 647.50,217.5 647.75,217.5 648.00,217.1 648.25,217.5 648.50,217.7 648.75,217.2 649.00,218.4 649.25,217.8 649.50,216.1 649.75,216.8 650.00,216.3 650.25,217.2 650.50,215.9 650.75,217.3 651.00,216.7 651.25,216.9 651.50,217.6 651.75,217.2 652.00,218.8 652.25,217.3 652.50,217.6 652.75,217.9 653.00,218.2 653.25,218.1 653.50,218.0 653.75,217.9 654.00,217.4 654.25,217.9 654.50,217.5 654.75,217.9 655.00,216.3 655.25,217.0 655.50,218.4 655.75,217.1 656.00,216.3 656.25,217.3 656.50,217.1 656.75,217.0 657.00,216.3 657.25,216.1 657.50,216.9 657.75,217.9 658.00,217.2 658.25,218.0 658.50,218.1 658.75,217.2 659.00,217.9 659.25,218.1 659.50,217.9 659.75,217.8 660.00,218.5 660.25,217.5 660.50,218.5 660.75,217.7 661.00,218.1 661.25,218.0 661.50,218.0 661.75,217.5" fill="none" stroke="#7f7f7f" stroke-width="1.0" stroke-linejoin="round"/>
<polyline points="380.50,221.2 380.75,221.1 381.00,221.2 381.25,221.2 381.50,221.2 381.75,221.2 382.00,221.2 382.25,221.2 382.50,221.2 382.75,221.1 383.00,221.0 383.25,220.9 383.50,220.9 383.75,220.7 384.00,220.5 384.25,220.1 384.50,219.7 384.75,219.3 385.00,218.7 385.25,218.0 385.50,216.9 385.75,215.6 386.00,214.1 386.25,212.6 386.50,211.2 386.75,209.3 387.00,207.0 387.25,204.6 387.50,201.5 387.75,197.7 388.00,194.1 388.25,189.8 388.50,185.3 388.75,180.5 389.00,175.1 389.25,169.9 389.50,163.9 389.75,157.3 390.00,151.0 390.25,144.8 390.50,138.5 390.75,132.6 391.00,127.1 391.25,121.9 391.50,116.4 391.75,110.5 392.00,105.2 392.25,99.5 392.50,94.6 392.75,88.9 393.00,87.1 393.25,78.8 393.50,73.8 393.75,67.1 394.00,65.4 394.25,58.3 394.50,51.1 394.75,42.6 395.00,33.1 395.25,26.3 395.50,25.7 395.75,19.2 396.00,21.0 396.25,22.3 396.50,23.2 396.75,23.3 397.00,22.8 397.25,21.6 397.50,19.8 397.75,18.4 398.00,20.9 398.25,23.3 398.50,25.6 398.75,27.5 399.00,28.8 399.25,29.5 399.50,29.6 399.75,29.1 400.00,28.1 400.25,26.8 400.50,25.2 400.75,23.5 401.00,16.0 401.25,16.0 401.50,16.0 401.75,16.6 402.00,16.0 402.25,16.0 402.50,16.0 402.75,16.0 403.00,16.0 403.25,16.0 403.50,16.0 403.75,16.0 404.00,16.0 404.25,18.6 404.50,18.1 404.75,19.5 405.00,28.7 405.25,29.5 405.50,33.3 405.75,34.7 406.00,34.6 406.25,40.4 406.50,38.7 406.75,39.5 407.00,46.1 407.25,46.4 407.50,47.3 407.75,51.8 408.00,54.9 408.25,54.1 408.50,57.6 408.75,58.4 409.00,61.6 409.25,63.1 409.50,65.1 409.75,65.8 410.00,66.3 410.25,68.9 410.50,69.9 410.75,73.4 411.00,71.0 411.25,72.8 411.50,73.2 411.75,76.7 412.00,79.0 412.25,78.9 412.50,82.5 412.75,82.8 413.00,84.6 413.25,86.1 413.50,89.4 413.75,87.7 414.00,91.7 414.25,90.7 414.50,91.9 414.75,94.9 415.00,92.6 415.25,94.6 415.50,93.7 415.75,95.0 416.00,99.6 416.25,102.3 416.50,101.1 416.75,101.4 417.00,104.3 417.25,103.5 417.50,107.0 417.75,109.3 418.00,109.8 418.25,110.0 418.50,109.4 418.75,111.7 419.00,111.2 419.25,110.7 419.50,112.1 419.75,111.8 420.00,111.0 420.25,111.6 420.50,111.6 420.75,113.7 421.00,115.3 421.25,115.6 421.50,116.0 421.75,115.9 422.00,117.8 422.25,118.9 422.50,119.1 422.75,118.7 423.00,120.1 423.25,119.0 423.50,120.5 423.75,121.9 424.00,124.1 424.25,122.7 424.50,125.3 424.75,125.6 425.00,126.9 425.25,128.7 425.50,129.3 425.75,129.7 426.00,128.7 426.25,129.2 426.50,131.8 426.75,129.5 427.00,132.1 427.25,131.2 427.50,129.3 427.75,130.8 428.00,131.5 428.25,134.7 428.50,132.1 428.75,134.3 429.00,135.6 429.25,138.3 429.50,139.5 429.75,140.0 430.00,143.3 430.25,141.6 430.50,142.4 430.75,144.9 431.00,145.0 431.25,144.1 431.50,144.3 431.75,145.2 432.00,144.7 432.25,146.0 432.50,146.9 432.75,144.7 433.00,145.3 433.25,147.2 433.50,145.8 433.75,145.6 434.00,144.3 434.25,144.9 434.50,145.4 434.75,148.2 435.00,147.8 435.25,150.6 435.50,151.8 435.75,149.4 436.00,153.0 436.25,151.0 436.50,153.1 436.75,153.3 437.00,151.0 437.25,154.9 437.50,153.1 437.75,152.8 438.00,154.2 438.25,154.7 438.50,154.9 438.75,152.1 439.00,156.6 439.25,156.4 439.50,156.0 439.75,157.3 440.00,155.2 440.25,156.8 440.50,156.3 440.75,156.0 441.00,157.0 441.25,156.3 441.50,158.6 441.75,157.9 442.00,157.5 442.25,157.9 442.50,160.8 442.75,161.6 443.00,158.8 443.25,160.4 443.50,163.4 443.75,160.6 444.00,161.0 444.25,160.5 444.50,159.3 444.75,160.7 445.00,159.9 445.25,161.1 445.50,159.5 445.75,160.9 446.00,160.9 446.25,162.4 446.50,164.7 446.75,164.0 447.00,164.4 447.25,164.3 447.50,165.6 447.75,165.5 448.00,165.6 448.25,166.4 448.50,165.3 448.75,166.5 449.00,164.9 449.25,166.9 449.50,168.2 449.75,166.4 450.00,165.4 450.25,165.5 450.50,167.6 450.75,167.8 451.00,168.4 451.25,168.4 451.50,170.1 451.75,172.8 452.00,169.9 452.25,170.7 452.50,172.4 452.75,171.3 453.00,171.1 453.25,171.0 453.50,169.3 453.75,170.2 454.00,169.2 454.25,168.8 454.50,169.3 454.75,169.3 455.00,171.6 455.25,172.0 455.50,172.7 455.75,174.3 456.00,175.9 456.25,175.5 456.50,176.5 456.75,175.0 457.00,173.7 457.25,174.4 457.50,173.0 457.75,174.8 458.00,173.1 458.25,174.1 458.50,175.5 458.75,175.1 459.00,177.4 459.25,178.3 459.50,177.0 459.75,176.1 460.00,176.8 460.25,176.8 460.50,177.4 460.75,178.1 461.00,177.3 461.25,177.7 461.50,179.3 461.75,178.4 462.00,178.6 462.25,182.1 462.50,180.1 462.75,181.4 463.00,180.4 463.25,179.7 463.50,179.1 463.75,179.1 464.00,179.0 464.25,179.3 464.50,180.1 464.75,179.2 465.00,179.8 465.25,179.1 465.50,179.8 465.75,179.9 466.00,181.6 466.25,180.2 466.50,181.2 466.75,180.9 467.00,181.7 467.25,180.2 467.50,180.8 467.75,180.1 468.00,182.3 468.25,181.2 468.50,181.6 468.75,182.0 469.00,181.0 469.25,182.3 469.50,180.2 469.75,182.7 470.00,182.7 470.25,184.2 470.50,184.6 470.75,185.4 471.00,184.3 471.25,184.8 471.50,185.4 471.75,186.2 472.00,185.5 472.25,184.9 472.50,186.0 472.75,184.9 473.00,186.7 473.25,185.8 473.50,185.8 473.75,185.6 474.00,183.8 474.25,186.2 474.50,184.8 474.75,185.2 475.00,185.6 475.25,185.3 475.50,186.0 475.75,184.8 476.00,184.9 476.25,186.4 476.50,185.6 476.75,186.1 477.00,188.6 477.25,186.9 477.50,187.6 477.75,188.0 478.00,188.3 478.25,189.3 478.50,188.8 478.75,190.1 479.00,188.2 479.25,189.7 479.50,188.4 479.75,189.3 480.00,188.7 480.25,189.1 480.50,188.8 480.75,188.4 481.00,188.7 481.25,188.1 481.50,189.4 481.75,189.1 482.00,189.7 482.25,187.6 482.50,187.9 482.75,189.3 483.00,189.4 483.25,190.4 483.50,190.7 483.75,189.5 484.00,191.1 484.25,191.6 484.50,192.0 484.75,191.4 485.00,191.1 485.25,191.8 485.50,191.3 485.75,190.5 486.00,190.7 486.25,190.9 486.50,190.1 486.75,189.9 487.00,189.9 487.25,190.2 487.50,189.8 487.75,190.8 488.00,191.8 488.25,192.0 488.50,191.8 488.75,192.5 489.00,193.0 489.25,191.5 489.50,193.4 489.75,193.1 490.00,192.1 490.25,193.7 490.50,193.9 490.75,195.0 491.00,194.2 491.25,195.7 491.50,194.0 491.75,195.0 492.00,194.2 492.25,194.9 492.50,195.5 492.75,195.1 493.00,193.9 493.25,194.9 493.50,195.5 493.75,194.7 494.00,196.9 494.25,196.0 494.50,195.1 494.75,196.5 495.00,195.7 495.25,196.5 495.50,195.5 495.75,196.3 496.00,196.8 496.25,197.3 496.50,197.5 496.75,197.9 497.00,197.5 497.25,198.2 497.50,197.0 497.75,196.7 498.00,195.6 498.25,196.9 498.50,196.1 498.75,197.8 499.00,197.5 499.25,196.7 499.50,197.4 499.75,196.4 500.00,196.6 500.25,197.6 500.50,198.2 500.75,198.5 501.00,199.1 501.25,197.4 501.50,198.3 501.75,196.8 502.00,198.1 502.25,195.8 502.50,197.2 502.75,197.0 503.00,196.6 503.25,196.5 503.50,196.6 503.75,197.8 504.00,198.9 504.25,197.5 504.50,198.8 504.75,199.7 505.00,200.0 505.25,199.6 505.50,201.1 505.75,199.9 506.00,200.2 506.25,198.9 506.50,199.3 506.75,199.9 507.00,201.3 507.25,200.5 507.50,200.2 507.75,199.7 508.00,201.5 508.25,200.7 508.50,201.7 508.75,199.9 509.00,201.1 509.25,201.5 509.50,200.7 509.75,201.3 510.00,201.3 510.25,201.2 510.50,201.9 510.75,202.2 511.00,201.0 511.25,202.3 511.50,202.9 511.75,201.6 512.00,202.4 512.25,202.0 512.50,203.4 512.75,203.1 513.00,202.7 513.25,202.5 513.50,203.1 513.75,201.4 514.00,203.3 514.25,202.2 514.50,202.6 514.75,202.6 515.00,202.5 515.25,201.0 515.50,203.1 515.75,204.2 516.00,202.7 516.25,203.6 516.50,203.8 516.75,203.8 517.00,203.0 517.25,204.5 517.50,203.9 517.75,202.9 518.00,203.3 518.25,202.7 518.50,203.4 518.75,202.8 519.00,201.9 519.25,204.5 519.50,202.3 519.75,204.3 520.00,201.4 520.25,202.2 520.50,202.0 520.75,201.9 521.00,203.6 521.25,203.1 521.50,203.9 521.75,203.2 522.00,203.8 522.25,203.4 522.50,204.1 522.75,203.8 523.00,204.4 523.25,204.3 523.50,204.4 523.75,204.0 524.00,203.4 524.25,202.8 524.50,203.9 524.75,202.8 525.00,203.9 525.25,202.7 525.50,203.8 525.75,204.5 526.00,204.3 526.25,203.9 526.50,204.6 526.75,204.5 527.00,205.1 527.25,204.0 527.50,204.9 527.75,205.6 528.00,205.6 528.25,204.6 528.50,205.8 528.75,205.9 529.00,206.6 529.25,205.4 529.50,206.4 529.75,206.4 530.00,205.2 530.25,207.3 530.50,206.4 530.75,207.4 531.00,208.0 531.25,207.4 531.50,207.2 531.75,206.7 532.00,206.7 532.25,206.6 532.50,206.4 532.75,205.5 533.00,205.6 533.25,206.5 533.50,206.0 533.75,206.3 534.00,205.4 534.25,207.1 534.50,206.0 534.75,206.1 535.00,206.9 535.25,207.1 535.50,206.8 535.75,207.9 536.00,207.6 536.25,208.1 536.50,207.1 536.75,208.1 537.00,207.8 537.25,208.8 537.50,207.9 537.75,206.8 538.00,207.0 538.25,206.3 538.50,208.6 538.75,208.6 539.00,206.1 539.25,207.0 539.50,208.2 539.75,207.2 540.00,207.6 540.25,207.9 540.50,208.1 540.75,207.9 541.00,208.1 541.25,208.2 541.50,208.0 541.75,208.2 542.00,208.3 542.25,208.5 542.50,208.8 542.75,208.5 543.00,208.1 543.25,208.4 543.50,208.3 543.75,207.1 544.00,207.0 544.25,208.0 544.50,208.6 544.75,207.4 545.00,209.2 545.25,207.4 545.50,207.6 545.75,208.5 546.00,208.2 546.25,208.7 546.50,207.9 546.75,208.7 547.00,208.9 547.25,208.1 547.50,208.7 547.75,208.6 548.00,208.9 548.25,209.3 548.50,208.9 548.75,209.5 549.00,208.7 549.25,209.1 549.50,208.0 549.75,208.8 550.00,208.1 550.25,208.1 550.50,208.9 550.75,209.9 551.00,209.2 551.25,210.6 551.50,209.8 551.75,211.0 552.00,210.4 552.25,210.2 552.50,210.4 552.75,209.8 553.00,209.5 553.25,209.7 553.50,209.6 553.75,208.9 554.00,209.2 554.25,209.4 554.50,209.9 554.75,210.3 555.00,210.0 555.25,209.2 555.50,209.7 555.75,209.5 556.00,210.8 556.25,211.2 556.50,210.2 556.75,211.9 557.00,210.8 557.25,211.6 557.50,210.7 557.75,210.6 558.00,211.5 558.25,210.1 558.50,210.5 558.75,210.7 559.00,211.2 559.25,211.3 559.50,211.2 559.75,210.8 560.00,211.7 560.25,212.8 560.50,213.0 560.75,211.9 561.00,212.1 561.25,211.2 561.50,211.1 561.75,210.6 562.00,210.2 562.25,210.3 562.50,210.7 562.75,212.1 563.00,210.9 563.25,211.1 563.50,211.5 563.75,212.6 564.00,211.7 564.25,211.4 564.50,211.7 564.75,212.0 565.00,212.8 565.25,212.1 565.50,210.6 565.75,211.4 566.00,210.9 566.25,211.4 566.50,211.9 566.75,210.6 567.00,211.0 567.25,210.6 567.50,211.2 567.75,211.8 568.00,210.3 568.25,211.1 568.50,210.7 568.75,210.7 569.00,210.5 569.25,210.9 569.50,210.8 569.75,211.9 570.00,211.6 570.25,211.6 570.50,212.7 570.75,213.1 571.00,212.4 571.25,211.4 571.50,211.7 571.75,211.1 572.00,211.5 572.25,212.5 572.50,212.0 572.75,212.3 573.00,212.7 573.25,211.9 573.50,211.2 573.75,211.5 574.00,211.5 574.25,211.4 574.50,211.9 574.75,210.9 575.00,211.5 575.25,211.8 575.50,213.4 575.75,211.9 576.00,212.0 576.25,212.7 576.50,213.6 576.75,212.2 577.00,212.8 577.25,212.6 577.50,212.5 577.75,212.4 578.00,212.8 578.25,212.1 578.50,211.7 578.75,212.5 579.00,213.1 579.25,212.8 579.50,212.7 579.75,212.8 580.00,212.5 580.25,212.7 580.50,212.7 580.75,212.7 581.00,213.4 581.25,212.6 581.50,212.4 581.75,212.7 582.00,212.7 582.25,211.2 582.50,212.4 582.75,211.4 583.00,212.8 583.25,212.8 583.50,213.2 583.75,213.1 584.00,213.2 584.25,213.0 584.50,213.1 584.75,213.6 585.00,213.6 585.25,214.1 585.50,214.3 585.75,214.4 586.00,214.2 586.25,213.3 586.50,215.2 586.75,213.6 587.00,213.4 587.25,213.8 587.50,213.1 587.75,212.6 588.00,213.6 588.25,213.2 588.50,213.7 588.75,213.7 589.00,213.6 589.25,213.7 589.50,213.9 589.75,213.8 590.00,212.8 590.25,212.5 590.50,213.0 590.75,212.7 591.00,213.3 591.25,213.4 591.50,213.2 591.75,212.8 592.00,213.3 592.25,214.0 592.50,212.8 592.75,212.1 593.00,212.9 593.25,213.9 593.50,213.1 593.75,212.4 594.00,213.8 594.25,213.7 594.50,214.3 594.75,214.0 595.00,215.2 595.25,214.5 595.50,214.2 595.75,213.7 596.00,213.9 596.25,214.5 596.50,214.4 596.75,215.0 597.00,214.9 597.25,214.8 597.50,214.3 597.75,213.5 598.00,214.4 598.25,214.4 598.50,214.0 598.75,215.1 599.00,213.6 599.25,213.5 599.50,214.5 599.75,214.4 600.00,213.4 600.25,214.4 600.50,214.7 600.75,214.9 601.00,213.8 601.25,214.6 601.50,215.0 601.75,214.5 602.00,214.0 602.25,215.4 602.50,215.9 602.75,214.2 603.00,214.8 603.25,214.2 603.50,214.3 603.75,215.4 604.00,215.5 604.25,214.1 604.50,214.9 604.75,214.4 605.00,215.0 605.25,214.0 605.50,214.7 605.75,214.8 606.00,213.7 606.25,214.0 606.50,214.5 606.75,214.0 607.00,215.4 607.25,214.5 607.50,214.6 607.75,215.2 608.00,215.8 608.25,216.2 608.50,215.7 608.75,216.1 609.00,215.3 609.25,215.4 609.50,215.1 609.75,214.8 610.00,215.3 610.25,214.8 610.50,214.8 610.75,215.6 611.00,214.2 611.25,215.1 611.50,215.2 611.75,214.8 612.00,215.1 612.25,216.5 612.50,214.7 612.75,214.7 613.00,215.6 613.25,215.0 613.50,214.8 613.75,215.3 614.00,214.6 614.25,214.4 614.50,213.8 614.75,215.6 615.00,214.9 615.25,215.4 615.50,214.4 615.75,215.7 616.00,215.8 616.25,215.8 616.50,215.4 616.75,215.3 617.00,215.2 617.25,215.6 617.50,215.5 617.75,215.8 618.00,215.7 618.25,215.6 618.50,215.8 618.75,214.3 619.00,215.2 619.25,215.2 619.50,215.4 619.75,215.5 620.00,214.8 620.25,214.8 620.50,216.0 620.75,215.9 621.00,214.8 621.25,216.0 621.50,215.2 621.75,214.6 622.00,215.1 622.25,214.3 622.50,215.5 622.75,214.7 623.00,214.6 623.25,216.0 623.50,215.5 623.75,215.2 624.00,216.3 624.25,216.2 624.50,216.3 624.75,216.8 625.00,216.1 625.25,215.1 625.50,215.8 625.75,215.0 626.00,216.9 626.25,215.6 626.50,216.6 626.75,216.2 627.00,215.6 627.25,215.2 627.50,216.0 627.75,215.2 628.00,215.9 628.25,216.0 628.50,216.7 628.75,216.7 629.00,216.5 629.25,216.3 629.50,215.4 629.75,215.3 630.00,215.6 630.25,216.1 630.50,215.9 630.75,215.7 631.00,216.9 631.25,216.4 631.50,215.9 631.75,216.7 632.00,215.4 632.25,215.9 632.50,215.9 632.75,216.0 633.00,216.5 633.25,216.2 633.50,216.7 633.75,216.8 634.00,216.5 634.25,215.8 634.50,216.8 634.75,216.0 635.00,215.9 635.25,216.5 635.50,216.7 635.75,216.3 636.00,216.9 636.25,217.4 636.50,216.0 636.75,217.3 637.00,216.9 637.25,217.0 637.50,216.7 637.75,216.3 638.00,216.9 638.25,216.9 638.50,216.7 638.75,217.2 639.00,216.8 639.25,216.5 639.50,216.9 639.75,216.3 640.00,216.9 640.25,216.9 640.50,218.4 640.75,217.4 641.00,216.8 641.25,217.7 641.50,217.2 641.75,216.7 642.00,216.6 642.25,217.0 642.50,217.0 642.75,216.9 643.00,218.0 643.25,217.2 643.50,217.7 643.75,217.5 644.00,218.0 644.25,218.2 644.50,217.4 644.75,217.1 645.00,217.2 645.25,218.0 645.50,217.7 645.75,217.8 646.00,217.2 646.25,217.0 646.50,217.2 646.75,217.3 647.00,217.0 647.25,217.8 647.50,217.9 647.75,217.4 648.00,218.4 648.25,218.4 648.50,217.8 648.75,217.0 649.00,218.3 649.25,217.8 649.50,218.1 649.75,217.3 650.00,217.3 650.25,217.3 650.50,217.5 650.75,217.4 651.00,218.0 651.25,217.8 651.50,217.2 651.75,218.7 652.00,217.0 652.25,218.1 652.50,217.5 652.75,217.0 653.00,218.8 653.25,218.2 653.50,217.8 653.75,217.4 654.00,216.9 654.25,216.6 654.50,217.6 654.75,216.8 655.00,217.5 655.25,217.6 655.50,217.0 655.75,217.8 656.00,218.1 656.25,217.1 656.50,217.5 656.75,217.7 657.00,217.8 657.25,218.8 657.50,217.7 657.75,217.2 658.00,217.9 658.25,217.6 658.50,217.7 658.75,217.3 659.00,217.6 659.25,218.8 659.50,217.6 659.75,217.5 660.00,218.8 660.25,218.0 660.50,217.6 660.75,217.3 661.00,218.2 661.25,216.9 661.50,217.7 661.75,217.9" fill="none" stroke="#bcbd22" stroke-width="1.0" stroke-linejoin="round"/>
</g>
<rect x="380.5" y="6.5" width="281.0" height="225.0" fill="none" stroke="#7a7a7a" stroke-width="1.1"/>
<line x1="585" y1="19.5" x2="607.3" y2="19.5" stroke="#1f77b4" stroke-width="1"/>
<text x="615.8" y="24.10" font-size="10.9">g-CQDs</text>
<line x1="585" y1="34.7" x2="607.3" y2="34.7" stroke="#ff7f0e" stroke-width="1"/>
<text x="615.8" y="39.05" font-size="10.9">N-0.25</text>
<line x1="585" y1="49.6" x2="607.3" y2="49.6" stroke="#2ca02c" stroke-width="1"/>
<text x="615.8" y="54.00" font-size="10.9">N-0.5</text>
<line x1="585" y1="64.9" x2="607.3" y2="64.9" stroke="#d62728" stroke-width="1"/>
<text x="615.8" y="68.95" font-size="10.9">N-0.75</text>
<line x1="585" y1="80" x2="607.3" y2="80" stroke="#9467bd" stroke-width="1"/>
<text x="615.8" y="83.90" font-size="10.9">N-1</text>
<line x1="585" y1="95.3" x2="607.3" y2="95.3" stroke="#8c564b" stroke-width="1"/>
<text x="615.8" y="98.85" font-size="10.9">N-2.5</text>
<line x1="585" y1="110.2" x2="607.3" y2="110.2" stroke="#e377c2" stroke-width="1"/>
<text x="615.8" y="113.80" font-size="10.9">N-5</text>
<line x1="585" y1="124.5" x2="607.3" y2="124.5" stroke="#7f7f7f" stroke-width="1"/>
<text x="615.8" y="128.75" font-size="10.9">N-7.5</text>
<line x1="585" y1="139.5" x2="607.3" y2="139.5" stroke="#bcbd22" stroke-width="1"/>
<text x="615.8" y="143.70" font-size="10.9">N-10</text>
</svg></body></html>
